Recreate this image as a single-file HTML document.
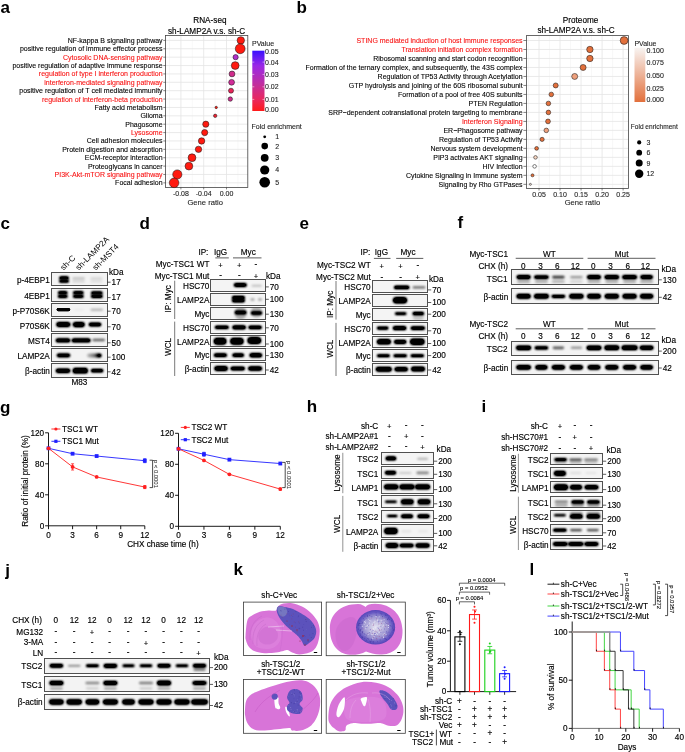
<!DOCTYPE html>
<html><head><meta charset="utf-8"><title>Figure</title>
<style>
html,body{margin:0;padding:0;background:#fff;}
svg{display:block;will-change:transform;}
text{font-family:"Liberation Sans", sans-serif;}
</style></head>
<body>
<svg width="685" height="752" viewBox="0 0 685 752" font-family="Liberation Sans, sans-serif">
<defs><filter id="f3" x="-50%" y="-100%" width="200%" height="300%"><feGaussianBlur stdDeviation="0.3"/></filter>
<filter id="g3" x="-50%" y="-100%" width="200%" height="300%"><feGaussianBlur stdDeviation="0.3"/><feComponentTransfer><feFuncA type="linear" slope="1.7"/></feComponentTransfer></filter>
<filter id="f4" x="-50%" y="-100%" width="200%" height="300%"><feGaussianBlur stdDeviation="0.4"/></filter>
<filter id="g4" x="-50%" y="-100%" width="200%" height="300%"><feGaussianBlur stdDeviation="0.4"/><feComponentTransfer><feFuncA type="linear" slope="1.7"/></feComponentTransfer></filter>
<filter id="f5" x="-50%" y="-100%" width="200%" height="300%"><feGaussianBlur stdDeviation="0.5"/></filter>
<filter id="g5" x="-50%" y="-100%" width="200%" height="300%"><feGaussianBlur stdDeviation="0.5"/><feComponentTransfer><feFuncA type="linear" slope="1.7"/></feComponentTransfer></filter>
<filter id="f6" x="-50%" y="-100%" width="200%" height="300%"><feGaussianBlur stdDeviation="0.6"/></filter>
<filter id="g6" x="-50%" y="-100%" width="200%" height="300%"><feGaussianBlur stdDeviation="0.6"/><feComponentTransfer><feFuncA type="linear" slope="1.7"/></feComponentTransfer></filter>
<filter id="f7" x="-50%" y="-100%" width="200%" height="300%"><feGaussianBlur stdDeviation="0.7"/></filter>
<filter id="g7" x="-50%" y="-100%" width="200%" height="300%"><feGaussianBlur stdDeviation="0.7"/><feComponentTransfer><feFuncA type="linear" slope="1.7"/></feComponentTransfer></filter>
<filter id="f8" x="-50%" y="-100%" width="200%" height="300%"><feGaussianBlur stdDeviation="0.8"/></filter>
<filter id="g8" x="-50%" y="-100%" width="200%" height="300%"><feGaussianBlur stdDeviation="0.8"/><feComponentTransfer><feFuncA type="linear" slope="1.7"/></feComponentTransfer></filter>
<filter id="f9" x="-50%" y="-100%" width="200%" height="300%"><feGaussianBlur stdDeviation="0.9"/></filter>
<filter id="g9" x="-50%" y="-100%" width="200%" height="300%"><feGaussianBlur stdDeviation="0.9"/><feComponentTransfer><feFuncA type="linear" slope="1.7"/></feComponentTransfer></filter>
<filter id="f10" x="-50%" y="-100%" width="200%" height="300%"><feGaussianBlur stdDeviation="1.0"/></filter>
<filter id="g10" x="-50%" y="-100%" width="200%" height="300%"><feGaussianBlur stdDeviation="1.0"/><feComponentTransfer><feFuncA type="linear" slope="1.7"/></feComponentTransfer></filter>
<filter id="f12" x="-50%" y="-100%" width="200%" height="300%"><feGaussianBlur stdDeviation="1.2"/></filter>
<filter id="g12" x="-50%" y="-100%" width="200%" height="300%"><feGaussianBlur stdDeviation="1.2"/><feComponentTransfer><feFuncA type="linear" slope="1.7"/></feComponentTransfer></filter>
<linearGradient id="lgL" x1="0" y1="0" x2="1" y2="0"><stop offset="0" stop-color="#000" stop-opacity="0.12"/><stop offset="0.55" stop-color="#000" stop-opacity="0.35"/><stop offset="0.8" stop-color="#000" stop-opacity="0.75"/><stop offset="1" stop-color="#000" stop-opacity="1"/></linearGradient></defs>
<rect x="0" y="0" width="685" height="752" fill="#fff"/>
<text x="0.4" y="12.6" font-size="17" font-weight="bold">a</text>
<text x="209.90" y="23.07" font-size="8.2" text-anchor="middle" stroke="#000" stroke-width="0.15">RNA-seq</text>
<text x="206.60" y="34.07" font-size="8.2" text-anchor="middle" stroke="#000" stroke-width="0.15">sh-LAMP2A v.s. sh-C</text>
<rect x="165.50" y="35.40" width="82.30" height="152.00" fill="#fff" stroke="none" stroke-width="0.8"/>
<line x1="169.50" y1="35.40" x2="169.50" y2="187.40" stroke="#f0f0f0" stroke-width="0.5"/>
<line x1="192.30" y1="35.40" x2="192.30" y2="187.40" stroke="#f0f0f0" stroke-width="0.5"/>
<line x1="215.10" y1="35.40" x2="215.10" y2="187.40" stroke="#f0f0f0" stroke-width="0.5"/>
<line x1="237.90" y1="35.40" x2="237.90" y2="187.40" stroke="#f0f0f0" stroke-width="0.5"/>
<line x1="180.90" y1="35.40" x2="180.90" y2="187.40" stroke="#e4e4e4" stroke-width="0.8"/>
<line x1="203.70" y1="35.40" x2="203.70" y2="187.40" stroke="#e4e4e4" stroke-width="0.8"/>
<line x1="226.50" y1="35.40" x2="226.50" y2="187.40" stroke="#e4e4e4" stroke-width="0.8"/>
<line x1="165.50" y1="40.40" x2="247.80" y2="40.40" stroke="#e4e4e4" stroke-width="0.8"/>
<line x1="165.50" y1="48.78" x2="247.80" y2="48.78" stroke="#e4e4e4" stroke-width="0.8"/>
<line x1="165.50" y1="57.16" x2="247.80" y2="57.16" stroke="#e4e4e4" stroke-width="0.8"/>
<line x1="165.50" y1="65.54" x2="247.80" y2="65.54" stroke="#e4e4e4" stroke-width="0.8"/>
<line x1="165.50" y1="73.92" x2="247.80" y2="73.92" stroke="#e4e4e4" stroke-width="0.8"/>
<line x1="165.50" y1="82.30" x2="247.80" y2="82.30" stroke="#e4e4e4" stroke-width="0.8"/>
<line x1="165.50" y1="90.68" x2="247.80" y2="90.68" stroke="#e4e4e4" stroke-width="0.8"/>
<line x1="165.50" y1="99.06" x2="247.80" y2="99.06" stroke="#e4e4e4" stroke-width="0.8"/>
<line x1="165.50" y1="107.44" x2="247.80" y2="107.44" stroke="#e4e4e4" stroke-width="0.8"/>
<line x1="165.50" y1="115.82" x2="247.80" y2="115.82" stroke="#e4e4e4" stroke-width="0.8"/>
<line x1="165.50" y1="124.20" x2="247.80" y2="124.20" stroke="#e4e4e4" stroke-width="0.8"/>
<line x1="165.50" y1="132.58" x2="247.80" y2="132.58" stroke="#e4e4e4" stroke-width="0.8"/>
<line x1="165.50" y1="140.96" x2="247.80" y2="140.96" stroke="#e4e4e4" stroke-width="0.8"/>
<line x1="165.50" y1="149.34" x2="247.80" y2="149.34" stroke="#e4e4e4" stroke-width="0.8"/>
<line x1="165.50" y1="157.72" x2="247.80" y2="157.72" stroke="#e4e4e4" stroke-width="0.8"/>
<line x1="165.50" y1="166.10" x2="247.80" y2="166.10" stroke="#e4e4e4" stroke-width="0.8"/>
<line x1="165.50" y1="174.48" x2="247.80" y2="174.48" stroke="#e4e4e4" stroke-width="0.8"/>
<line x1="165.50" y1="182.86" x2="247.80" y2="182.86" stroke="#e4e4e4" stroke-width="0.8"/>
<rect x="165.50" y="35.40" width="82.30" height="152.00" fill="none" stroke="#444" stroke-width="0.8"/>
<text x="162.60" y="42.85" font-size="7.0" text-anchor="end" stroke="#000" stroke-width="0.1">NF-kappa B signaling pathway</text>
<line x1="163.30" y1="40.40" x2="165.50" y2="40.40" stroke="#333" stroke-width="0.6"/>
<text x="162.60" y="51.23" font-size="7.0" text-anchor="end" stroke="#000" stroke-width="0.1">positive regulation of immune effector process</text>
<line x1="163.30" y1="48.78" x2="165.50" y2="48.78" stroke="#333" stroke-width="0.6"/>
<text x="162.60" y="59.61" font-size="7.0" text-anchor="end" fill="#f81414" stroke="#f81414" stroke-width="0.1">Cytosolic DNA-sensing pathway</text>
<line x1="163.30" y1="57.16" x2="165.50" y2="57.16" stroke="#333" stroke-width="0.6"/>
<text x="162.60" y="67.99" font-size="7.0" text-anchor="end" stroke="#000" stroke-width="0.1">positive regulation of adaptive immune response</text>
<line x1="163.30" y1="65.54" x2="165.50" y2="65.54" stroke="#333" stroke-width="0.6"/>
<text x="162.60" y="76.37" font-size="7.0" text-anchor="end" fill="#f81414" stroke="#f81414" stroke-width="0.1">regulation of type I interferon production</text>
<line x1="163.30" y1="73.92" x2="165.50" y2="73.92" stroke="#333" stroke-width="0.6"/>
<text x="162.60" y="84.75" font-size="7.0" text-anchor="end" fill="#f81414" stroke="#f81414" stroke-width="0.1">interferon-mediated signaling pathway</text>
<line x1="163.30" y1="82.30" x2="165.50" y2="82.30" stroke="#333" stroke-width="0.6"/>
<text x="162.60" y="93.13" font-size="7.0" text-anchor="end" stroke="#000" stroke-width="0.1">positive regulation of T cell mediated immunity</text>
<line x1="163.30" y1="90.68" x2="165.50" y2="90.68" stroke="#333" stroke-width="0.6"/>
<text x="162.60" y="101.51" font-size="7.0" text-anchor="end" fill="#f81414" stroke="#f81414" stroke-width="0.1">regulation of interferon-beta production</text>
<line x1="163.30" y1="99.06" x2="165.50" y2="99.06" stroke="#333" stroke-width="0.6"/>
<text x="162.60" y="109.89" font-size="7.0" text-anchor="end" stroke="#000" stroke-width="0.1">Fatty acid metabolism</text>
<line x1="163.30" y1="107.44" x2="165.50" y2="107.44" stroke="#333" stroke-width="0.6"/>
<text x="162.60" y="118.27" font-size="7.0" text-anchor="end" stroke="#000" stroke-width="0.1">Glioma</text>
<line x1="163.30" y1="115.82" x2="165.50" y2="115.82" stroke="#333" stroke-width="0.6"/>
<text x="162.60" y="126.65" font-size="7.0" text-anchor="end" stroke="#000" stroke-width="0.1">Phagosome</text>
<line x1="163.30" y1="124.20" x2="165.50" y2="124.20" stroke="#333" stroke-width="0.6"/>
<text x="162.60" y="135.03" font-size="7.0" text-anchor="end" fill="#f81414" stroke="#f81414" stroke-width="0.1">Lysosome</text>
<line x1="163.30" y1="132.58" x2="165.50" y2="132.58" stroke="#333" stroke-width="0.6"/>
<text x="162.60" y="143.41" font-size="7.0" text-anchor="end" stroke="#000" stroke-width="0.1">Cell adhesion molecules</text>
<line x1="163.30" y1="140.96" x2="165.50" y2="140.96" stroke="#333" stroke-width="0.6"/>
<text x="162.60" y="151.79" font-size="7.0" text-anchor="end" stroke="#000" stroke-width="0.1">Protein digestion and absorption</text>
<line x1="163.30" y1="149.34" x2="165.50" y2="149.34" stroke="#333" stroke-width="0.6"/>
<text x="162.60" y="160.17" font-size="7.0" text-anchor="end" stroke="#000" stroke-width="0.1">ECM-receptor interaction</text>
<line x1="163.30" y1="157.72" x2="165.50" y2="157.72" stroke="#333" stroke-width="0.6"/>
<text x="162.60" y="168.55" font-size="7.0" text-anchor="end" stroke="#000" stroke-width="0.1">Proteoglycans in cancer</text>
<line x1="163.30" y1="166.10" x2="165.50" y2="166.10" stroke="#333" stroke-width="0.6"/>
<text x="162.60" y="176.93" font-size="7.0" text-anchor="end" fill="#f81414" stroke="#f81414" stroke-width="0.1">PI3K-Akt-mTOR signaling pathway</text>
<line x1="163.30" y1="174.48" x2="165.50" y2="174.48" stroke="#333" stroke-width="0.6"/>
<text x="162.60" y="185.31" font-size="7.0" text-anchor="end" stroke="#000" stroke-width="0.1">Focal adhesion</text>
<line x1="163.30" y1="182.86" x2="165.50" y2="182.86" stroke="#333" stroke-width="0.6"/>
<circle cx="240.80" cy="40.40" r="3.70" fill="#ff1a10" stroke="#1a1a1a" stroke-width="0.55"/>
<circle cx="240.20" cy="48.78" r="4.90" fill="#ff1a10" stroke="#1a1a1a" stroke-width="0.55"/>
<circle cx="235.60" cy="57.16" r="2.60" fill="#b030c8" stroke="#1a1a1a" stroke-width="0.55"/>
<circle cx="235.20" cy="65.54" r="3.90" fill="#ff1a10" stroke="#1a1a1a" stroke-width="0.55"/>
<circle cx="232.00" cy="73.92" r="2.90" fill="#d02c8c" stroke="#1a1a1a" stroke-width="0.55"/>
<circle cx="231.60" cy="82.30" r="2.90" fill="#d02c98" stroke="#1a1a1a" stroke-width="0.55"/>
<circle cx="231.00" cy="90.68" r="2.50" fill="#e82458" stroke="#1a1a1a" stroke-width="0.55"/>
<circle cx="230.30" cy="99.06" r="2.20" fill="#d02c8c" stroke="#1a1a1a" stroke-width="0.55"/>
<circle cx="216.20" cy="107.44" r="1.20" fill="#ff1a10" stroke="#1a1a1a" stroke-width="0.55"/>
<circle cx="215.20" cy="115.82" r="1.70" fill="#f02030" stroke="#1a1a1a" stroke-width="0.55"/>
<circle cx="205.80" cy="124.20" r="3.10" fill="#ff1a10" stroke="#1a1a1a" stroke-width="0.55"/>
<circle cx="204.70" cy="132.58" r="3.10" fill="#ff1a10" stroke="#1a1a1a" stroke-width="0.55"/>
<circle cx="201.60" cy="140.96" r="3.20" fill="#ff1a10" stroke="#1a1a1a" stroke-width="0.55"/>
<circle cx="198.50" cy="149.34" r="3.20" fill="#ff1a10" stroke="#1a1a1a" stroke-width="0.55"/>
<circle cx="192.00" cy="157.72" r="3.90" fill="#ff1a10" stroke="#1a1a1a" stroke-width="0.55"/>
<circle cx="188.90" cy="166.10" r="3.90" fill="#ff1a10" stroke="#1a1a1a" stroke-width="0.55"/>
<circle cx="177.30" cy="174.48" r="4.60" fill="#ff1a10" stroke="#1a1a1a" stroke-width="0.55"/>
<circle cx="174.10" cy="182.86" r="4.80" fill="#ff1a10" stroke="#1a1a1a" stroke-width="0.55"/>
<line x1="180.90" y1="187.40" x2="180.90" y2="189.40" stroke="#333" stroke-width="0.6"/>
<text x="180.90" y="196.05" font-size="7.0" text-anchor="middle" fill="#222" stroke="#222" stroke-width="0.1">-0.08</text>
<line x1="203.70" y1="187.40" x2="203.70" y2="189.40" stroke="#333" stroke-width="0.6"/>
<text x="203.70" y="196.05" font-size="7.0" text-anchor="middle" fill="#222" stroke="#222" stroke-width="0.1">-0.04</text>
<line x1="226.50" y1="187.40" x2="226.50" y2="189.40" stroke="#333" stroke-width="0.6"/>
<text x="226.50" y="196.05" font-size="7.0" text-anchor="middle" fill="#222" stroke="#222" stroke-width="0.1">0.00</text>
<text x="205.20" y="204.66" font-size="7.6" text-anchor="middle" fill="#222" stroke="#222" stroke-width="0.1">Gene ratio</text>
<text x="252.00" y="46.05" font-size="7.0" fill="#222" stroke="#222" stroke-width="0.1">PValue</text>
<linearGradient id="ga" x1="0" y1="0" x2="0" y2="1"><stop offset="0" stop-color="#3a10ff"/><stop offset="0.25" stop-color="#9a28e6"/><stop offset="0.55" stop-color="#c02ea0"/><stop offset="0.8" stop-color="#e82860"/><stop offset="1" stop-color="#ff1a1a"/></linearGradient>
<rect x="252.30" y="50.70" width="12.20" height="60.30" fill="url(#ga)" stroke="none" stroke-width="0.8"/>
<text x="265.00" y="54.45" font-size="7.0" fill="#222" stroke="#222" stroke-width="0.1">0.05</text>
<text x="265.00" y="64.55" font-size="7.0" fill="#222" stroke="#222" stroke-width="0.1">0.04</text>
<text x="265.00" y="76.85" font-size="7.0" fill="#222" stroke="#222" stroke-width="0.1">0.03</text>
<text x="265.00" y="89.25" font-size="7.0" fill="#222" stroke="#222" stroke-width="0.1">0.02</text>
<text x="265.00" y="101.85" font-size="7.0" fill="#222" stroke="#222" stroke-width="0.1">0.01</text>
<text x="265.00" y="111.95" font-size="7.0" fill="#222" stroke="#222" stroke-width="0.1">0.00</text>
<line x1="252.30" y1="62.10" x2="254.30" y2="62.10" stroke="#fff" stroke-width="0.5"/>
<line x1="262.50" y1="62.10" x2="264.50" y2="62.10" stroke="#fff" stroke-width="0.5"/>
<line x1="252.30" y1="74.40" x2="254.30" y2="74.40" stroke="#fff" stroke-width="0.5"/>
<line x1="262.50" y1="74.40" x2="264.50" y2="74.40" stroke="#fff" stroke-width="0.5"/>
<line x1="252.30" y1="86.80" x2="254.30" y2="86.80" stroke="#fff" stroke-width="0.5"/>
<line x1="262.50" y1="86.80" x2="264.50" y2="86.80" stroke="#fff" stroke-width="0.5"/>
<line x1="252.30" y1="99.40" x2="254.30" y2="99.40" stroke="#fff" stroke-width="0.5"/>
<line x1="262.50" y1="99.40" x2="264.50" y2="99.40" stroke="#fff" stroke-width="0.5"/>
<text x="251.60" y="128.65" font-size="7.0" fill="#222" stroke="#222" stroke-width="0.1">Fold enrichment</text>
<circle cx="264.70" cy="136.80" r="1.40" fill="#000" stroke="none" stroke-width="0"/>
<text x="275.20" y="139.25" font-size="7.0" fill="#222" stroke="#222" stroke-width="0.1">1</text>
<circle cx="264.70" cy="146.10" r="3.30" fill="#000" stroke="none" stroke-width="0"/>
<text x="275.20" y="148.55" font-size="7.0" fill="#222" stroke="#222" stroke-width="0.1">2</text>
<circle cx="264.70" cy="157.80" r="3.90" fill="#000" stroke="none" stroke-width="0"/>
<text x="275.20" y="160.25" font-size="7.0" fill="#222" stroke="#222" stroke-width="0.1">3</text>
<circle cx="264.70" cy="170.00" r="4.60" fill="#000" stroke="none" stroke-width="0"/>
<text x="275.20" y="172.45" font-size="7.0" fill="#222" stroke="#222" stroke-width="0.1">4</text>
<circle cx="264.70" cy="182.20" r="5.30" fill="#000" stroke="none" stroke-width="0"/>
<text x="275.20" y="184.65" font-size="7.0" fill="#222" stroke="#222" stroke-width="0.1">5</text>
<text x="296.4" y="12.6" font-size="17" font-weight="bold">b</text>
<text x="580.60" y="22.77" font-size="8.2" text-anchor="middle" stroke="#000" stroke-width="0.15">Proteome</text>
<text x="576.00" y="33.27" font-size="8.2" text-anchor="middle" stroke="#000" stroke-width="0.15">sh-LAMP2A v.s. sh-C</text>
<rect x="526.40" y="35.60" width="102.00" height="152.90" fill="#fff" stroke="none" stroke-width="0.8"/>
<line x1="528.49" y1="35.60" x2="528.49" y2="188.50" stroke="#f0f0f0" stroke-width="0.5"/>
<line x1="549.51" y1="35.60" x2="549.51" y2="188.50" stroke="#f0f0f0" stroke-width="0.5"/>
<line x1="570.54" y1="35.60" x2="570.54" y2="188.50" stroke="#f0f0f0" stroke-width="0.5"/>
<line x1="591.56" y1="35.60" x2="591.56" y2="188.50" stroke="#f0f0f0" stroke-width="0.5"/>
<line x1="612.59" y1="35.60" x2="612.59" y2="188.50" stroke="#f0f0f0" stroke-width="0.5"/>
<line x1="539.00" y1="35.60" x2="539.00" y2="188.50" stroke="#e4e4e4" stroke-width="0.8"/>
<line x1="560.02" y1="35.60" x2="560.02" y2="188.50" stroke="#e4e4e4" stroke-width="0.8"/>
<line x1="581.05" y1="35.60" x2="581.05" y2="188.50" stroke="#e4e4e4" stroke-width="0.8"/>
<line x1="602.08" y1="35.60" x2="602.08" y2="188.50" stroke="#e4e4e4" stroke-width="0.8"/>
<line x1="623.10" y1="35.60" x2="623.10" y2="188.50" stroke="#e4e4e4" stroke-width="0.8"/>
<line x1="526.40" y1="40.50" x2="628.40" y2="40.50" stroke="#e4e4e4" stroke-width="0.8"/>
<line x1="526.40" y1="49.49" x2="628.40" y2="49.49" stroke="#e4e4e4" stroke-width="0.8"/>
<line x1="526.40" y1="58.48" x2="628.40" y2="58.48" stroke="#e4e4e4" stroke-width="0.8"/>
<line x1="526.40" y1="67.47" x2="628.40" y2="67.47" stroke="#e4e4e4" stroke-width="0.8"/>
<line x1="526.40" y1="76.46" x2="628.40" y2="76.46" stroke="#e4e4e4" stroke-width="0.8"/>
<line x1="526.40" y1="85.45" x2="628.40" y2="85.45" stroke="#e4e4e4" stroke-width="0.8"/>
<line x1="526.40" y1="94.44" x2="628.40" y2="94.44" stroke="#e4e4e4" stroke-width="0.8"/>
<line x1="526.40" y1="103.43" x2="628.40" y2="103.43" stroke="#e4e4e4" stroke-width="0.8"/>
<line x1="526.40" y1="112.42" x2="628.40" y2="112.42" stroke="#e4e4e4" stroke-width="0.8"/>
<line x1="526.40" y1="121.41" x2="628.40" y2="121.41" stroke="#e4e4e4" stroke-width="0.8"/>
<line x1="526.40" y1="130.40" x2="628.40" y2="130.40" stroke="#e4e4e4" stroke-width="0.8"/>
<line x1="526.40" y1="139.39" x2="628.40" y2="139.39" stroke="#e4e4e4" stroke-width="0.8"/>
<line x1="526.40" y1="148.38" x2="628.40" y2="148.38" stroke="#e4e4e4" stroke-width="0.8"/>
<line x1="526.40" y1="157.37" x2="628.40" y2="157.37" stroke="#e4e4e4" stroke-width="0.8"/>
<line x1="526.40" y1="166.36" x2="628.40" y2="166.36" stroke="#e4e4e4" stroke-width="0.8"/>
<line x1="526.40" y1="175.35" x2="628.40" y2="175.35" stroke="#e4e4e4" stroke-width="0.8"/>
<line x1="526.40" y1="184.34" x2="628.40" y2="184.34" stroke="#e4e4e4" stroke-width="0.8"/>
<rect x="526.40" y="35.60" width="102.00" height="152.90" fill="none" stroke="#444" stroke-width="0.8"/>
<text x="522.60" y="42.95" font-size="7.0" text-anchor="end" fill="#f81414" stroke="#f81414" stroke-width="0.1">STING mediated induction of host immune responses</text>
<line x1="523.40" y1="40.50" x2="526.40" y2="40.50" stroke="#333" stroke-width="0.6"/>
<text x="522.60" y="51.94" font-size="7.0" text-anchor="end" fill="#f81414" stroke="#f81414" stroke-width="0.1">Translation initiation complex formation</text>
<line x1="523.40" y1="49.49" x2="526.40" y2="49.49" stroke="#333" stroke-width="0.6"/>
<text x="522.60" y="60.93" font-size="7.0" text-anchor="end" stroke="#000" stroke-width="0.1">Ribosomal scanning and start codon recognition</text>
<line x1="523.40" y1="58.48" x2="526.40" y2="58.48" stroke="#333" stroke-width="0.6"/>
<text x="522.60" y="69.92" font-size="7.0" text-anchor="end" stroke="#000" stroke-width="0.1">Formation of the ternary complex, and subsequently, the 43S complex</text>
<line x1="523.40" y1="67.47" x2="526.40" y2="67.47" stroke="#333" stroke-width="0.6"/>
<text x="522.60" y="78.91" font-size="7.0" text-anchor="end" stroke="#000" stroke-width="0.1">Regulation of TP53 Activity through Acetylation</text>
<line x1="523.40" y1="76.46" x2="526.40" y2="76.46" stroke="#333" stroke-width="0.6"/>
<text x="522.60" y="87.90" font-size="7.0" text-anchor="end" stroke="#000" stroke-width="0.1">GTP hydrolysis and joining of the 60S ribosomal subunit</text>
<line x1="523.40" y1="85.45" x2="526.40" y2="85.45" stroke="#333" stroke-width="0.6"/>
<text x="522.60" y="96.89" font-size="7.0" text-anchor="end" stroke="#000" stroke-width="0.1">Formation of a pool of free 40S subunits</text>
<line x1="523.40" y1="94.44" x2="526.40" y2="94.44" stroke="#333" stroke-width="0.6"/>
<text x="522.60" y="105.88" font-size="7.0" text-anchor="end" stroke="#000" stroke-width="0.1">PTEN Regulation</text>
<line x1="523.40" y1="103.43" x2="526.40" y2="103.43" stroke="#333" stroke-width="0.6"/>
<text x="522.60" y="114.87" font-size="7.0" text-anchor="end" stroke="#000" stroke-width="0.1">SRP−dependent cotranslational protein targeting to membrane</text>
<line x1="523.40" y1="112.42" x2="526.40" y2="112.42" stroke="#333" stroke-width="0.6"/>
<text x="522.60" y="123.86" font-size="7.0" text-anchor="end" fill="#f81414" stroke="#f81414" stroke-width="0.1">Interferon Signaling</text>
<line x1="523.40" y1="121.41" x2="526.40" y2="121.41" stroke="#333" stroke-width="0.6"/>
<text x="522.60" y="132.85" font-size="7.0" text-anchor="end" stroke="#000" stroke-width="0.1">ER−Phagosome pathway</text>
<line x1="523.40" y1="130.40" x2="526.40" y2="130.40" stroke="#333" stroke-width="0.6"/>
<text x="522.60" y="141.84" font-size="7.0" text-anchor="end" stroke="#000" stroke-width="0.1">Regulation of TP53 Activity</text>
<line x1="523.40" y1="139.39" x2="526.40" y2="139.39" stroke="#333" stroke-width="0.6"/>
<text x="522.60" y="150.83" font-size="7.0" text-anchor="end" stroke="#000" stroke-width="0.1">Nervous system development</text>
<line x1="523.40" y1="148.38" x2="526.40" y2="148.38" stroke="#333" stroke-width="0.6"/>
<text x="522.60" y="159.82" font-size="7.0" text-anchor="end" stroke="#000" stroke-width="0.1">PIP3 activates AKT signaling</text>
<line x1="523.40" y1="157.37" x2="526.40" y2="157.37" stroke="#333" stroke-width="0.6"/>
<text x="522.60" y="168.81" font-size="7.0" text-anchor="end" stroke="#000" stroke-width="0.1">HIV Infection</text>
<line x1="523.40" y1="166.36" x2="526.40" y2="166.36" stroke="#333" stroke-width="0.6"/>
<text x="522.60" y="177.80" font-size="7.0" text-anchor="end" stroke="#000" stroke-width="0.1">Cytokine Signaling in Immune system</text>
<line x1="523.40" y1="175.35" x2="526.40" y2="175.35" stroke="#333" stroke-width="0.6"/>
<text x="522.60" y="186.79" font-size="7.0" text-anchor="end" stroke="#000" stroke-width="0.1">Signaling by Rho GTPases</text>
<line x1="523.40" y1="184.34" x2="526.40" y2="184.34" stroke="#333" stroke-width="0.6"/>
<circle cx="624.10" cy="40.50" r="3.90" fill="#e2703c" stroke="#1a1a1a" stroke-width="0.55"/>
<circle cx="589.90" cy="49.49" r="3.20" fill="#e2703c" stroke="#1a1a1a" stroke-width="0.55"/>
<circle cx="589.90" cy="58.48" r="3.20" fill="#e2703c" stroke="#1a1a1a" stroke-width="0.55"/>
<circle cx="583.10" cy="67.47" r="3.00" fill="#e2703c" stroke="#1a1a1a" stroke-width="0.55"/>
<circle cx="574.70" cy="76.46" r="3.00" fill="#eea07c" stroke="#1a1a1a" stroke-width="0.55"/>
<circle cx="555.70" cy="85.45" r="2.50" fill="#e2703c" stroke="#1a1a1a" stroke-width="0.55"/>
<circle cx="551.30" cy="94.44" r="2.30" fill="#e2703c" stroke="#1a1a1a" stroke-width="0.55"/>
<circle cx="548.40" cy="103.43" r="2.30" fill="#e2703c" stroke="#1a1a1a" stroke-width="0.55"/>
<circle cx="548.40" cy="112.42" r="2.30" fill="#e2703c" stroke="#1a1a1a" stroke-width="0.55"/>
<circle cx="548.00" cy="121.41" r="2.40" fill="#e2703c" stroke="#1a1a1a" stroke-width="0.55"/>
<circle cx="546.30" cy="130.40" r="2.30" fill="#eea07c" stroke="#1a1a1a" stroke-width="0.55"/>
<circle cx="542.10" cy="139.39" r="2.10" fill="#e2703c" stroke="#1a1a1a" stroke-width="0.55"/>
<circle cx="536.60" cy="148.38" r="1.90" fill="#e2703c" stroke="#1a1a1a" stroke-width="0.55"/>
<circle cx="535.50" cy="157.37" r="1.80" fill="#f5d4c0" stroke="#1a1a1a" stroke-width="0.55"/>
<circle cx="534.60" cy="166.36" r="1.80" fill="#ffffff" stroke="#1a1a1a" stroke-width="0.55"/>
<circle cx="532.50" cy="175.35" r="1.50" fill="#e2703c" stroke="#1a1a1a" stroke-width="0.55"/>
<circle cx="530.40" cy="184.34" r="1.00" fill="#f0e0d8" stroke="#1a1a1a" stroke-width="0.55"/>
<line x1="539.00" y1="188.50" x2="539.00" y2="190.50" stroke="#333" stroke-width="0.6"/>
<text x="539.00" y="196.85" font-size="7.0" text-anchor="middle" fill="#222" stroke="#222" stroke-width="0.1">0.05</text>
<line x1="560.02" y1="188.50" x2="560.02" y2="190.50" stroke="#333" stroke-width="0.6"/>
<text x="560.02" y="196.85" font-size="7.0" text-anchor="middle" fill="#222" stroke="#222" stroke-width="0.1">0.10</text>
<line x1="581.05" y1="188.50" x2="581.05" y2="190.50" stroke="#333" stroke-width="0.6"/>
<text x="581.05" y="196.85" font-size="7.0" text-anchor="middle" fill="#222" stroke="#222" stroke-width="0.1">0.15</text>
<line x1="602.08" y1="188.50" x2="602.08" y2="190.50" stroke="#333" stroke-width="0.6"/>
<text x="602.08" y="196.85" font-size="7.0" text-anchor="middle" fill="#222" stroke="#222" stroke-width="0.1">0.20</text>
<line x1="623.10" y1="188.50" x2="623.10" y2="190.50" stroke="#333" stroke-width="0.6"/>
<text x="623.10" y="196.85" font-size="7.0" text-anchor="middle" fill="#222" stroke="#222" stroke-width="0.1">0.25</text>
<text x="582.40" y="204.66" font-size="7.6" text-anchor="middle" fill="#222" stroke="#222" stroke-width="0.1">Gene ratio</text>
<text x="634.40" y="45.85" font-size="7.0" fill="#222" stroke="#222" stroke-width="0.1">PValue</text>
<linearGradient id="gb" x1="0" y1="0" x2="0" y2="1"><stop offset="0" stop-color="#f8f4f2"/><stop offset="1" stop-color="#e2703c"/></linearGradient>
<rect x="634.50" y="47.70" width="10.80" height="54.30" fill="url(#gb)" stroke="none" stroke-width="0.8"/>
<text x="646.40" y="52.55" font-size="7.0" fill="#222" stroke="#222" stroke-width="0.1">0.100</text>
<text x="646.40" y="64.65" font-size="7.0" fill="#222" stroke="#222" stroke-width="0.1">0.075</text>
<text x="646.40" y="77.85" font-size="7.0" fill="#222" stroke="#222" stroke-width="0.1">0.050</text>
<text x="646.40" y="91.15" font-size="7.0" fill="#222" stroke="#222" stroke-width="0.1">0.025</text>
<text x="646.40" y="101.95" font-size="7.0" fill="#222" stroke="#222" stroke-width="0.1">0.000</text>
<text x="630.80" y="129.09" font-size="6.55" fill="#222" stroke="#222" stroke-width="0.1">Fold enrichment</text>
<circle cx="639.20" cy="142.40" r="2.10" fill="#000" stroke="none" stroke-width="0"/>
<text x="646.40" y="144.85" font-size="7.0" fill="#222" stroke="#222" stroke-width="0.1">3</text>
<circle cx="639.20" cy="152.70" r="2.90" fill="#000" stroke="none" stroke-width="0"/>
<text x="646.40" y="155.15" font-size="7.0" fill="#222" stroke="#222" stroke-width="0.1">6</text>
<circle cx="639.20" cy="163.10" r="3.50" fill="#000" stroke="none" stroke-width="0"/>
<text x="646.40" y="165.55" font-size="7.0" fill="#222" stroke="#222" stroke-width="0.1">9</text>
<circle cx="639.20" cy="173.80" r="4.20" fill="#000" stroke="none" stroke-width="0"/>
<text x="646.40" y="176.25" font-size="7.0" fill="#222" stroke="#222" stroke-width="0.1">12</text>
<text x="0.6" y="228.8" font-size="17" font-weight="bold">c</text>
<text transform="translate(63.60,270.8) rotate(-45)" font-size="8.2">sh-C</text>
<text transform="translate(78.80,270.8) rotate(-45)" font-size="8.2">sh-LAMP2A</text>
<text transform="translate(95.80,270.8) rotate(-45)" font-size="8.2">sh-MST4</text>
<text x="109.00" y="274.87" font-size="8.2" stroke="#000" stroke-width="0.15">kDa</text>
<clipPath id="cl1"><rect x="51.50" y="272.50" width="56.00" height="13.00"/></clipPath>
<rect x="51.50" y="272.50" width="56.00" height="13.00" fill="#f3f3f3" stroke="none" stroke-width="0.8"/>
<g clip-path="url(#cl1)">
<rect x="59.25" y="276.50" width="9.50" height="3.00" rx="1.50" fill="#000" fill-opacity="1.0" filter="url(#g9)"/>
<rect x="59.25" y="279.80" width="9.50" height="2.80" rx="1.40" fill="#000" fill-opacity="0.95" filter="url(#g9)"/>
<rect x="72.35" y="277.30" width="12.50" height="2.20" rx="1.10" fill="#000" fill-opacity="0.22" filter="url(#f9)"/>
<rect x="72.35" y="280.40" width="12.50" height="2.00" rx="1.00" fill="#000" fill-opacity="0.14" filter="url(#f9)"/>
<rect x="90.40" y="277.40" width="12.00" height="2.00" rx="1.00" fill="#000" fill-opacity="0.15" filter="url(#f9)"/>
<rect x="90.40" y="280.40" width="12.00" height="2.00" rx="1.00" fill="#000" fill-opacity="0.1" filter="url(#f9)"/>
</g>
<rect x="51.50" y="272.50" width="56.00" height="13.00" fill="none" stroke="#505050" stroke-width="1.0"/>
<text x="49.80" y="282.97" font-size="8.2" text-anchor="end" stroke="#000" stroke-width="0.15">p-4EBP1</text>
<line x1="107.40" y1="282.20" x2="110.60" y2="282.20" stroke="#333" stroke-width="0.8"/>
<text x="111.60" y="285.07" font-size="8.2" stroke="#000" stroke-width="0.15">17</text>
<clipPath id="cl2"><rect x="51.50" y="288.50" width="56.00" height="13.00"/></clipPath>
<rect x="51.50" y="288.50" width="56.00" height="13.00" fill="#f3f3f3" stroke="none" stroke-width="0.8"/>
<g clip-path="url(#cl2)">
<rect x="57.95" y="291.30" width="9.50" height="3.00" rx="1.50" fill="#000" fill-opacity="0.95" filter="url(#g9)"/>
<rect x="57.95" y="294.70" width="9.50" height="3.00" rx="1.50" fill="#000" fill-opacity="0.95" filter="url(#g9)"/>
<rect x="73.05" y="291.30" width="10.50" height="3.00" rx="1.50" fill="#000" fill-opacity="0.95" filter="url(#g9)"/>
<rect x="73.05" y="294.70" width="10.50" height="3.00" rx="1.50" fill="#000" fill-opacity="0.95" filter="url(#g9)"/>
<rect x="91.05" y="291.50" width="11.50" height="3.00" rx="1.50" fill="#000" fill-opacity="0.97" filter="url(#g9)"/>
<rect x="91.05" y="294.80" width="11.50" height="3.00" rx="1.50" fill="#000" fill-opacity="1.0" filter="url(#g9)"/>
</g>
<rect x="51.50" y="288.50" width="56.00" height="13.00" fill="none" stroke="#505050" stroke-width="1.0"/>
<text x="49.80" y="298.77" font-size="8.2" text-anchor="end" stroke="#000" stroke-width="0.15">4EBP1</text>
<line x1="107.40" y1="297.60" x2="110.60" y2="297.60" stroke="#333" stroke-width="0.8"/>
<text x="111.60" y="300.47" font-size="8.2" stroke="#000" stroke-width="0.15">17</text>
<clipPath id="cl3"><rect x="51.50" y="303.50" width="56.00" height="13.00"/></clipPath>
<rect x="51.50" y="303.50" width="56.00" height="13.00" fill="#f3f3f3" stroke="none" stroke-width="0.8"/>
<g clip-path="url(#cl3)">
<rect x="56.65" y="307.90" width="13.50" height="3.40" rx="1.70" fill="#000" fill-opacity="1.0" filter="url(#g5)"/>
<rect x="74.00" y="309.05" width="10.00" height="1.50" rx="0.75" fill="#000" fill-opacity="0.05" filter="url(#f9)"/>
<rect x="90.55" y="308.60" width="12.50" height="2.40" rx="1.20" fill="#000" fill-opacity="0.25" filter="url(#f9)"/>
</g>
<rect x="51.50" y="303.50" width="56.00" height="13.00" fill="none" stroke="#505050" stroke-width="1.0"/>
<text x="49.80" y="313.97" font-size="8.2" text-anchor="end" stroke="#000" stroke-width="0.15">p-P70S6K</text>
<line x1="107.40" y1="311.20" x2="110.60" y2="311.20" stroke="#333" stroke-width="0.8"/>
<text x="111.60" y="314.07" font-size="8.2" stroke="#000" stroke-width="0.15">70</text>
<clipPath id="cl4"><rect x="51.50" y="318.50" width="56.00" height="13.00"/></clipPath>
<rect x="51.50" y="318.50" width="56.00" height="13.00" fill="#f3f3f3" stroke="none" stroke-width="0.8"/>
<g clip-path="url(#cl4)">
<rect x="56.40" y="322.30" width="13.80" height="4.40" rx="2.20" fill="#000" fill-opacity="1.0" filter="url(#g9)"/>
<rect x="72.95" y="322.20" width="11.70" height="4.80" rx="2.40" fill="#000" fill-opacity="1.0" filter="url(#g9)"/>
<rect x="88.85" y="322.80" width="12.30" height="3.40" rx="1.70" fill="#000" fill-opacity="1.0" filter="url(#g9)"/>
</g>
<rect x="51.50" y="318.50" width="56.00" height="13.00" fill="none" stroke="#505050" stroke-width="1.0"/>
<text x="49.80" y="328.87" font-size="8.2" text-anchor="end" stroke="#000" stroke-width="0.15">P70S6K</text>
<line x1="107.40" y1="326.80" x2="110.60" y2="326.80" stroke="#333" stroke-width="0.8"/>
<text x="111.60" y="329.67" font-size="8.2" stroke="#000" stroke-width="0.15">70</text>
<clipPath id="cl5"><rect x="51.50" y="333.50" width="56.00" height="13.00"/></clipPath>
<rect x="51.50" y="333.50" width="56.00" height="13.00" fill="#f3f3f3" stroke="none" stroke-width="0.8"/>
<g clip-path="url(#cl5)">
<rect x="55.85" y="338.50" width="14.30" height="3.80" rx="1.90" fill="#000" fill-opacity="0.95" filter="url(#g9)"/>
<rect x="71.80" y="338.50" width="18.60" height="3.80" rx="1.90" fill="#000" fill-opacity="0.95" filter="url(#g9)"/>
<rect x="92.45" y="338.80" width="12.50" height="2.40" rx="1.20" fill="#000" fill-opacity="0.62" filter="url(#f9)"/>
</g>
<rect x="51.50" y="333.50" width="56.00" height="13.00" fill="none" stroke="#505050" stroke-width="1.0"/>
<text x="49.80" y="343.82" font-size="8.2" text-anchor="end" stroke="#000" stroke-width="0.15">MST4</text>
<line x1="107.40" y1="342.80" x2="110.60" y2="342.80" stroke="#333" stroke-width="0.8"/>
<text x="111.60" y="345.67" font-size="8.2" stroke="#000" stroke-width="0.15">50</text>
<clipPath id="cl6"><rect x="51.50" y="348.50" width="56.00" height="13.00"/></clipPath>
<rect x="51.50" y="348.50" width="56.00" height="13.00" fill="#f3f3f3" stroke="none" stroke-width="0.8"/>
<g clip-path="url(#cl6)">
<rect x="56.85" y="353.40" width="13.30" height="3.80" rx="1.90" fill="#000" fill-opacity="0.85" filter="url(#g9)"/>
<rect x="86.95" y="353.40" width="14.50" height="4.00" rx="2.00" fill="url(#lgL)" fill-opacity="1.0" filter="url(#g9)"/>
</g>
<rect x="51.50" y="348.50" width="56.00" height="13.00" fill="none" stroke="#505050" stroke-width="1.0"/>
<text x="49.80" y="359.17" font-size="8.2" text-anchor="end" stroke="#000" stroke-width="0.15">LAMP2A</text>
<line x1="107.40" y1="357.20" x2="110.60" y2="357.20" stroke="#333" stroke-width="0.8"/>
<text x="111.60" y="360.07" font-size="8.2" stroke="#000" stroke-width="0.15">100</text>
<clipPath id="cl7"><rect x="51.50" y="363.50" width="56.00" height="14.00"/></clipPath>
<rect x="51.50" y="363.50" width="56.00" height="14.00" fill="#f3f3f3" stroke="none" stroke-width="0.8"/>
<g clip-path="url(#cl7)">
<rect x="55.85" y="368.70" width="14.30" height="4.00" rx="2.00" fill="#000" fill-opacity="1.0" filter="url(#g9)"/>
<rect x="72.85" y="368.10" width="14.90" height="5.20" rx="2.60" fill="#000" fill-opacity="1.0" filter="url(#g9)"/>
<rect x="91.00" y="369.10" width="12.20" height="3.20" rx="1.60" fill="#000" fill-opacity="1.0" filter="url(#g9)"/>
</g>
<rect x="51.50" y="363.50" width="56.00" height="14.00" fill="none" stroke="#505050" stroke-width="1.0"/>
<text x="49.80" y="374.47" font-size="8.2" text-anchor="end" stroke="#000" stroke-width="0.15">β-actin</text>
<line x1="107.40" y1="371.80" x2="110.60" y2="371.80" stroke="#333" stroke-width="0.8"/>
<text x="111.60" y="374.67" font-size="8.2" stroke="#000" stroke-width="0.15">42</text>
<text x="79.40" y="385.47" font-size="8.2" text-anchor="middle" stroke="#000" stroke-width="0.15">M83</text>
<text x="139.4" y="228.6" font-size="17" font-weight="bold">d</text>
<text x="208.40" y="254.97" font-size="8.2" text-anchor="end" stroke="#000" stroke-width="0.15">IP:</text>
<text x="220.60" y="254.97" font-size="8.2" text-anchor="middle" stroke="#000" stroke-width="0.15">IgG</text>
<text x="248.30" y="254.97" font-size="8.2" text-anchor="middle" stroke="#000" stroke-width="0.15">Myc</text>
<line x1="215.30" y1="257.90" x2="228.80" y2="257.90" stroke="#333" stroke-width="0.8"/>
<line x1="233.00" y1="257.90" x2="261.50" y2="257.90" stroke="#333" stroke-width="0.8"/>
<text x="209.40" y="267.47" font-size="8.2" text-anchor="end" stroke="#000" stroke-width="0.15">Myc-TSC1 WT</text>
<text x="220.60" y="267.87" font-size="7.6259999999999994" text-anchor="middle" stroke="#000" stroke-width="0.1">+</text>
<text x="239.30" y="267.87" font-size="7.6259999999999994" text-anchor="middle" stroke="#000" stroke-width="0.1">+</text>
<text x="255.90" y="267.27" font-size="8.2" text-anchor="middle" stroke="#000" stroke-width="0.15">-</text>
<text x="209.40" y="278.57" font-size="8.2" text-anchor="end" stroke="#000" stroke-width="0.15">Myc-TSC1 Mut</text>
<text x="220.60" y="278.37" font-size="8.2" text-anchor="middle" stroke="#000" stroke-width="0.15">-</text>
<text x="239.30" y="278.37" font-size="8.2" text-anchor="middle" stroke="#000" stroke-width="0.15">-</text>
<text x="255.90" y="278.97" font-size="7.6259999999999994" text-anchor="middle" stroke="#000" stroke-width="0.1">+</text>
<text x="266.00" y="278.57" font-size="8.2" stroke="#000" stroke-width="0.15">kDa</text>
<clipPath id="cl8"><rect x="210.50" y="279.50" width="55.00" height="12.00"/></clipPath>
<rect x="210.50" y="279.50" width="55.00" height="12.00" fill="#f4f4f4" stroke="none" stroke-width="0.8"/>
<g clip-path="url(#cl8)">
<rect x="233.90" y="283.30" width="12.80" height="3.40" rx="1.70" fill="#000" fill-opacity="1.0" filter="url(#g9)"/>
<rect x="251.50" y="284.70" width="10.40" height="2.00" rx="1.00" fill="#000" fill-opacity="0.22" filter="url(#f9)"/>
</g>
<rect x="210.50" y="279.50" width="55.00" height="12.00" fill="none" stroke="#505050" stroke-width="1.0"/>
<text x="209.40" y="289.17" font-size="8.2" text-anchor="end" stroke="#000" stroke-width="0.15">HSC70</text>
<line x1="265.60" y1="286.90" x2="268.80" y2="286.90" stroke="#333" stroke-width="0.8"/>
<text x="269.80" y="289.77" font-size="8.2" stroke="#000" stroke-width="0.15">70</text>
<clipPath id="cl9"><rect x="210.50" y="293.50" width="55.00" height="12.00"/></clipPath>
<rect x="210.50" y="293.50" width="55.00" height="12.00" fill="#f4f4f4" stroke="none" stroke-width="0.8"/>
<g clip-path="url(#cl9)">
<rect x="232.00" y="296.10" width="12.80" height="3.40" rx="1.70" fill="#000" fill-opacity="1.0" filter="url(#g9)"/>
<rect x="232.00" y="298.90" width="12.80" height="3.40" rx="1.70" fill="#000" fill-opacity="1.0" filter="url(#g9)"/>
<rect x="250.50" y="298.20" width="4.00" height="2.60" rx="1.30" fill="#000" fill-opacity="0.35" filter="url(#f9)"/>
<rect x="258.00" y="298.20" width="4.00" height="2.60" rx="1.30" fill="#000" fill-opacity="0.35" filter="url(#f9)"/>
</g>
<rect x="210.50" y="293.50" width="55.00" height="12.00" fill="none" stroke="#505050" stroke-width="1.0"/>
<text x="209.40" y="303.32" font-size="8.2" text-anchor="end" stroke="#000" stroke-width="0.15">LAMP2A</text>
<line x1="265.60" y1="299.30" x2="268.80" y2="299.30" stroke="#333" stroke-width="0.8"/>
<text x="269.80" y="302.17" font-size="8.2" stroke="#000" stroke-width="0.15">100</text>
<clipPath id="cl10"><rect x="210.50" y="307.50" width="55.00" height="12.00"/></clipPath>
<rect x="210.50" y="307.50" width="55.00" height="12.00" fill="#f4f4f4" stroke="none" stroke-width="0.8"/>
<g clip-path="url(#cl10)">
<rect x="234.60" y="306.50" width="12.00" height="13.00" rx="6.00" fill="#000" fill-opacity="0.3" filter="url(#f10)"/>
<rect x="250.75" y="306.50" width="11.50" height="11.00" rx="5.50" fill="#000" fill-opacity="0.28" filter="url(#f10)"/>
<rect x="234.90" y="310.80" width="11.40" height="3.40" rx="1.70" fill="#000" fill-opacity="1.0" filter="url(#g9)"/>
<rect x="251.00" y="311.60" width="11.00" height="3.00" rx="1.50" fill="#000" fill-opacity="1.0" filter="url(#g9)"/>
</g>
<rect x="210.50" y="307.50" width="55.00" height="12.00" fill="none" stroke="#505050" stroke-width="1.0"/>
<text x="209.40" y="317.07" font-size="8.2" text-anchor="end" stroke="#000" stroke-width="0.15">Myc</text>
<line x1="265.60" y1="314.20" x2="268.80" y2="314.20" stroke="#333" stroke-width="0.8"/>
<text x="269.80" y="317.07" font-size="8.2" stroke="#000" stroke-width="0.15">130</text>
<clipPath id="cl11"><rect x="210.50" y="321.50" width="55.00" height="12.00"/></clipPath>
<rect x="210.50" y="321.50" width="55.00" height="12.00" fill="#f4f4f4" stroke="none" stroke-width="0.8"/>
<g clip-path="url(#cl11)">
<rect x="214.95" y="325.80" width="13.70" height="3.00" rx="1.50" fill="#000" fill-opacity="1.0" filter="url(#g9)"/>
<rect x="232.45" y="325.45" width="13.30" height="3.70" rx="1.85" fill="#000" fill-opacity="1.0" filter="url(#g9)"/>
<rect x="248.55" y="325.65" width="13.10" height="3.30" rx="1.65" fill="#000" fill-opacity="1.0" filter="url(#g9)"/>
</g>
<rect x="210.50" y="321.50" width="55.00" height="12.00" fill="none" stroke="#505050" stroke-width="1.0"/>
<text x="209.40" y="331.02" font-size="8.2" text-anchor="end" stroke="#000" stroke-width="0.15">HSC70</text>
<line x1="265.60" y1="327.80" x2="268.80" y2="327.80" stroke="#333" stroke-width="0.8"/>
<text x="269.80" y="330.67" font-size="8.2" stroke="#000" stroke-width="0.15">70</text>
<clipPath id="cl12"><rect x="210.50" y="335.50" width="55.00" height="11.00"/></clipPath>
<rect x="210.50" y="335.50" width="55.00" height="11.00" fill="#f4f4f4" stroke="none" stroke-width="0.8"/>
<g clip-path="url(#cl12)">
<rect x="213.95" y="337.90" width="12.30" height="6.60" rx="3.30" fill="#000" fill-opacity="1.0" filter="url(#g8)"/>
<rect x="230.40" y="337.90" width="13.00" height="6.60" rx="3.30" fill="#000" fill-opacity="1.0" filter="url(#g8)"/>
<rect x="247.65" y="337.20" width="13.30" height="6.60" rx="3.30" fill="#000" fill-opacity="1.0" filter="url(#g8)"/>
</g>
<rect x="210.50" y="335.50" width="55.00" height="11.00" fill="none" stroke="#505050" stroke-width="1.0"/>
<text x="209.40" y="344.67" font-size="8.2" text-anchor="end" stroke="#000" stroke-width="0.15">LAMP2A</text>
<line x1="265.60" y1="344.00" x2="268.80" y2="344.00" stroke="#333" stroke-width="0.8"/>
<text x="269.80" y="346.87" font-size="8.2" stroke="#000" stroke-width="0.15">100</text>
<clipPath id="cl13"><rect x="210.50" y="348.50" width="55.00" height="12.00"/></clipPath>
<rect x="210.50" y="348.50" width="55.00" height="12.00" fill="#f4f4f4" stroke="none" stroke-width="0.8"/>
<g clip-path="url(#cl13)">
<rect x="214.00" y="353.60" width="12.80" height="3.20" rx="1.60" fill="#000" fill-opacity="1.0" filter="url(#g9)"/>
<rect x="232.50" y="353.60" width="11.40" height="3.20" rx="1.60" fill="#000" fill-opacity="1.0" filter="url(#g9)"/>
<rect x="249.60" y="353.20" width="12.40" height="4.00" rx="2.00" fill="#000" fill-opacity="1.0" filter="url(#g9)"/>
</g>
<rect x="210.50" y="348.50" width="55.00" height="12.00" fill="none" stroke="#505050" stroke-width="1.0"/>
<text x="209.40" y="358.37" font-size="8.2" text-anchor="end" stroke="#000" stroke-width="0.15">Myc</text>
<line x1="265.60" y1="355.60" x2="268.80" y2="355.60" stroke="#333" stroke-width="0.8"/>
<text x="269.80" y="358.47" font-size="8.2" stroke="#000" stroke-width="0.15">130</text>
<clipPath id="cl14"><rect x="210.50" y="362.50" width="55.00" height="12.00"/></clipPath>
<rect x="210.50" y="362.50" width="55.00" height="12.00" fill="#f4f4f4" stroke="none" stroke-width="0.8"/>
<g clip-path="url(#cl14)">
<rect x="214.45" y="366.20" width="13.30" height="4.60" rx="2.30" fill="#000" fill-opacity="1.0" filter="url(#g9)"/>
<rect x="230.60" y="366.70" width="14.20" height="3.60" rx="1.80" fill="#000" fill-opacity="1.0" filter="url(#g9)"/>
<rect x="248.20" y="366.40" width="13.80" height="4.20" rx="2.10" fill="#000" fill-opacity="1.0" filter="url(#g9)"/>
</g>
<rect x="210.50" y="362.50" width="55.00" height="12.00" fill="none" stroke="#505050" stroke-width="1.0"/>
<text x="209.40" y="372.17" font-size="8.2" text-anchor="end" stroke="#000" stroke-width="0.15">β-actin</text>
<line x1="265.60" y1="370.00" x2="268.80" y2="370.00" stroke="#333" stroke-width="0.8"/>
<text x="269.80" y="372.87" font-size="8.2" stroke="#000" stroke-width="0.15">42</text>
<line x1="174.70" y1="280.70" x2="174.70" y2="319.00" stroke="#555" stroke-width="0.8"/>
<text transform="translate(168.20,298.80) rotate(-90)" x="0" y="2.87" font-size="8.2" text-anchor="middle" stroke="#000" stroke-width="0.15">IP: Myc</text>
<line x1="174.70" y1="321.60" x2="174.70" y2="376.00" stroke="#555" stroke-width="0.8"/>
<text transform="translate(168.60,347.00) rotate(-90)" x="0" y="2.87" font-size="8.2" text-anchor="middle" stroke="#000" stroke-width="0.15">WCL</text>
<text x="299.5" y="228.6" font-size="17" font-weight="bold">e</text>
<text x="370.40" y="254.97" font-size="8.2" text-anchor="end" stroke="#000" stroke-width="0.15">IP:</text>
<text x="381.40" y="254.97" font-size="8.2" text-anchor="middle" stroke="#000" stroke-width="0.15">IgG</text>
<text x="408.00" y="254.97" font-size="8.2" text-anchor="middle" stroke="#000" stroke-width="0.15">Myc</text>
<line x1="373.90" y1="258.40" x2="390.50" y2="258.40" stroke="#333" stroke-width="0.8"/>
<line x1="396.20" y1="258.40" x2="423.30" y2="258.40" stroke="#333" stroke-width="0.8"/>
<text x="370.70" y="268.17" font-size="8.2" text-anchor="end" stroke="#000" stroke-width="0.15">Myc-TSC2 WT</text>
<text x="381.80" y="268.57" font-size="7.6259999999999994" text-anchor="middle" stroke="#000" stroke-width="0.1">+</text>
<text x="400.50" y="268.57" font-size="7.6259999999999994" text-anchor="middle" stroke="#000" stroke-width="0.1">+</text>
<text x="417.80" y="267.97" font-size="8.2" text-anchor="middle" stroke="#000" stroke-width="0.15">-</text>
<text x="370.70" y="279.87" font-size="8.2" text-anchor="end" stroke="#000" stroke-width="0.15">Myc-TSC2 Mut</text>
<text x="381.80" y="279.67" font-size="8.2" text-anchor="middle" stroke="#000" stroke-width="0.15">-</text>
<text x="400.50" y="279.67" font-size="8.2" text-anchor="middle" stroke="#000" stroke-width="0.15">-</text>
<text x="417.80" y="280.27" font-size="7.6259999999999994" text-anchor="middle" stroke="#000" stroke-width="0.1">+</text>
<text x="429.00" y="281.57" font-size="8.2" stroke="#000" stroke-width="0.15">kDa</text>
<clipPath id="cl15"><rect x="372.50" y="280.50" width="55.00" height="12.00"/></clipPath>
<rect x="372.50" y="280.50" width="55.00" height="12.00" fill="#f4f4f4" stroke="none" stroke-width="0.8"/>
<g clip-path="url(#cl15)">
<rect x="394.10" y="285.70" width="15.20" height="3.40" rx="1.70" fill="#000" fill-opacity="1.0" filter="url(#g9)"/>
<rect x="412.60" y="286.30" width="12.80" height="2.20" rx="1.10" fill="#000" fill-opacity="0.6" filter="url(#f9)"/>
</g>
<rect x="372.50" y="280.50" width="55.00" height="12.00" fill="none" stroke="#505050" stroke-width="1.0"/>
<text x="370.70" y="290.17" font-size="8.2" text-anchor="end" stroke="#000" stroke-width="0.15">HSC70</text>
<line x1="428.00" y1="289.90" x2="431.20" y2="289.90" stroke="#333" stroke-width="0.8"/>
<text x="432.20" y="292.77" font-size="8.2" stroke="#000" stroke-width="0.15">70</text>
<clipPath id="cl16"><rect x="372.50" y="294.50" width="55.00" height="12.00"/></clipPath>
<rect x="372.50" y="294.50" width="55.00" height="12.00" fill="#f4f4f4" stroke="none" stroke-width="0.8"/>
<g clip-path="url(#cl16)">
<rect x="393.10" y="297.30" width="13.80" height="6.00" rx="3.00" fill="#000" fill-opacity="1.0" filter="url(#g8)"/>
</g>
<rect x="372.50" y="294.50" width="55.00" height="12.00" fill="none" stroke="#505050" stroke-width="1.0"/>
<text x="370.70" y="304.22" font-size="8.2" text-anchor="end" stroke="#000" stroke-width="0.15">LAMP2A</text>
<line x1="428.00" y1="302.50" x2="431.20" y2="302.50" stroke="#333" stroke-width="0.8"/>
<text x="432.20" y="305.37" font-size="8.2" stroke="#000" stroke-width="0.15">100</text>
<clipPath id="cl17"><rect x="372.50" y="308.50" width="55.00" height="12.00"/></clipPath>
<rect x="372.50" y="308.50" width="55.00" height="12.00" fill="#f4f4f4" stroke="none" stroke-width="0.8"/>
<g clip-path="url(#cl17)">
<rect x="412.80" y="314.00" width="11.00" height="6.00" rx="3.00" fill="#000" fill-opacity="0.2" filter="url(#f12)"/>
<rect x="395.00" y="312.60" width="11.40" height="2.20" rx="1.10" fill="#000" fill-opacity="1.0" filter="url(#g9)"/>
<rect x="412.60" y="312.00" width="11.40" height="3.00" rx="1.50" fill="#000" fill-opacity="1.0" filter="url(#g9)"/>
</g>
<rect x="372.50" y="308.50" width="55.00" height="12.00" fill="none" stroke="#505050" stroke-width="1.0"/>
<text x="370.70" y="318.07" font-size="8.2" text-anchor="end" stroke="#000" stroke-width="0.15">Myc</text>
<line x1="428.00" y1="314.20" x2="431.20" y2="314.20" stroke="#333" stroke-width="0.8"/>
<text x="432.20" y="317.07" font-size="8.2" stroke="#000" stroke-width="0.15">200</text>
<clipPath id="cl18"><rect x="372.50" y="322.50" width="55.00" height="12.00"/></clipPath>
<rect x="372.50" y="322.50" width="55.00" height="12.00" fill="#f4f4f4" stroke="none" stroke-width="0.8"/>
<g clip-path="url(#cl18)">
<rect x="377.00" y="326.80" width="11.40" height="2.60" rx="1.30" fill="#000" fill-opacity="1.0" filter="url(#g9)"/>
<rect x="392.85" y="326.20" width="13.50" height="3.80" rx="1.90" fill="#000" fill-opacity="1.0" filter="url(#g9)"/>
<rect x="410.70" y="326.50" width="14.20" height="3.20" rx="1.60" fill="#000" fill-opacity="1.0" filter="url(#g9)"/>
</g>
<rect x="372.50" y="322.50" width="55.00" height="12.00" fill="none" stroke="#505050" stroke-width="1.0"/>
<text x="370.70" y="332.07" font-size="8.2" text-anchor="end" stroke="#000" stroke-width="0.15">HSC70</text>
<line x1="428.00" y1="330.80" x2="431.20" y2="330.80" stroke="#333" stroke-width="0.8"/>
<text x="432.20" y="333.67" font-size="8.2" stroke="#000" stroke-width="0.15">70</text>
<clipPath id="cl19"><rect x="372.50" y="336.50" width="55.00" height="11.00"/></clipPath>
<rect x="372.50" y="336.50" width="55.00" height="11.00" fill="#f4f4f4" stroke="none" stroke-width="0.8"/>
<g clip-path="url(#cl19)">
<rect x="377.00" y="339.30" width="13.80" height="5.00" rx="2.50" fill="#000" fill-opacity="1.0" filter="url(#g9)"/>
<rect x="394.05" y="339.90" width="12.30" height="3.80" rx="1.90" fill="#000" fill-opacity="1.0" filter="url(#g9)"/>
<rect x="410.15" y="338.80" width="14.30" height="6.00" rx="3.00" fill="#000" fill-opacity="1.0" filter="url(#g9)"/>
</g>
<rect x="372.50" y="336.50" width="55.00" height="11.00" fill="none" stroke="#505050" stroke-width="1.0"/>
<text x="370.70" y="345.57" font-size="8.2" text-anchor="end" stroke="#000" stroke-width="0.15">LAMP2A</text>
<line x1="428.00" y1="343.50" x2="431.20" y2="343.50" stroke="#333" stroke-width="0.8"/>
<text x="432.20" y="346.37" font-size="8.2" stroke="#000" stroke-width="0.15">100</text>
<clipPath id="cl20"><rect x="372.50" y="349.50" width="55.00" height="12.00"/></clipPath>
<rect x="372.50" y="349.50" width="55.00" height="12.00" fill="#f4f4f4" stroke="none" stroke-width="0.8"/>
<g clip-path="url(#cl20)">
<rect x="377.00" y="354.60" width="12.80" height="2.40" rx="1.20" fill="#000" fill-opacity="1.0" filter="url(#g9)"/>
<rect x="393.55" y="354.60" width="13.30" height="2.40" rx="1.20" fill="#000" fill-opacity="1.0" filter="url(#g9)"/>
<rect x="410.65" y="354.50" width="13.30" height="2.60" rx="1.30" fill="#000" fill-opacity="1.0" filter="url(#g9)"/>
</g>
<rect x="372.50" y="349.50" width="55.00" height="12.00" fill="none" stroke="#505050" stroke-width="1.0"/>
<text x="370.70" y="359.37" font-size="8.2" text-anchor="end" stroke="#000" stroke-width="0.15">Myc</text>
<line x1="428.00" y1="355.60" x2="431.20" y2="355.60" stroke="#333" stroke-width="0.8"/>
<text x="432.20" y="358.47" font-size="8.2" stroke="#000" stroke-width="0.15">200</text>
<clipPath id="cl21"><rect x="372.50" y="363.50" width="55.00" height="12.00"/></clipPath>
<rect x="372.50" y="363.50" width="55.00" height="12.00" fill="#f4f4f4" stroke="none" stroke-width="0.8"/>
<g clip-path="url(#cl21)">
<rect x="375.95" y="367.00" width="15.70" height="4.40" rx="2.20" fill="#000" fill-opacity="1.0" filter="url(#g9)"/>
<rect x="394.60" y="367.20" width="13.20" height="4.00" rx="2.00" fill="#000" fill-opacity="1.0" filter="url(#g9)"/>
<rect x="411.15" y="366.80" width="13.70" height="4.40" rx="2.20" fill="#000" fill-opacity="1.0" filter="url(#g9)"/>
</g>
<rect x="372.50" y="363.50" width="55.00" height="12.00" fill="none" stroke="#505050" stroke-width="1.0"/>
<text x="370.70" y="373.32" font-size="8.2" text-anchor="end" stroke="#000" stroke-width="0.15">β-actin</text>
<line x1="428.00" y1="370.00" x2="431.20" y2="370.00" stroke="#333" stroke-width="0.8"/>
<text x="432.20" y="372.87" font-size="8.2" stroke="#000" stroke-width="0.15">42</text>
<line x1="336.00" y1="281.00" x2="336.00" y2="319.60" stroke="#555" stroke-width="0.8"/>
<text transform="translate(330.60,304.40) rotate(-90)" x="0" y="2.87" font-size="8.2" text-anchor="middle" stroke="#000" stroke-width="0.15">IP: Myc</text>
<line x1="336.00" y1="322.90" x2="336.00" y2="376.00" stroke="#555" stroke-width="0.8"/>
<text transform="translate(330.60,348.70) rotate(-90)" x="0" y="2.87" font-size="8.2" text-anchor="middle" stroke="#000" stroke-width="0.15">WCL</text>
<text x="457.6" y="227.8" font-size="17" font-weight="bold">f</text>
<text x="469.40" y="256.67" font-size="8.2" stroke="#000" stroke-width="0.15">Myc-TSC1</text>
<text x="549.40" y="256.67" font-size="8.2" text-anchor="middle" stroke="#000" stroke-width="0.15">WT</text>
<text x="621.60" y="256.67" font-size="8.2" text-anchor="middle" stroke="#000" stroke-width="0.15">Mut</text>
<line x1="515.70" y1="258.30" x2="583.30" y2="258.30" stroke="#333" stroke-width="0.8"/>
<line x1="587.60" y1="258.30" x2="655.50" y2="258.30" stroke="#333" stroke-width="0.8"/>
<text x="478.40" y="268.57" font-size="8.2" stroke="#000" stroke-width="0.15">CHX (h)</text>
<text x="523.40" y="268.57" font-size="8.2" text-anchor="middle" stroke="#000" stroke-width="0.15">0</text>
<text x="540.60" y="268.57" font-size="8.2" text-anchor="middle" stroke="#000" stroke-width="0.15">3</text>
<text x="557.40" y="268.57" font-size="8.2" text-anchor="middle" stroke="#000" stroke-width="0.15">6</text>
<text x="575.20" y="268.57" font-size="8.2" text-anchor="middle" stroke="#000" stroke-width="0.15">12</text>
<text x="593.30" y="268.57" font-size="8.2" text-anchor="middle" stroke="#000" stroke-width="0.15">0</text>
<text x="610.50" y="268.57" font-size="8.2" text-anchor="middle" stroke="#000" stroke-width="0.15">3</text>
<text x="627.90" y="268.57" font-size="8.2" text-anchor="middle" stroke="#000" stroke-width="0.15">6</text>
<text x="645.40" y="268.57" font-size="8.2" text-anchor="middle" stroke="#000" stroke-width="0.15">12</text>
<text x="469.40" y="327.17" font-size="8.2" stroke="#000" stroke-width="0.15">Myc-TSC2</text>
<text x="549.40" y="327.17" font-size="8.2" text-anchor="middle" stroke="#000" stroke-width="0.15">WT</text>
<text x="621.60" y="327.17" font-size="8.2" text-anchor="middle" stroke="#000" stroke-width="0.15">Mut</text>
<line x1="515.70" y1="328.80" x2="583.30" y2="328.80" stroke="#333" stroke-width="0.8"/>
<line x1="587.60" y1="328.80" x2="655.50" y2="328.80" stroke="#333" stroke-width="0.8"/>
<text x="478.40" y="339.07" font-size="8.2" stroke="#000" stroke-width="0.15">CHX (h)</text>
<text x="523.40" y="339.07" font-size="8.2" text-anchor="middle" stroke="#000" stroke-width="0.15">0</text>
<text x="540.60" y="339.07" font-size="8.2" text-anchor="middle" stroke="#000" stroke-width="0.15">3</text>
<text x="557.40" y="339.07" font-size="8.2" text-anchor="middle" stroke="#000" stroke-width="0.15">6</text>
<text x="575.20" y="339.07" font-size="8.2" text-anchor="middle" stroke="#000" stroke-width="0.15">12</text>
<text x="593.30" y="339.07" font-size="8.2" text-anchor="middle" stroke="#000" stroke-width="0.15">0</text>
<text x="610.50" y="339.07" font-size="8.2" text-anchor="middle" stroke="#000" stroke-width="0.15">3</text>
<text x="627.90" y="339.07" font-size="8.2" text-anchor="middle" stroke="#000" stroke-width="0.15">6</text>
<text x="645.40" y="339.07" font-size="8.2" text-anchor="middle" stroke="#000" stroke-width="0.15">12</text>
<text x="661.50" y="271.67" font-size="8.2" stroke="#000" stroke-width="0.15">kDa</text>
<text x="661.50" y="343.47" font-size="8.2" stroke="#000" stroke-width="0.15">kDa</text>
<clipPath id="cl22"><rect x="511.50" y="269.50" width="147.00" height="15.00"/></clipPath>
<rect x="511.50" y="269.50" width="147.00" height="15.00" fill="#f3f3f3" stroke="none" stroke-width="0.8"/>
<g clip-path="url(#cl22)">
<rect x="517.10" y="280.10" width="13.00" height="3.00" rx="1.50" fill="#000" fill-opacity="0.3" filter="url(#f9)"/>
<rect x="534.90" y="280.10" width="13.00" height="3.00" rx="1.50" fill="#000" fill-opacity="0.285" filter="url(#f9)"/>
<rect x="551.90" y="280.10" width="13.00" height="3.00" rx="1.50" fill="#000" fill-opacity="0.24" filter="url(#f9)"/>
<rect x="569.90" y="280.10" width="13.00" height="3.00" rx="1.50" fill="#000" fill-opacity="0.12" filter="url(#f9)"/>
<rect x="587.50" y="280.10" width="13.00" height="3.00" rx="1.50" fill="#000" fill-opacity="0.3" filter="url(#f9)"/>
<rect x="605.30" y="280.10" width="13.00" height="3.00" rx="1.50" fill="#000" fill-opacity="0.3" filter="url(#f9)"/>
<rect x="623.10" y="280.10" width="13.00" height="3.00" rx="1.50" fill="#000" fill-opacity="0.3" filter="url(#f9)"/>
<rect x="640.10" y="280.10" width="13.00" height="3.00" rx="1.50" fill="#000" fill-opacity="0.3" filter="url(#f9)"/>
<rect x="516.60" y="275.30" width="14.00" height="3.60" rx="1.80" fill="#000" fill-opacity="1" filter="url(#g9)"/>
<rect x="534.15" y="275.40" width="14.50" height="3.40" rx="1.70" fill="#000" fill-opacity="0.95" filter="url(#g9)"/>
<rect x="552.15" y="275.70" width="12.50" height="2.80" rx="1.40" fill="#000" fill-opacity="0.8" filter="url(#f9)"/>
<rect x="570.15" y="275.90" width="12.50" height="2.40" rx="1.20" fill="#000" fill-opacity="0.4" filter="url(#f9)"/>
<rect x="587.10" y="275.20" width="13.80" height="3.80" rx="1.90" fill="#000" fill-opacity="1" filter="url(#g9)"/>
<rect x="604.55" y="275.20" width="14.50" height="3.80" rx="1.90" fill="#000" fill-opacity="1" filter="url(#g9)"/>
<rect x="622.25" y="275.20" width="14.70" height="3.80" rx="1.90" fill="#000" fill-opacity="1" filter="url(#g9)"/>
<rect x="640.40" y="275.30" width="12.40" height="3.60" rx="1.80" fill="#000" fill-opacity="1" filter="url(#g9)"/>
</g>
<rect x="511.50" y="269.50" width="147.00" height="15.00" fill="none" stroke="#505050" stroke-width="1.0"/>
<text x="507.60" y="281.87" font-size="8.2" text-anchor="end" stroke="#000" stroke-width="0.15">TSC1</text>
<line x1="658.60" y1="279.80" x2="661.80" y2="279.80" stroke="#333" stroke-width="0.8"/>
<text x="662.80" y="282.67" font-size="8.2" stroke="#000" stroke-width="0.15">130</text>
<clipPath id="cl23"><rect x="511.50" y="288.50" width="147.00" height="15.00"/></clipPath>
<rect x="511.50" y="288.50" width="147.00" height="15.00" fill="#f3f3f3" stroke="none" stroke-width="0.8"/>
<g clip-path="url(#cl23)">
<rect x="516.60" y="294.00" width="14.00" height="4.60" rx="2.30" fill="#000" fill-opacity="1.0" filter="url(#g9)"/>
<rect x="534.10" y="294.00" width="14.60" height="4.60" rx="2.30" fill="#000" fill-opacity="1.0" filter="url(#g9)"/>
<rect x="551.70" y="294.90" width="13.40" height="2.80" rx="1.40" fill="#000" fill-opacity="1.0" filter="url(#g9)"/>
<rect x="569.35" y="294.00" width="14.10" height="4.60" rx="2.30" fill="#000" fill-opacity="1.0" filter="url(#g9)"/>
<rect x="587.25" y="294.00" width="13.50" height="4.60" rx="2.30" fill="#000" fill-opacity="1.0" filter="url(#g9)"/>
<rect x="604.80" y="294.00" width="14.00" height="4.60" rx="2.30" fill="#000" fill-opacity="1.0" filter="url(#g9)"/>
<rect x="622.60" y="294.00" width="14.00" height="4.60" rx="2.30" fill="#000" fill-opacity="1.0" filter="url(#g9)"/>
<rect x="640.10" y="294.00" width="13.00" height="4.60" rx="2.30" fill="#000" fill-opacity="1.0" filter="url(#g9)"/>
</g>
<rect x="511.50" y="288.50" width="147.00" height="15.00" fill="none" stroke="#505050" stroke-width="1.0"/>
<text x="508.20" y="299.57" font-size="8.2" text-anchor="end" stroke="#000" stroke-width="0.15">β-actin</text>
<line x1="658.60" y1="297.30" x2="661.80" y2="297.30" stroke="#333" stroke-width="0.8"/>
<text x="662.80" y="300.17" font-size="8.2" stroke="#000" stroke-width="0.15">42</text>
<clipPath id="cl24"><rect x="511.50" y="341.50" width="147.00" height="14.00"/></clipPath>
<rect x="511.50" y="341.50" width="147.00" height="14.00" fill="#f3f3f3" stroke="none" stroke-width="0.8"/>
<g clip-path="url(#cl24)">
<rect x="516.10" y="345.70" width="15.00" height="4.20" rx="2.10" fill="#000" fill-opacity="1" filter="url(#g9)"/>
<rect x="534.60" y="346.20" width="13.60" height="3.20" rx="1.60" fill="#000" fill-opacity="0.86" filter="url(#g9)"/>
<rect x="552.70" y="346.40" width="11.40" height="2.80" rx="1.40" fill="#000" fill-opacity="0.65" filter="url(#f9)"/>
<rect x="570.75" y="346.60" width="11.30" height="2.40" rx="1.20" fill="#000" fill-opacity="0.38" filter="url(#f9)"/>
<rect x="586.60" y="345.70" width="14.80" height="4.20" rx="2.10" fill="#000" fill-opacity="1" filter="url(#g9)"/>
<rect x="604.45" y="345.60" width="14.70" height="4.40" rx="2.20" fill="#000" fill-opacity="1" filter="url(#g9)"/>
<rect x="621.65" y="345.50" width="15.90" height="4.60" rx="2.30" fill="#000" fill-opacity="1" filter="url(#g9)"/>
<rect x="639.80" y="345.80" width="13.60" height="4.00" rx="2.00" fill="#000" fill-opacity="1" filter="url(#g9)"/>
</g>
<rect x="511.50" y="341.50" width="147.00" height="14.00" fill="none" stroke="#505050" stroke-width="1.0"/>
<text x="507.60" y="352.47" font-size="8.2" text-anchor="end" stroke="#000" stroke-width="0.15">TSC2</text>
<line x1="658.60" y1="351.10" x2="661.80" y2="351.10" stroke="#333" stroke-width="0.8"/>
<text x="662.80" y="353.97" font-size="8.2" stroke="#000" stroke-width="0.15">200</text>
<clipPath id="cl25"><rect x="511.50" y="360.50" width="147.00" height="14.00"/></clipPath>
<rect x="511.50" y="360.50" width="147.00" height="14.00" fill="#f3f3f3" stroke="none" stroke-width="0.8"/>
<g clip-path="url(#cl25)">
<rect x="516.35" y="365.20" width="14.50" height="4.20" rx="2.10" fill="#000" fill-opacity="1.0" filter="url(#g9)"/>
<rect x="535.40" y="365.20" width="12.00" height="4.20" rx="2.10" fill="#000" fill-opacity="1.0" filter="url(#g9)"/>
<rect x="551.90" y="365.20" width="13.00" height="4.20" rx="2.10" fill="#000" fill-opacity="1.0" filter="url(#g9)"/>
<rect x="569.90" y="365.20" width="13.00" height="4.20" rx="2.10" fill="#000" fill-opacity="1.0" filter="url(#g9)"/>
<rect x="587.75" y="365.20" width="12.50" height="4.20" rx="2.10" fill="#000" fill-opacity="1.0" filter="url(#g9)"/>
<rect x="605.30" y="365.20" width="13.00" height="4.20" rx="2.10" fill="#000" fill-opacity="1.0" filter="url(#g9)"/>
<rect x="623.10" y="365.20" width="13.00" height="4.20" rx="2.10" fill="#000" fill-opacity="1.0" filter="url(#g9)"/>
<rect x="640.35" y="365.20" width="12.50" height="4.20" rx="2.10" fill="#000" fill-opacity="1.0" filter="url(#g9)"/>
</g>
<rect x="511.50" y="360.50" width="147.00" height="14.00" fill="none" stroke="#505050" stroke-width="1.0"/>
<text x="508.20" y="371.27" font-size="8.2" text-anchor="end" stroke="#000" stroke-width="0.15">β-actin</text>
<line x1="658.60" y1="368.00" x2="661.80" y2="368.00" stroke="#333" stroke-width="0.8"/>
<text x="662.80" y="370.87" font-size="8.2" stroke="#000" stroke-width="0.15">42</text>
<text x="0.0" y="413.0" font-size="17" font-weight="bold">g</text>
<line x1="48.50" y1="432.80" x2="48.50" y2="525.80" stroke="#000" stroke-width="0.9"/>
<line x1="48.50" y1="525.80" x2="144.80" y2="525.80" stroke="#000" stroke-width="0.9"/>
<line x1="45.10" y1="525.80" x2="48.50" y2="525.80" stroke="#000" stroke-width="0.9"/>
<text x="44.20" y="528.67" font-size="8.2" text-anchor="end" stroke="#000" stroke-width="0.15">0</text>
<line x1="45.10" y1="494.80" x2="48.50" y2="494.80" stroke="#000" stroke-width="0.9"/>
<text x="44.20" y="497.67" font-size="8.2" text-anchor="end" stroke="#000" stroke-width="0.15">40</text>
<line x1="45.10" y1="463.80" x2="48.50" y2="463.80" stroke="#000" stroke-width="0.9"/>
<text x="44.20" y="466.67" font-size="8.2" text-anchor="end" stroke="#000" stroke-width="0.15">80</text>
<line x1="45.10" y1="432.80" x2="48.50" y2="432.80" stroke="#000" stroke-width="0.9"/>
<text x="44.20" y="435.67" font-size="8.2" text-anchor="end" stroke="#000" stroke-width="0.15">120</text>
<line x1="48.50" y1="525.80" x2="48.50" y2="529.20" stroke="#000" stroke-width="0.9"/>
<text x="48.50" y="537.67" font-size="8.2" text-anchor="middle" stroke="#000" stroke-width="0.15">0</text>
<line x1="72.58" y1="525.80" x2="72.58" y2="529.20" stroke="#000" stroke-width="0.9"/>
<text x="72.58" y="537.67" font-size="8.2" text-anchor="middle" stroke="#000" stroke-width="0.15">3</text>
<line x1="96.65" y1="525.80" x2="96.65" y2="529.20" stroke="#000" stroke-width="0.9"/>
<text x="96.65" y="537.67" font-size="8.2" text-anchor="middle" stroke="#000" stroke-width="0.15">6</text>
<line x1="120.73" y1="525.80" x2="120.73" y2="529.20" stroke="#000" stroke-width="0.9"/>
<text x="120.73" y="537.67" font-size="8.2" text-anchor="middle" stroke="#000" stroke-width="0.15">9</text>
<line x1="144.80" y1="525.80" x2="144.80" y2="529.20" stroke="#000" stroke-width="0.9"/>
<text x="144.80" y="537.67" font-size="8.2" text-anchor="middle" stroke="#000" stroke-width="0.15">12</text>
<polyline points="48.50,448.30 72.58,453.72 96.65,456.05 144.80,460.70" fill="none" stroke="#2020ff" stroke-width="0.9"/>
<polyline points="48.50,448.30 72.58,466.90 96.65,476.97 144.80,487.05" fill="none" stroke="#ff2020" stroke-width="0.9"/>
<rect x="46.60" y="446.40" width="3.80" height="3.80" fill="#2020ff" stroke="none" stroke-width="0.8"/>
<rect x="70.67" y="451.82" width="3.80" height="3.80" fill="#2020ff" stroke="none" stroke-width="0.8"/>
<rect x="94.75" y="454.15" width="3.80" height="3.80" fill="#2020ff" stroke="none" stroke-width="0.8"/>
<line x1="144.80" y1="458.76" x2="144.80" y2="462.64" stroke="#2020ff" stroke-width="0.8"/>
<line x1="143.30" y1="458.76" x2="146.30" y2="458.76" stroke="#2020ff" stroke-width="0.8"/>
<line x1="143.30" y1="462.64" x2="146.30" y2="462.64" stroke="#2020ff" stroke-width="0.8"/>
<rect x="142.90" y="458.80" width="3.80" height="3.80" fill="#2020ff" stroke="none" stroke-width="0.8"/>
<circle cx="48.50" cy="448.30" r="1.9" fill="#ff2020"/>
<line x1="72.58" y1="463.80" x2="72.58" y2="470.00" stroke="#ff2020" stroke-width="0.8"/>
<line x1="71.08" y1="463.80" x2="74.08" y2="463.80" stroke="#ff2020" stroke-width="0.8"/>
<line x1="71.08" y1="470.00" x2="74.08" y2="470.00" stroke="#ff2020" stroke-width="0.8"/>
<circle cx="72.58" cy="466.90" r="1.9" fill="#ff2020"/>
<circle cx="96.65" cy="476.97" r="1.9" fill="#ff2020"/>
<line x1="144.80" y1="485.50" x2="144.80" y2="488.60" stroke="#ff2020" stroke-width="0.8"/>
<line x1="143.30" y1="485.50" x2="146.30" y2="485.50" stroke="#ff2020" stroke-width="0.8"/>
<line x1="143.30" y1="488.60" x2="146.30" y2="488.60" stroke="#ff2020" stroke-width="0.8"/>
<circle cx="144.80" cy="487.05" r="1.9" fill="#ff2020"/>
<line x1="51.40" y1="429.00" x2="60.40" y2="429.00" stroke="#ff2020" stroke-width="0.9"/>
<circle cx="55.90" cy="429.00" r="1.6" fill="#ff2020"/>
<text x="62.00" y="431.87" font-size="8.2" stroke="#000" stroke-width="0.15">TSC1 WT</text>
<line x1="51.40" y1="441.30" x2="60.40" y2="441.30" stroke="#2020ff" stroke-width="0.9"/>
<rect x="54.30" y="439.70" width="3.20" height="3.20" fill="#2020ff" stroke="none" stroke-width="0.8"/>
<text x="62.00" y="444.17" font-size="8.2" stroke="#000" stroke-width="0.15">TSC1 Mut</text>
<polyline points="149.60,460.20 152.60,460.20 152.60,487.60 149.60,487.60" fill="none" stroke="#000" stroke-width="0.7"/>
<text transform="translate(156.50,473.90) rotate(90)" x="0" y="2.06" font-size="5.9" text-anchor="middle" fill="#333" stroke="#333" stroke-width="0.1">p &lt; 0.0001</text>
<text transform="translate(25.20,481.00) rotate(-90)" x="0" y="2.87" font-size="8.2" text-anchor="middle" stroke="#000" stroke-width="0.15">Ratio of initial protein (%)</text>
<text x="127.20" y="547.47" font-size="8.2" stroke="#000" stroke-width="0.15">CHX chase time (h)</text>
<line x1="178.50" y1="433.30" x2="178.50" y2="526.30" stroke="#000" stroke-width="0.9"/>
<line x1="178.50" y1="526.30" x2="280.30" y2="526.30" stroke="#000" stroke-width="0.9"/>
<line x1="175.10" y1="526.30" x2="178.50" y2="526.30" stroke="#000" stroke-width="0.9"/>
<text x="174.00" y="529.17" font-size="8.2" text-anchor="end" stroke="#000" stroke-width="0.15">0</text>
<line x1="175.10" y1="495.30" x2="178.50" y2="495.30" stroke="#000" stroke-width="0.9"/>
<text x="174.00" y="498.17" font-size="8.2" text-anchor="end" stroke="#000" stroke-width="0.15">40</text>
<line x1="175.10" y1="464.30" x2="178.50" y2="464.30" stroke="#000" stroke-width="0.9"/>
<text x="174.00" y="467.17" font-size="8.2" text-anchor="end" stroke="#000" stroke-width="0.15">80</text>
<line x1="175.10" y1="433.30" x2="178.50" y2="433.30" stroke="#000" stroke-width="0.9"/>
<text x="174.00" y="436.17" font-size="8.2" text-anchor="end" stroke="#000" stroke-width="0.15">120</text>
<line x1="178.50" y1="526.30" x2="178.50" y2="529.70" stroke="#000" stroke-width="0.9"/>
<text x="178.50" y="538.17" font-size="8.2" text-anchor="middle" stroke="#000" stroke-width="0.15">0</text>
<line x1="203.95" y1="526.30" x2="203.95" y2="529.70" stroke="#000" stroke-width="0.9"/>
<text x="203.95" y="538.17" font-size="8.2" text-anchor="middle" stroke="#000" stroke-width="0.15">3</text>
<line x1="229.40" y1="526.30" x2="229.40" y2="529.70" stroke="#000" stroke-width="0.9"/>
<text x="229.40" y="538.17" font-size="8.2" text-anchor="middle" stroke="#000" stroke-width="0.15">6</text>
<line x1="254.85" y1="526.30" x2="254.85" y2="529.70" stroke="#000" stroke-width="0.9"/>
<text x="254.85" y="538.17" font-size="8.2" text-anchor="middle" stroke="#000" stroke-width="0.15">9</text>
<line x1="280.30" y1="526.30" x2="280.30" y2="529.70" stroke="#000" stroke-width="0.9"/>
<text x="280.30" y="538.17" font-size="8.2" text-anchor="middle" stroke="#000" stroke-width="0.15">12</text>
<polyline points="178.50,448.80 203.95,454.22 229.40,459.65 280.30,463.52" fill="none" stroke="#2020ff" stroke-width="0.9"/>
<polyline points="178.50,448.80 203.95,460.42 229.40,474.37 280.30,489.10" fill="none" stroke="#ff2020" stroke-width="0.9"/>
<rect x="176.60" y="446.90" width="3.80" height="3.80" fill="#2020ff" stroke="none" stroke-width="0.8"/>
<line x1="203.95" y1="452.29" x2="203.95" y2="456.16" stroke="#2020ff" stroke-width="0.8"/>
<line x1="202.45" y1="452.29" x2="205.45" y2="452.29" stroke="#2020ff" stroke-width="0.8"/>
<line x1="202.45" y1="456.16" x2="205.45" y2="456.16" stroke="#2020ff" stroke-width="0.8"/>
<rect x="202.05" y="452.32" width="3.80" height="3.80" fill="#2020ff" stroke="none" stroke-width="0.8"/>
<rect x="227.50" y="457.75" width="3.80" height="3.80" fill="#2020ff" stroke="none" stroke-width="0.8"/>
<rect x="278.40" y="461.62" width="3.80" height="3.80" fill="#2020ff" stroke="none" stroke-width="0.8"/>
<circle cx="178.50" cy="448.80" r="1.9" fill="#ff2020"/>
<circle cx="203.95" cy="460.42" r="1.9" fill="#ff2020"/>
<circle cx="229.40" cy="474.37" r="1.9" fill="#ff2020"/>
<line x1="280.30" y1="487.94" x2="280.30" y2="490.26" stroke="#ff2020" stroke-width="0.8"/>
<line x1="278.80" y1="487.94" x2="281.80" y2="487.94" stroke="#ff2020" stroke-width="0.8"/>
<line x1="278.80" y1="490.26" x2="281.80" y2="490.26" stroke="#ff2020" stroke-width="0.8"/>
<circle cx="280.30" cy="489.10" r="1.9" fill="#ff2020"/>
<line x1="180.80" y1="427.40" x2="189.80" y2="427.40" stroke="#ff2020" stroke-width="0.9"/>
<circle cx="185.30" cy="427.40" r="1.6" fill="#ff2020"/>
<text x="191.40" y="430.27" font-size="8.2" stroke="#000" stroke-width="0.15">TSC2 WT</text>
<line x1="180.80" y1="439.70" x2="189.80" y2="439.70" stroke="#2020ff" stroke-width="0.9"/>
<rect x="183.70" y="438.10" width="3.20" height="3.20" fill="#2020ff" stroke="none" stroke-width="0.8"/>
<text x="191.40" y="442.57" font-size="8.2" stroke="#000" stroke-width="0.15">TSC2 Mut</text>
<polyline points="282.20,462.40 285.20,462.40 285.20,487.60 282.20,487.60" fill="none" stroke="#000" stroke-width="0.7"/>
<text transform="translate(289.10,475.00) rotate(90)" x="0" y="2.06" font-size="5.9" text-anchor="middle" fill="#333" stroke="#333" stroke-width="0.1">p &lt; 0.0001</text>
<text x="306.8" y="411.8" font-size="17" font-weight="bold">h</text>
<text x="378.30" y="428.57" font-size="8.2" text-anchor="end" stroke="#000" stroke-width="0.15">sh-C</text>
<text x="389.30" y="428.97" font-size="7.6259999999999994" text-anchor="middle" stroke="#000" stroke-width="0.1">+</text>
<text x="406.20" y="428.37" font-size="8.2" text-anchor="middle" stroke="#000" stroke-width="0.15">-</text>
<text x="422.40" y="428.37" font-size="8.2" text-anchor="middle" stroke="#000" stroke-width="0.15">-</text>
<text x="378.30" y="439.07" font-size="8.2" text-anchor="end" stroke="#000" stroke-width="0.15">sh-LAMP2A#1</text>
<text x="389.30" y="438.87" font-size="8.2" text-anchor="middle" stroke="#000" stroke-width="0.15">-</text>
<text x="406.20" y="439.47" font-size="7.6259999999999994" text-anchor="middle" stroke="#000" stroke-width="0.1">+</text>
<text x="422.40" y="438.87" font-size="8.2" text-anchor="middle" stroke="#000" stroke-width="0.15">-</text>
<text x="378.30" y="449.57" font-size="8.2" text-anchor="end" stroke="#000" stroke-width="0.15">sh-LAMP2A#2</text>
<text x="389.30" y="449.37" font-size="8.2" text-anchor="middle" stroke="#000" stroke-width="0.15">-</text>
<text x="406.20" y="449.37" font-size="8.2" text-anchor="middle" stroke="#000" stroke-width="0.15">-</text>
<text x="422.40" y="449.97" font-size="7.6259999999999994" text-anchor="middle" stroke="#000" stroke-width="0.1">+</text>
<text x="436.60" y="452.27" font-size="8.2" stroke="#000" stroke-width="0.15">kDa</text>
<clipPath id="cl26"><rect x="381.50" y="452.50" width="52.00" height="12.00"/></clipPath>
<rect x="381.50" y="452.50" width="52.00" height="12.00" fill="#f4f4f4" stroke="none" stroke-width="0.8"/>
<g clip-path="url(#cl26)">
<rect x="385.70" y="456.50" width="10.40" height="3.80" rx="1.90" fill="#000" fill-opacity="1.0" filter="url(#g9)"/>
<rect x="417.10" y="457.70" width="11.00" height="2.20" rx="1.10" fill="#000" fill-opacity="0.25" filter="url(#f9)"/>
</g>
<rect x="381.50" y="452.50" width="52.00" height="12.00" fill="none" stroke="#505050" stroke-width="1.0"/>
<text x="378.30" y="462.37" font-size="8.2" text-anchor="end" stroke="#000" stroke-width="0.15">TSC2</text>
<line x1="434.00" y1="461.20" x2="437.20" y2="461.20" stroke="#333" stroke-width="0.8"/>
<text x="438.20" y="464.07" font-size="8.2" stroke="#000" stroke-width="0.15">200</text>
<clipPath id="cl27"><rect x="381.50" y="466.50" width="52.00" height="12.00"/></clipPath>
<rect x="381.50" y="466.50" width="52.00" height="12.00" fill="#f4f4f4" stroke="none" stroke-width="0.8"/>
<g clip-path="url(#cl27)">
<rect x="384.95" y="471.10" width="11.10" height="3.40" rx="1.70" fill="#000" fill-opacity="1.0" filter="url(#g9)"/>
<rect x="398.90" y="471.90" width="12.60" height="2.20" rx="1.10" fill="#000" fill-opacity="0.18" filter="url(#f9)"/>
<rect x="416.35" y="471.60" width="12.50" height="2.60" rx="1.30" fill="#000" fill-opacity="0.45" filter="url(#f9)"/>
</g>
<rect x="381.50" y="466.50" width="52.00" height="12.00" fill="none" stroke="#505050" stroke-width="1.0"/>
<text x="378.30" y="476.67" font-size="8.2" text-anchor="end" stroke="#000" stroke-width="0.15">TSC1</text>
<line x1="434.00" y1="474.30" x2="437.20" y2="474.30" stroke="#333" stroke-width="0.8"/>
<text x="438.20" y="477.17" font-size="8.2" stroke="#000" stroke-width="0.15">130</text>
<clipPath id="cl28"><rect x="381.50" y="480.50" width="52.00" height="13.00"/></clipPath>
<rect x="381.50" y="480.50" width="52.00" height="13.00" fill="#f4f4f4" stroke="none" stroke-width="0.8"/>
<g clip-path="url(#cl28)">
<rect x="384.10" y="484.60" width="14.20" height="4.60" rx="2.30" fill="#000" fill-opacity="1.0" filter="url(#g9)"/>
<rect x="399.50" y="484.60" width="15.00" height="4.60" rx="2.30" fill="#000" fill-opacity="0.98" filter="url(#g9)"/>
<rect x="415.10" y="484.60" width="15.00" height="4.60" rx="2.30" fill="#000" fill-opacity="0.98" filter="url(#g9)"/>
</g>
<rect x="381.50" y="480.50" width="52.00" height="13.00" fill="none" stroke="#505050" stroke-width="1.0"/>
<text x="378.30" y="490.77" font-size="8.2" text-anchor="end" stroke="#000" stroke-width="0.15">LAMP1</text>
<line x1="434.00" y1="489.60" x2="437.20" y2="489.60" stroke="#333" stroke-width="0.8"/>
<text x="438.20" y="492.47" font-size="8.2" stroke="#000" stroke-width="0.15">100</text>
<clipPath id="cl29"><rect x="381.50" y="495.50" width="52.00" height="12.00"/></clipPath>
<rect x="381.50" y="495.50" width="52.00" height="12.00" fill="#f4f4f4" stroke="none" stroke-width="0.8"/>
<g clip-path="url(#cl29)">
<rect x="401.00" y="502.50" width="12.60" height="4.00" rx="2.00" fill="#000" fill-opacity="0.3" filter="url(#f10)"/>
<rect x="417.70" y="502.50" width="12.60" height="4.00" rx="2.00" fill="#000" fill-opacity="0.3" filter="url(#f10)"/>
<rect x="385.00" y="500.80" width="11.80" height="2.00" rx="1.00" fill="#000" fill-opacity="0.9" filter="url(#g9)"/>
<rect x="401.00" y="499.60" width="12.60" height="4.40" rx="2.20" fill="#000" fill-opacity="1.0" filter="url(#g8)"/>
<rect x="417.70" y="499.60" width="12.60" height="4.40" rx="2.20" fill="#000" fill-opacity="1.0" filter="url(#g8)"/>
</g>
<rect x="381.50" y="495.50" width="52.00" height="12.00" fill="none" stroke="#505050" stroke-width="1.0"/>
<text x="378.30" y="505.52" font-size="8.2" text-anchor="end" stroke="#000" stroke-width="0.15">TSC1</text>
<line x1="434.00" y1="503.80" x2="437.20" y2="503.80" stroke="#333" stroke-width="0.8"/>
<text x="438.20" y="506.67" font-size="8.2" stroke="#000" stroke-width="0.15">130</text>
<clipPath id="cl30"><rect x="381.50" y="510.50" width="52.00" height="12.00"/></clipPath>
<rect x="381.50" y="510.50" width="52.00" height="12.00" fill="#f4f4f4" stroke="none" stroke-width="0.8"/>
<g clip-path="url(#cl30)">
<rect x="386.95" y="515.10" width="10.50" height="1.80" rx="0.90" fill="#000" fill-opacity="0.95" filter="url(#g9)"/>
<rect x="401.05" y="514.50" width="11.90" height="3.40" rx="1.70" fill="#000" fill-opacity="1.0" filter="url(#g9)"/>
<rect x="417.50" y="514.50" width="12.00" height="3.40" rx="1.70" fill="#000" fill-opacity="1.0" filter="url(#g9)"/>
</g>
<rect x="381.50" y="510.50" width="52.00" height="12.00" fill="none" stroke="#505050" stroke-width="1.0"/>
<text x="378.30" y="520.17" font-size="8.2" text-anchor="end" stroke="#000" stroke-width="0.15">TSC2</text>
<line x1="434.00" y1="518.50" x2="437.20" y2="518.50" stroke="#333" stroke-width="0.8"/>
<text x="438.20" y="521.37" font-size="8.2" stroke="#000" stroke-width="0.15">200</text>
<clipPath id="cl31"><rect x="381.50" y="524.50" width="52.00" height="13.00"/></clipPath>
<rect x="381.50" y="524.50" width="52.00" height="13.00" fill="#f4f4f4" stroke="none" stroke-width="0.8"/>
<g clip-path="url(#cl31)">
<rect x="384.30" y="527.90" width="13.20" height="6.00" rx="3.00" fill="#000" fill-opacity="1.0" filter="url(#g8)"/>
<rect x="401.40" y="530.00" width="10.00" height="2.40" rx="1.20" fill="#000" fill-opacity="0.07" filter="url(#f8)"/>
<rect x="418.00" y="530.00" width="10.00" height="2.40" rx="1.20" fill="#000" fill-opacity="0.05" filter="url(#f8)"/>
</g>
<rect x="381.50" y="524.50" width="52.00" height="13.00" fill="none" stroke="#505050" stroke-width="1.0"/>
<text x="378.30" y="534.97" font-size="8.2" text-anchor="end" stroke="#000" stroke-width="0.15">LAMP2A</text>
<line x1="434.00" y1="533.40" x2="437.20" y2="533.40" stroke="#333" stroke-width="0.8"/>
<text x="438.20" y="536.27" font-size="8.2" stroke="#000" stroke-width="0.15">100</text>
<clipPath id="cl32"><rect x="381.50" y="539.50" width="52.00" height="12.00"/></clipPath>
<rect x="381.50" y="539.50" width="52.00" height="12.00" fill="#f4f4f4" stroke="none" stroke-width="0.8"/>
<g clip-path="url(#cl32)">
<rect x="385.75" y="543.30" width="12.50" height="4.40" rx="2.20" fill="#000" fill-opacity="1.0" filter="url(#g9)"/>
<rect x="399.60" y="543.70" width="14.00" height="3.60" rx="1.80" fill="#000" fill-opacity="1.0" filter="url(#g9)"/>
<rect x="415.65" y="543.60" width="13.90" height="3.80" rx="1.90" fill="#000" fill-opacity="1.0" filter="url(#g9)"/>
</g>
<rect x="381.50" y="539.50" width="52.00" height="12.00" fill="none" stroke="#505050" stroke-width="1.0"/>
<text x="378.30" y="549.27" font-size="8.2" text-anchor="end" stroke="#000" stroke-width="0.15">β-actin</text>
<line x1="434.00" y1="545.80" x2="437.20" y2="545.80" stroke="#333" stroke-width="0.8"/>
<text x="438.20" y="548.67" font-size="8.2" stroke="#000" stroke-width="0.15">42</text>
<line x1="342.80" y1="452.80" x2="342.80" y2="493.20" stroke="#777" stroke-width="0.8"/>
<text transform="translate(337.60,473.00) rotate(-90)" x="0" y="2.87" font-size="8.2" text-anchor="middle" stroke="#000" stroke-width="0.15">Lysosome</text>
<line x1="342.80" y1="495.90" x2="342.80" y2="551.80" stroke="#777" stroke-width="0.8"/>
<text transform="translate(337.60,523.80) rotate(-90)" x="0" y="2.87" font-size="8.2" text-anchor="middle" stroke="#000" stroke-width="0.15">WCL</text>
<text x="481.6" y="411.8" font-size="17" font-weight="bold">i</text>
<text x="548.00" y="428.57" font-size="8.2" text-anchor="end" stroke="#000" stroke-width="0.15">sh-C</text>
<text x="559.90" y="428.97" font-size="7.6259999999999994" text-anchor="middle" stroke="#000" stroke-width="0.1">+</text>
<text x="574.80" y="428.37" font-size="8.2" text-anchor="middle" stroke="#000" stroke-width="0.15">-</text>
<text x="591.10" y="428.37" font-size="8.2" text-anchor="middle" stroke="#000" stroke-width="0.15">-</text>
<text x="548.00" y="439.87" font-size="8.2" text-anchor="end" stroke="#000" stroke-width="0.15">sh-HSC70#1</text>
<text x="559.90" y="439.67" font-size="8.2" text-anchor="middle" stroke="#000" stroke-width="0.15">-</text>
<text x="574.80" y="440.27" font-size="7.6259999999999994" text-anchor="middle" stroke="#000" stroke-width="0.1">+</text>
<text x="591.10" y="439.67" font-size="8.2" text-anchor="middle" stroke="#000" stroke-width="0.15">-</text>
<text x="548.00" y="450.87" font-size="8.2" text-anchor="end" stroke="#000" stroke-width="0.15">sh-HSC70#2</text>
<text x="559.90" y="450.67" font-size="8.2" text-anchor="middle" stroke="#000" stroke-width="0.15">-</text>
<text x="574.80" y="450.67" font-size="8.2" text-anchor="middle" stroke="#000" stroke-width="0.15">-</text>
<text x="591.10" y="451.27" font-size="7.6259999999999994" text-anchor="middle" stroke="#000" stroke-width="0.1">+</text>
<text x="606.40" y="453.07" font-size="8.2" stroke="#000" stroke-width="0.15">kDa</text>
<clipPath id="cl33"><rect x="550.50" y="453.50" width="52.00" height="11.00"/></clipPath>
<rect x="550.50" y="453.50" width="52.00" height="11.00" fill="#f4f4f4" stroke="none" stroke-width="0.8"/>
<g clip-path="url(#cl33)">
<rect x="554.60" y="461.10" width="12.00" height="3.00" rx="1.50" fill="#000" fill-opacity="0.25" filter="url(#f9)"/>
<rect x="569.60" y="461.10" width="12.00" height="3.00" rx="1.50" fill="#000" fill-opacity="0.22" filter="url(#f9)"/>
<rect x="584.50" y="461.10" width="13.00" height="3.00" rx="1.50" fill="#000" fill-opacity="0.18" filter="url(#f9)"/>
<rect x="554.40" y="458.20" width="12.40" height="2.80" rx="1.40" fill="#000" fill-opacity="0.95" filter="url(#g9)"/>
<rect x="569.30" y="458.40" width="12.60" height="2.60" rx="1.30" fill="#000" fill-opacity="0.72" filter="url(#f9)"/>
<rect x="584.05" y="458.60" width="13.90" height="2.40" rx="1.20" fill="#000" fill-opacity="0.5" filter="url(#f9)"/>
</g>
<rect x="550.50" y="453.50" width="52.00" height="11.00" fill="none" stroke="#505050" stroke-width="1.0"/>
<text x="548.60" y="462.82" font-size="8.2" text-anchor="end" stroke="#000" stroke-width="0.15">TSC2</text>
<line x1="603.00" y1="461.20" x2="606.20" y2="461.20" stroke="#333" stroke-width="0.8"/>
<text x="607.20" y="464.07" font-size="8.2" stroke="#000" stroke-width="0.15">200</text>
<clipPath id="cl34"><rect x="550.50" y="467.50" width="52.00" height="11.00"/></clipPath>
<rect x="550.50" y="467.50" width="52.00" height="11.00" fill="#f4f4f4" stroke="none" stroke-width="0.8"/>
<g clip-path="url(#cl34)">
<rect x="554.00" y="471.10" width="11.80" height="4.60" rx="2.30" fill="#000" fill-opacity="1.0" filter="url(#g8)"/>
<rect x="570.10" y="472.10" width="11.00" height="1.80" rx="0.90" fill="#000" fill-opacity="0.1" filter="url(#f8)"/>
<rect x="585.50" y="472.10" width="11.00" height="1.80" rx="0.90" fill="#000" fill-opacity="0.07" filter="url(#f8)"/>
</g>
<rect x="550.50" y="467.50" width="52.00" height="11.00" fill="none" stroke="#505050" stroke-width="1.0"/>
<text x="548.60" y="477.07" font-size="8.2" text-anchor="end" stroke="#000" stroke-width="0.15">TSC1</text>
<line x1="603.00" y1="474.30" x2="606.20" y2="474.30" stroke="#333" stroke-width="0.8"/>
<text x="607.20" y="477.17" font-size="8.2" stroke="#000" stroke-width="0.15">130</text>
<clipPath id="cl35"><rect x="550.50" y="481.50" width="52.00" height="11.00"/></clipPath>
<rect x="550.50" y="481.50" width="52.00" height="11.00" fill="#f4f4f4" stroke="none" stroke-width="0.8"/>
<g clip-path="url(#cl35)">
<rect x="554.05" y="484.60" width="13.90" height="5.40" rx="2.70" fill="#000" fill-opacity="1.0" filter="url(#g8)"/>
<rect x="570.05" y="485.10" width="11.90" height="4.40" rx="2.20" fill="#000" fill-opacity="1.0" filter="url(#g9)"/>
<rect x="584.70" y="485.30" width="13.60" height="4.00" rx="2.00" fill="#000" fill-opacity="1.0" filter="url(#g9)"/>
</g>
<rect x="550.50" y="481.50" width="52.00" height="11.00" fill="none" stroke="#505050" stroke-width="1.0"/>
<text x="548.60" y="490.82" font-size="8.2" text-anchor="end" stroke="#000" stroke-width="0.15">LAMP1</text>
<line x1="603.00" y1="489.60" x2="606.20" y2="489.60" stroke="#333" stroke-width="0.8"/>
<text x="607.20" y="492.47" font-size="8.2" stroke="#000" stroke-width="0.15">100</text>
<clipPath id="cl36"><rect x="550.50" y="496.50" width="52.00" height="11.00"/></clipPath>
<rect x="550.50" y="496.50" width="52.00" height="11.00" fill="#f4f4f4" stroke="none" stroke-width="0.8"/>
<g clip-path="url(#cl36)">
<rect x="554.80" y="503.30" width="13.00" height="3.40" rx="1.70" fill="#000" fill-opacity="0.3" filter="url(#f9)"/>
<rect x="571.40" y="503.40" width="12.60" height="3.60" rx="1.80" fill="#000" fill-opacity="0.38" filter="url(#f9)"/>
<rect x="587.10" y="503.40" width="12.60" height="3.60" rx="1.80" fill="#000" fill-opacity="0.38" filter="url(#f9)"/>
<rect x="554.70" y="500.80" width="13.20" height="1.80" rx="0.90" fill="#000" fill-opacity="0.65" filter="url(#f9)"/>
<rect x="571.40" y="500.40" width="12.60" height="3.00" rx="1.50" fill="#000" fill-opacity="1.0" filter="url(#g9)"/>
<rect x="587.10" y="500.40" width="12.60" height="3.00" rx="1.50" fill="#000" fill-opacity="1.0" filter="url(#g9)"/>
</g>
<rect x="550.50" y="496.50" width="52.00" height="11.00" fill="none" stroke="#505050" stroke-width="1.0"/>
<text x="548.60" y="506.02" font-size="8.2" text-anchor="end" stroke="#000" stroke-width="0.15">TSC1</text>
<line x1="603.00" y1="505.20" x2="606.20" y2="505.20" stroke="#333" stroke-width="0.8"/>
<text x="607.20" y="508.07" font-size="8.2" stroke="#000" stroke-width="0.15">130</text>
<clipPath id="cl37"><rect x="550.50" y="510.50" width="52.00" height="11.00"/></clipPath>
<rect x="550.50" y="510.50" width="52.00" height="11.00" fill="#f4f4f4" stroke="none" stroke-width="0.8"/>
<g clip-path="url(#cl37)">
<rect x="570.00" y="511.70" width="12.60" height="3.00" rx="1.50" fill="#000" fill-opacity="0.35" filter="url(#f9)"/>
<rect x="586.65" y="511.70" width="13.30" height="3.00" rx="1.50" fill="#000" fill-opacity="0.35" filter="url(#f9)"/>
<rect x="554.00" y="514.35" width="11.80" height="1.90" rx="0.95" fill="#000" fill-opacity="0.85" filter="url(#g9)"/>
<rect x="570.00" y="514.20" width="12.60" height="4.40" rx="2.20" fill="#000" fill-opacity="1.0" filter="url(#g8)"/>
<rect x="586.65" y="514.20" width="13.30" height="4.40" rx="2.20" fill="#000" fill-opacity="1.0" filter="url(#g8)"/>
</g>
<rect x="550.50" y="510.50" width="52.00" height="11.00" fill="none" stroke="#505050" stroke-width="1.0"/>
<text x="548.60" y="519.92" font-size="8.2" text-anchor="end" stroke="#000" stroke-width="0.15">TSC2</text>
<line x1="603.00" y1="518.70" x2="606.20" y2="518.70" stroke="#333" stroke-width="0.8"/>
<text x="607.20" y="521.57" font-size="8.2" stroke="#000" stroke-width="0.15">200</text>
<clipPath id="cl38"><rect x="550.50" y="524.50" width="52.00" height="11.00"/></clipPath>
<rect x="550.50" y="524.50" width="52.00" height="11.00" fill="#f4f4f4" stroke="none" stroke-width="0.8"/>
<g clip-path="url(#cl38)">
<rect x="553.30" y="528.80" width="13.20" height="2.80" rx="1.40" fill="#000" fill-opacity="1.0" filter="url(#g9)"/>
<rect x="570.05" y="529.00" width="11.90" height="2.20" rx="1.10" fill="#000" fill-opacity="0.78" filter="url(#f9)"/>
<rect x="586.85" y="529.00" width="11.90" height="2.20" rx="1.10" fill="#000" fill-opacity="0.75" filter="url(#f9)"/>
</g>
<rect x="550.50" y="524.50" width="52.00" height="11.00" fill="none" stroke="#505050" stroke-width="1.0"/>
<text x="548.60" y="533.92" font-size="8.2" text-anchor="end" stroke="#000" stroke-width="0.15">HSC70</text>
<line x1="603.00" y1="532.80" x2="606.20" y2="532.80" stroke="#333" stroke-width="0.8"/>
<text x="607.20" y="535.67" font-size="8.2" stroke="#000" stroke-width="0.15">70</text>
<clipPath id="cl39"><rect x="550.50" y="538.50" width="52.00" height="11.00"/></clipPath>
<rect x="550.50" y="538.50" width="52.00" height="11.00" fill="#f4f4f4" stroke="none" stroke-width="0.8"/>
<g clip-path="url(#cl39)">
<rect x="553.00" y="542.30" width="14.60" height="3.40" rx="1.70" fill="#000" fill-opacity="1.0" filter="url(#g9)"/>
<rect x="568.15" y="542.30" width="15.30" height="3.40" rx="1.70" fill="#000" fill-opacity="1.0" filter="url(#g9)"/>
<rect x="584.40" y="542.30" width="14.00" height="3.40" rx="1.70" fill="#000" fill-opacity="1.0" filter="url(#g9)"/>
</g>
<rect x="550.50" y="538.50" width="52.00" height="11.00" fill="none" stroke="#505050" stroke-width="1.0"/>
<text x="548.60" y="547.97" font-size="8.2" text-anchor="end" stroke="#000" stroke-width="0.15">β-actin</text>
<line x1="603.00" y1="546.00" x2="606.20" y2="546.00" stroke="#333" stroke-width="0.8"/>
<text x="607.20" y="548.87" font-size="8.2" stroke="#000" stroke-width="0.15">42</text>
<line x1="518.40" y1="453.80" x2="518.40" y2="492.70" stroke="#777" stroke-width="0.8"/>
<text transform="translate(513.00,473.20) rotate(-90)" x="0" y="2.87" font-size="8.2" text-anchor="middle" stroke="#000" stroke-width="0.15">Lysosome</text>
<line x1="518.40" y1="496.70" x2="518.40" y2="550.00" stroke="#777" stroke-width="0.8"/>
<text transform="translate(513.00,524.80) rotate(-90)" x="0" y="2.87" font-size="8.2" text-anchor="middle" stroke="#000" stroke-width="0.15">WCL</text>
<text x="5.2" y="575.6" font-size="17" font-weight="bold">j</text>
<text x="12.30" y="623.17" font-size="8.2" stroke="#000" stroke-width="0.15">CHX (h)</text>
<text x="55.80" y="623.17" font-size="8.2" text-anchor="middle" stroke="#000" stroke-width="0.15">0</text>
<text x="74.20" y="623.17" font-size="8.2" text-anchor="middle" stroke="#000" stroke-width="0.15">12</text>
<text x="92.00" y="623.17" font-size="8.2" text-anchor="middle" stroke="#000" stroke-width="0.15">12</text>
<text x="109.60" y="623.17" font-size="8.2" text-anchor="middle" stroke="#000" stroke-width="0.15">0</text>
<text x="128.00" y="623.17" font-size="8.2" text-anchor="middle" stroke="#000" stroke-width="0.15">12</text>
<text x="145.90" y="623.17" font-size="8.2" text-anchor="middle" stroke="#000" stroke-width="0.15">12</text>
<text x="163.50" y="623.17" font-size="8.2" text-anchor="middle" stroke="#000" stroke-width="0.15">0</text>
<text x="181.40" y="623.17" font-size="8.2" text-anchor="middle" stroke="#000" stroke-width="0.15">12</text>
<text x="198.60" y="623.17" font-size="8.2" text-anchor="middle" stroke="#000" stroke-width="0.15">12</text>
<text x="43.20" y="634.67" font-size="8.2" text-anchor="end" stroke="#000" stroke-width="0.15">MG132</text>
<text x="55.80" y="634.47" font-size="8.2" text-anchor="middle" stroke="#000" stroke-width="0.15">-</text>
<text x="74.20" y="634.47" font-size="8.2" text-anchor="middle" stroke="#000" stroke-width="0.15">-</text>
<text x="92.00" y="635.07" font-size="7.6259999999999994" text-anchor="middle" stroke="#000" stroke-width="0.1">+</text>
<text x="109.60" y="634.47" font-size="8.2" text-anchor="middle" stroke="#000" stroke-width="0.15">-</text>
<text x="128.00" y="634.47" font-size="8.2" text-anchor="middle" stroke="#000" stroke-width="0.15">-</text>
<text x="145.90" y="634.47" font-size="8.2" text-anchor="middle" stroke="#000" stroke-width="0.15">-</text>
<text x="163.50" y="634.47" font-size="8.2" text-anchor="middle" stroke="#000" stroke-width="0.15">-</text>
<text x="181.40" y="634.47" font-size="8.2" text-anchor="middle" stroke="#000" stroke-width="0.15">-</text>
<text x="198.60" y="634.47" font-size="8.2" text-anchor="middle" stroke="#000" stroke-width="0.15">-</text>
<text x="43.20" y="645.47" font-size="8.2" text-anchor="end" stroke="#000" stroke-width="0.15">3-MA</text>
<text x="55.80" y="645.27" font-size="8.2" text-anchor="middle" stroke="#000" stroke-width="0.15">-</text>
<text x="74.20" y="645.27" font-size="8.2" text-anchor="middle" stroke="#000" stroke-width="0.15">-</text>
<text x="92.00" y="645.27" font-size="8.2" text-anchor="middle" stroke="#000" stroke-width="0.15">-</text>
<text x="109.60" y="645.27" font-size="8.2" text-anchor="middle" stroke="#000" stroke-width="0.15">-</text>
<text x="128.00" y="645.27" font-size="8.2" text-anchor="middle" stroke="#000" stroke-width="0.15">-</text>
<text x="145.90" y="645.87" font-size="7.6259999999999994" text-anchor="middle" stroke="#000" stroke-width="0.1">+</text>
<text x="163.50" y="645.27" font-size="8.2" text-anchor="middle" stroke="#000" stroke-width="0.15">-</text>
<text x="181.40" y="645.27" font-size="8.2" text-anchor="middle" stroke="#000" stroke-width="0.15">-</text>
<text x="198.60" y="645.27" font-size="8.2" text-anchor="middle" stroke="#000" stroke-width="0.15">-</text>
<text x="43.20" y="655.67" font-size="8.2" text-anchor="end" stroke="#000" stroke-width="0.15">LN</text>
<text x="55.80" y="655.47" font-size="8.2" text-anchor="middle" stroke="#000" stroke-width="0.15">-</text>
<text x="74.20" y="655.47" font-size="8.2" text-anchor="middle" stroke="#000" stroke-width="0.15">-</text>
<text x="92.00" y="655.47" font-size="8.2" text-anchor="middle" stroke="#000" stroke-width="0.15">-</text>
<text x="109.60" y="655.47" font-size="8.2" text-anchor="middle" stroke="#000" stroke-width="0.15">-</text>
<text x="128.00" y="655.47" font-size="8.2" text-anchor="middle" stroke="#000" stroke-width="0.15">-</text>
<text x="145.90" y="655.47" font-size="8.2" text-anchor="middle" stroke="#000" stroke-width="0.15">-</text>
<text x="163.50" y="655.47" font-size="8.2" text-anchor="middle" stroke="#000" stroke-width="0.15">-</text>
<text x="181.40" y="655.47" font-size="8.2" text-anchor="middle" stroke="#000" stroke-width="0.15">-</text>
<text x="198.60" y="656.07" font-size="7.6259999999999994" text-anchor="middle" stroke="#000" stroke-width="0.1">+</text>
<text x="214.00" y="660.07" font-size="8.2" stroke="#000" stroke-width="0.15">kDa</text>
<clipPath id="cl40"><rect x="44.50" y="658.50" width="165.00" height="15.00"/></clipPath>
<rect x="44.50" y="658.50" width="165.00" height="15.00" fill="#f3f3f3" stroke="none" stroke-width="0.8"/>
<g clip-path="url(#cl40)">
<rect x="193.50" y="668.40" width="12.00" height="2.40" rx="1.20" fill="#000" fill-opacity="0.6" filter="url(#f8)"/>
<rect x="49.70" y="664.00" width="13.40" height="3.60" rx="1.80" fill="#000" fill-opacity="1.0" filter="url(#g9)"/>
<rect x="67.95" y="665.05" width="12.50" height="1.50" rx="0.75" fill="#000" fill-opacity="0.55" filter="url(#f9)"/>
<rect x="86.00" y="664.50" width="12.80" height="2.60" rx="1.30" fill="#000" fill-opacity="0.95" filter="url(#g9)"/>
<rect x="103.70" y="663.90" width="13.40" height="3.80" rx="1.90" fill="#000" fill-opacity="1.0" filter="url(#g9)"/>
<rect x="122.50" y="664.60" width="12.00" height="2.40" rx="1.20" fill="#000" fill-opacity="0.85" filter="url(#g9)"/>
<rect x="139.75" y="664.60" width="12.50" height="2.40" rx="1.20" fill="#000" fill-opacity="0.88" filter="url(#g9)"/>
<rect x="157.45" y="664.10" width="13.10" height="3.40" rx="1.70" fill="#000" fill-opacity="1.0" filter="url(#g9)"/>
<rect x="175.75" y="664.60" width="12.50" height="2.40" rx="1.20" fill="#000" fill-opacity="0.85" filter="url(#g9)"/>
<rect x="192.90" y="664.00" width="13.20" height="3.60" rx="1.80" fill="#000" fill-opacity="1.0" filter="url(#g9)"/>
</g>
<rect x="44.50" y="658.50" width="165.00" height="15.00" fill="none" stroke="#505050" stroke-width="1.0"/>
<text x="42.30" y="669.07" font-size="8.2" text-anchor="end" stroke="#000" stroke-width="0.15">TSC2</text>
<line x1="209.80" y1="667.60" x2="213.00" y2="667.60" stroke="#333" stroke-width="0.8"/>
<text x="214.00" y="670.47" font-size="8.2" stroke="#000" stroke-width="0.15">200</text>
<clipPath id="cl41"><rect x="44.50" y="676.50" width="165.00" height="15.00"/></clipPath>
<rect x="44.50" y="676.50" width="165.00" height="15.00" fill="#f3f3f3" stroke="none" stroke-width="0.8"/>
<g clip-path="url(#cl41)">
<rect x="49.90" y="687.20" width="13.00" height="2.20" rx="1.10" fill="#000" fill-opacity="0.35" filter="url(#f9)"/>
<rect x="85.90" y="687.20" width="13.00" height="2.20" rx="1.10" fill="#000" fill-opacity="0.1575" filter="url(#f9)"/>
<rect x="103.90" y="687.20" width="13.00" height="2.20" rx="1.10" fill="#000" fill-opacity="0.35" filter="url(#f9)"/>
<rect x="139.50" y="687.20" width="13.00" height="2.20" rx="1.10" fill="#000" fill-opacity="0.175" filter="url(#f9)"/>
<rect x="157.50" y="687.20" width="13.00" height="2.20" rx="1.10" fill="#000" fill-opacity="0.35" filter="url(#f9)"/>
<rect x="193.00" y="687.20" width="13.00" height="2.20" rx="1.10" fill="#000" fill-opacity="0.35" filter="url(#f9)"/>
<rect x="49.40" y="681.00" width="14.00" height="4.00" rx="2.00" fill="#000" fill-opacity="1.0" filter="url(#g9)"/>
<rect x="85.40" y="681.80" width="14.00" height="2.40" rx="1.20" fill="#000" fill-opacity="0.45" filter="url(#f9)"/>
<rect x="103.40" y="681.00" width="14.00" height="4.00" rx="2.00" fill="#000" fill-opacity="1.0" filter="url(#g9)"/>
<rect x="139.00" y="681.70" width="14.00" height="2.60" rx="1.30" fill="#000" fill-opacity="0.5" filter="url(#f9)"/>
<rect x="157.00" y="680.80" width="14.00" height="4.40" rx="2.20" fill="#000" fill-opacity="1.0" filter="url(#g9)"/>
<rect x="192.50" y="681.20" width="14.00" height="3.60" rx="1.80" fill="#000" fill-opacity="1.0" filter="url(#g9)"/>
</g>
<rect x="44.50" y="676.50" width="165.00" height="15.00" fill="none" stroke="#505050" stroke-width="1.0"/>
<text x="42.30" y="688.27" font-size="8.2" text-anchor="end" stroke="#000" stroke-width="0.15">TSC1</text>
<line x1="209.80" y1="684.40" x2="213.00" y2="684.40" stroke="#333" stroke-width="0.8"/>
<text x="214.00" y="687.27" font-size="8.2" stroke="#000" stroke-width="0.15">130</text>
<clipPath id="cl42"><rect x="44.50" y="694.50" width="165.00" height="15.00"/></clipPath>
<rect x="44.50" y="694.50" width="165.00" height="15.00" fill="#f3f3f3" stroke="none" stroke-width="0.8"/>
<g clip-path="url(#cl42)">
<rect x="49.20" y="699.60" width="14.40" height="4.80" rx="2.40" fill="#000" fill-opacity="1.0" filter="url(#g9)"/>
<rect x="66.55" y="699.60" width="15.30" height="4.80" rx="2.40" fill="#000" fill-opacity="1.0" filter="url(#g9)"/>
<rect x="85.60" y="699.60" width="13.60" height="4.80" rx="2.40" fill="#000" fill-opacity="1.0" filter="url(#g9)"/>
<rect x="102.95" y="699.60" width="14.90" height="4.80" rx="2.40" fill="#000" fill-opacity="1.0" filter="url(#g9)"/>
<rect x="122.25" y="699.60" width="12.50" height="4.80" rx="2.40" fill="#000" fill-opacity="1.0" filter="url(#g9)"/>
<rect x="138.45" y="699.60" width="15.10" height="4.80" rx="2.40" fill="#000" fill-opacity="1.0" filter="url(#g9)"/>
<rect x="156.45" y="699.60" width="15.10" height="4.80" rx="2.40" fill="#000" fill-opacity="1.0" filter="url(#g9)"/>
<rect x="174.40" y="699.60" width="15.20" height="4.80" rx="2.40" fill="#000" fill-opacity="1.0" filter="url(#g9)"/>
<rect x="191.25" y="699.60" width="16.50" height="4.80" rx="2.40" fill="#000" fill-opacity="1.0" filter="url(#g9)"/>
</g>
<rect x="44.50" y="694.50" width="165.00" height="15.00" fill="none" stroke="#505050" stroke-width="1.0"/>
<text x="42.60" y="705.27" font-size="8.2" text-anchor="end" stroke="#000" stroke-width="0.15">β-actin</text>
<line x1="209.80" y1="705.50" x2="213.00" y2="705.50" stroke="#333" stroke-width="0.8"/>
<text x="214.00" y="708.37" font-size="8.2" stroke="#000" stroke-width="0.15">42</text>
<text x="233.6" y="575.2" font-size="17" font-weight="bold">k</text>
<text x="279.20" y="598.17" font-size="8.2" text-anchor="middle" stroke="#000" stroke-width="0.15">sh-C+Vec</text>
<text x="365.60" y="598.17" font-size="8.2" text-anchor="middle" stroke="#000" stroke-width="0.15">sh-TSC1/2+Vec</text>
<text x="280.80" y="667.27" font-size="8.2" text-anchor="middle" stroke="#000" stroke-width="0.15">sh-TSC1/2</text>
<text x="280.80" y="675.47" font-size="8.2" text-anchor="middle" stroke="#000" stroke-width="0.15">+TSC1/2-WT</text>
<text x="366.00" y="667.27" font-size="8.2" text-anchor="middle" stroke="#000" stroke-width="0.15">sh-TSC1/2</text>
<text x="366.00" y="675.47" font-size="8.2" text-anchor="middle" stroke="#000" stroke-width="0.15">+TSC1/2-Mut</text>
<rect x="243.50" y="602.10" width="78.10" height="53.30" fill="#fff" stroke="none" stroke-width="0.8"/>
<path d="M245.58,635.22 C245.83,631.91 246.31,623.64 247.44,620.33 C248.58,617.02 250.34,616.82 252.41,615.37 C254.47,613.92 257.16,612.47 259.85,611.65 C262.54,610.82 265.85,610.61 268.54,610.41 C271.22,610.20 274.33,611.13 275.98,610.41 C277.63,609.68 277.22,607.20 278.46,606.06 C279.70,604.93 281.15,604.06 283.42,603.58 C285.70,603.11 289.01,602.74 292.11,603.21 C295.21,603.69 298.93,604.87 302.03,606.44 C305.14,608.01 308.24,610.32 310.72,612.64 C313.20,614.96 315.43,617.60 316.92,620.33 C318.41,623.06 319.32,625.92 319.65,629.02 C319.98,632.12 319.57,635.84 318.91,638.94 C318.25,642.04 317.25,645.35 315.68,647.63 C314.11,649.90 312.17,651.45 309.48,652.59 C306.79,653.73 302.45,654.45 299.55,654.45 C296.66,654.45 294.18,653.31 292.11,652.59 C290.04,651.87 288.80,650.32 287.15,650.11 C285.49,649.90 284.04,650.94 282.18,651.35 C280.32,651.76 278.88,652.28 275.98,652.59 C273.09,652.90 268.33,653.42 264.81,653.21 C261.30,653.00 257.58,652.49 254.89,651.35 C252.20,650.21 250.17,648.25 248.68,646.39 C247.20,644.53 246.47,642.04 245.96,640.18 C245.44,638.32 245.33,638.53 245.58,635.22 Z" fill="#d874d8"/>
<path d="M251.17,635.22 C250.96,631.91 251.99,627.98 253.65,625.30 C255.30,622.61 258.40,620.33 261.09,619.09 C263.78,617.85 267.09,617.23 269.78,617.85 C272.46,618.47 275.36,620.33 277.22,622.81 C279.08,625.30 280.53,629.64 280.94,632.74 C281.36,635.84 280.94,638.94 279.70,641.42 C278.46,643.91 276.19,646.39 273.50,647.63 C270.81,648.87 266.67,649.28 263.57,648.87 C260.47,648.45 256.96,647.42 254.89,645.15 C252.82,642.87 251.37,638.53 251.17,635.22 Z" fill="#e496e4" opacity="0.35"/>
<path d="M258.61,633.98 C259.33,631.91 261.51,628.91 263.57,627.78 C265.64,626.64 268.74,626.54 271.02,627.16 C273.29,627.78 276.19,629.53 277.22,631.50 C278.25,633.46 278.25,636.88 277.22,638.94 C276.19,641.01 273.29,643.08 271.02,643.91 C268.74,644.73 265.54,644.53 263.57,643.91 C261.61,643.29 260.06,641.84 259.23,640.18 C258.40,638.53 257.89,636.05 258.61,633.98 Z" fill="#c462c8" opacity="0.35"/>
<clipPath id="t1c"><path d="M277.84,606.68 C279.29,605.75 282.91,606.68 285.91,607.31 C288.90,607.93 291.90,608.44 295.83,610.41 C299.76,612.37 306.13,615.99 309.48,619.09 C312.83,622.19 315.06,625.92 315.93,629.02 C316.80,632.12 315.77,635.43 314.69,637.70 C313.61,639.98 311.17,641.32 309.48,642.67 C307.78,644.01 305.76,645.97 304.52,645.77 C303.28,645.56 303.28,643.18 302.03,641.42 C300.79,639.67 299.14,637.29 297.07,635.22 C295.00,633.15 292.11,631.29 289.63,629.02 C287.15,626.74 284.25,624.26 282.18,621.57 C280.12,618.89 277.94,615.37 277.22,612.89 C276.50,610.41 276.39,607.62 277.84,606.68 Z"/></clipPath>
<path d="M277.84,606.68 C279.29,605.75 282.91,606.68 285.91,607.31 C288.90,607.93 291.90,608.44 295.83,610.41 C299.76,612.37 306.13,615.99 309.48,619.09 C312.83,622.19 315.06,625.92 315.93,629.02 C316.80,632.12 315.77,635.43 314.69,637.70 C313.61,639.98 311.17,641.32 309.48,642.67 C307.78,644.01 305.76,645.97 304.52,645.77 C303.28,645.56 303.28,643.18 302.03,641.42 C300.79,639.67 299.14,637.29 297.07,635.22 C295.00,633.15 292.11,631.29 289.63,629.02 C287.15,626.74 284.25,624.26 282.18,621.57 C280.12,618.89 277.94,615.37 277.22,612.89 C276.50,610.41 276.39,607.62 277.84,606.68 Z" fill="#5c52bc"/>
<path d="M277.84,607.31 C278.88,606.23 283.73,606.75 285.29,607.68 C286.84,608.61 287.46,611.40 287.15,612.89 C286.84,614.38 284.77,616.40 283.42,616.61 C282.08,616.82 280.01,615.68 279.08,614.13 C278.15,612.58 276.81,608.38 277.84,607.31 Z" fill="#7c80c0" opacity="0.8"/>
<circle cx="292" cy="626" r="0.8" fill="#9a2c4c"/>
<circle cx="297" cy="630" r="0.7" fill="#9a2c4c"/>
<circle cx="303" cy="636" r="0.9" fill="#9a2c4c"/>
<circle cx="308" cy="640" r="0.7" fill="#9a2c4c"/>
<circle cx="300" cy="641" r="0.6" fill="#9a2c4c"/>
<circle cx="287" cy="621" r="0.6" fill="#9a2c4c"/>
<circle cx="305" cy="645" r="0.8" fill="#9a2c4c"/>
<path d="M268,627 L284,626 M276,630 L292,631" stroke="#f4e4f4" stroke-width="0.5" fill="none"/>
<path d="M250,640 C249,628 254,620 262,616 M253,644 C252,632 256,624 264,620 M257,646 C256,636 259,628 266,624" stroke="#b860c0" stroke-width="0.45" fill="none" opacity="0.7"/>
<path d="M282,622 C283,632 282,642 280,651" stroke="#c060c8" stroke-width="0.4" fill="none" opacity="0.6"/>
<rect x="288.57" y="627.77" width="0.8" height="0.8" fill="#8a3a6a" opacity="0.55" clip-path="url(#t1c)"/>
<rect x="312.97" y="624.96" width="0.8" height="0.8" fill="#3a3090" opacity="0.55" clip-path="url(#t1c)"/>
<rect x="301.80" y="642.35" width="0.8" height="0.8" fill="#4a44b0" opacity="0.55" clip-path="url(#t1c)"/>
<rect x="289.34" y="615.37" width="0.8" height="0.8" fill="#4a44b0" opacity="0.55" clip-path="url(#t1c)"/>
<rect x="299.48" y="627.99" width="0.8" height="0.8" fill="#4a44b0" opacity="0.55" clip-path="url(#t1c)"/>
<rect x="303.01" y="612.02" width="0.8" height="0.8" fill="#6a70c0" opacity="0.55" clip-path="url(#t1c)"/>
<rect x="311.25" y="626.93" width="0.8" height="0.8" fill="#3a3090" opacity="0.55" clip-path="url(#t1c)"/>
<rect x="304.17" y="608.56" width="0.8" height="0.8" fill="#3a3090" opacity="0.55" clip-path="url(#t1c)"/>
<rect x="290.85" y="607.24" width="0.8" height="0.8" fill="#8a3a6a" opacity="0.55" clip-path="url(#t1c)"/>
<rect x="297.02" y="634.75" width="0.8" height="0.8" fill="#4a44b0" opacity="0.55" clip-path="url(#t1c)"/>
<rect x="305.71" y="642.84" width="0.8" height="0.8" fill="#4a44b0" opacity="0.55" clip-path="url(#t1c)"/>
<rect x="306.21" y="629.08" width="0.8" height="0.8" fill="#6a70c0" opacity="0.55" clip-path="url(#t1c)"/>
<rect x="311.64" y="609.90" width="0.8" height="0.8" fill="#6a70c0" opacity="0.55" clip-path="url(#t1c)"/>
<rect x="297.82" y="616.32" width="0.8" height="0.8" fill="#4a44b0" opacity="0.55" clip-path="url(#t1c)"/>
<rect x="308.04" y="640.21" width="0.8" height="0.8" fill="#4a44b0" opacity="0.55" clip-path="url(#t1c)"/>
<rect x="298.26" y="621.43" width="0.8" height="0.8" fill="#8a3a6a" opacity="0.55" clip-path="url(#t1c)"/>
<rect x="299.23" y="622.30" width="0.8" height="0.8" fill="#6a70c0" opacity="0.55" clip-path="url(#t1c)"/>
<rect x="312.55" y="633.28" width="0.8" height="0.8" fill="#3a3090" opacity="0.55" clip-path="url(#t1c)"/>
<rect x="310.83" y="645.64" width="0.8" height="0.8" fill="#6a70c0" opacity="0.55" clip-path="url(#t1c)"/>
<rect x="305.15" y="619.06" width="0.8" height="0.8" fill="#3a3090" opacity="0.55" clip-path="url(#t1c)"/>
<rect x="305.70" y="614.44" width="0.8" height="0.8" fill="#8a3a6a" opacity="0.55" clip-path="url(#t1c)"/>
<rect x="290.26" y="608.54" width="0.8" height="0.8" fill="#4a44b0" opacity="0.55" clip-path="url(#t1c)"/>
<rect x="283.19" y="638.02" width="0.8" height="0.8" fill="#4a44b0" opacity="0.55" clip-path="url(#t1c)"/>
<rect x="312.30" y="606.81" width="0.8" height="0.8" fill="#4a44b0" opacity="0.55" clip-path="url(#t1c)"/>
<rect x="307.68" y="640.91" width="0.8" height="0.8" fill="#3a3090" opacity="0.55" clip-path="url(#t1c)"/>
<rect x="301.78" y="636.47" width="0.8" height="0.8" fill="#4a44b0" opacity="0.55" clip-path="url(#t1c)"/>
<rect x="305.86" y="619.24" width="0.8" height="0.8" fill="#8a3a6a" opacity="0.55" clip-path="url(#t1c)"/>
<rect x="298.20" y="645.94" width="0.8" height="0.8" fill="#8a3a6a" opacity="0.55" clip-path="url(#t1c)"/>
<rect x="280.26" y="610.32" width="0.8" height="0.8" fill="#3a3090" opacity="0.55" clip-path="url(#t1c)"/>
<rect x="314.16" y="644.86" width="0.8" height="0.8" fill="#8a3a6a" opacity="0.55" clip-path="url(#t1c)"/>
<rect x="301.98" y="612.25" width="0.8" height="0.8" fill="#3a3090" opacity="0.55" clip-path="url(#t1c)"/>
<rect x="315.28" y="619.59" width="0.8" height="0.8" fill="#8a3a6a" opacity="0.55" clip-path="url(#t1c)"/>
<rect x="314.51" y="641.87" width="0.8" height="0.8" fill="#4a44b0" opacity="0.55" clip-path="url(#t1c)"/>
<rect x="293.56" y="640.80" width="0.8" height="0.8" fill="#4a44b0" opacity="0.55" clip-path="url(#t1c)"/>
<rect x="303.18" y="629.83" width="0.8" height="0.8" fill="#3a3090" opacity="0.55" clip-path="url(#t1c)"/>
<rect x="302.32" y="643.62" width="0.8" height="0.8" fill="#8a3a6a" opacity="0.55" clip-path="url(#t1c)"/>
<rect x="295.52" y="634.81" width="0.8" height="0.8" fill="#6a70c0" opacity="0.55" clip-path="url(#t1c)"/>
<rect x="313.71" y="623.50" width="0.8" height="0.8" fill="#8a3a6a" opacity="0.55" clip-path="url(#t1c)"/>
<rect x="298.76" y="627.94" width="0.8" height="0.8" fill="#3a3090" opacity="0.55" clip-path="url(#t1c)"/>
<rect x="308.38" y="645.50" width="0.8" height="0.8" fill="#8a3a6a" opacity="0.55" clip-path="url(#t1c)"/>
<rect x="280.72" y="630.63" width="0.8" height="0.8" fill="#6a70c0" opacity="0.55" clip-path="url(#t1c)"/>
<rect x="282.16" y="631.09" width="0.8" height="0.8" fill="#4a44b0" opacity="0.55" clip-path="url(#t1c)"/>
<rect x="292.70" y="642.69" width="0.8" height="0.8" fill="#8a3a6a" opacity="0.55" clip-path="url(#t1c)"/>
<rect x="306.57" y="606.89" width="0.8" height="0.8" fill="#3a3090" opacity="0.55" clip-path="url(#t1c)"/>
<rect x="314.37" y="606.85" width="0.8" height="0.8" fill="#8a3a6a" opacity="0.55" clip-path="url(#t1c)"/>
<rect x="289.04" y="624.25" width="0.8" height="0.8" fill="#8a3a6a" opacity="0.55" clip-path="url(#t1c)"/>
<rect x="286.39" y="613.41" width="0.8" height="0.8" fill="#8a3a6a" opacity="0.55" clip-path="url(#t1c)"/>
<rect x="310.38" y="616.57" width="0.8" height="0.8" fill="#4a44b0" opacity="0.55" clip-path="url(#t1c)"/>
<rect x="283.78" y="638.52" width="0.8" height="0.8" fill="#6a70c0" opacity="0.55" clip-path="url(#t1c)"/>
<rect x="291.16" y="614.90" width="0.8" height="0.8" fill="#8a3a6a" opacity="0.55" clip-path="url(#t1c)"/>
<rect x="288.59" y="613.50" width="0.8" height="0.8" fill="#4a44b0" opacity="0.55" clip-path="url(#t1c)"/>
<rect x="303.38" y="609.88" width="0.8" height="0.8" fill="#8a3a6a" opacity="0.55" clip-path="url(#t1c)"/>
<rect x="314.17" y="633.00" width="0.8" height="0.8" fill="#6a70c0" opacity="0.55" clip-path="url(#t1c)"/>
<rect x="295.78" y="640.22" width="0.8" height="0.8" fill="#6a70c0" opacity="0.55" clip-path="url(#t1c)"/>
<rect x="282.88" y="635.68" width="0.8" height="0.8" fill="#6a70c0" opacity="0.55" clip-path="url(#t1c)"/>
<rect x="311.86" y="624.04" width="0.8" height="0.8" fill="#6a70c0" opacity="0.55" clip-path="url(#t1c)"/>
<rect x="308.33" y="607.36" width="0.8" height="0.8" fill="#6a70c0" opacity="0.55" clip-path="url(#t1c)"/>
<rect x="291.35" y="639.45" width="0.8" height="0.8" fill="#6a70c0" opacity="0.55" clip-path="url(#t1c)"/>
<rect x="311.09" y="619.60" width="0.8" height="0.8" fill="#3a3090" opacity="0.55" clip-path="url(#t1c)"/>
<rect x="309.03" y="619.81" width="0.8" height="0.8" fill="#6a70c0" opacity="0.55" clip-path="url(#t1c)"/>
<rect x="295.17" y="626.74" width="0.8" height="0.8" fill="#8a3a6a" opacity="0.55" clip-path="url(#t1c)"/>
<rect x="296.73" y="631.37" width="0.8" height="0.8" fill="#8a3a6a" opacity="0.55" clip-path="url(#t1c)"/>
<rect x="295.11" y="622.38" width="0.8" height="0.8" fill="#4a44b0" opacity="0.55" clip-path="url(#t1c)"/>
<rect x="285.62" y="606.19" width="0.8" height="0.8" fill="#4a44b0" opacity="0.55" clip-path="url(#t1c)"/>
<rect x="300.12" y="645.43" width="0.8" height="0.8" fill="#6a70c0" opacity="0.55" clip-path="url(#t1c)"/>
<rect x="281.16" y="624.27" width="0.8" height="0.8" fill="#8a3a6a" opacity="0.55" clip-path="url(#t1c)"/>
<rect x="299.58" y="641.59" width="0.8" height="0.8" fill="#3a3090" opacity="0.55" clip-path="url(#t1c)"/>
<rect x="310.89" y="644.84" width="0.8" height="0.8" fill="#3a3090" opacity="0.55" clip-path="url(#t1c)"/>
<rect x="309.17" y="607.80" width="0.8" height="0.8" fill="#6a70c0" opacity="0.55" clip-path="url(#t1c)"/>
<rect x="312.28" y="641.99" width="0.8" height="0.8" fill="#3a3090" opacity="0.55" clip-path="url(#t1c)"/>
<rect x="280.47" y="635.81" width="0.8" height="0.8" fill="#6a70c0" opacity="0.55" clip-path="url(#t1c)"/>
<rect x="298.11" y="615.56" width="0.8" height="0.8" fill="#3a3090" opacity="0.55" clip-path="url(#t1c)"/>
<rect x="298.90" y="622.55" width="0.8" height="0.8" fill="#3a3090" opacity="0.55" clip-path="url(#t1c)"/>
<rect x="292.29" y="616.10" width="0.8" height="0.8" fill="#4a44b0" opacity="0.55" clip-path="url(#t1c)"/>
<rect x="309.22" y="608.45" width="0.8" height="0.8" fill="#6a70c0" opacity="0.55" clip-path="url(#t1c)"/>
<rect x="287.10" y="627.39" width="0.8" height="0.8" fill="#3a3090" opacity="0.55" clip-path="url(#t1c)"/>
<rect x="286.17" y="637.67" width="0.8" height="0.8" fill="#6a70c0" opacity="0.55" clip-path="url(#t1c)"/>
<rect x="309.65" y="606.30" width="0.8" height="0.8" fill="#4a44b0" opacity="0.55" clip-path="url(#t1c)"/>
<rect x="281.80" y="616.86" width="0.8" height="0.8" fill="#8a3a6a" opacity="0.55" clip-path="url(#t1c)"/>
<rect x="302.25" y="626.79" width="0.8" height="0.8" fill="#3a3090" opacity="0.55" clip-path="url(#t1c)"/>
<rect x="297.02" y="637.06" width="0.8" height="0.8" fill="#3a3090" opacity="0.55" clip-path="url(#t1c)"/>
<rect x="310.85" y="637.01" width="0.8" height="0.8" fill="#3a3090" opacity="0.55" clip-path="url(#t1c)"/>
<rect x="284.49" y="608.74" width="0.8" height="0.8" fill="#3a3090" opacity="0.55" clip-path="url(#t1c)"/>
<rect x="310.76" y="609.45" width="0.8" height="0.8" fill="#4a44b0" opacity="0.55" clip-path="url(#t1c)"/>
<rect x="291.37" y="618.58" width="0.8" height="0.8" fill="#8a3a6a" opacity="0.55" clip-path="url(#t1c)"/>
<rect x="293.89" y="621.59" width="0.8" height="0.8" fill="#8a3a6a" opacity="0.55" clip-path="url(#t1c)"/>
<rect x="292.99" y="613.64" width="0.8" height="0.8" fill="#8a3a6a" opacity="0.55" clip-path="url(#t1c)"/>
<rect x="295.43" y="611.10" width="0.8" height="0.8" fill="#3a3090" opacity="0.55" clip-path="url(#t1c)"/>
<rect x="305.78" y="621.21" width="0.8" height="0.8" fill="#3a3090" opacity="0.55" clip-path="url(#t1c)"/>
<rect x="300.40" y="607.72" width="0.8" height="0.8" fill="#4a44b0" opacity="0.55" clip-path="url(#t1c)"/>
<rect x="301.76" y="637.30" width="0.8" height="0.8" fill="#4a44b0" opacity="0.55" clip-path="url(#t1c)"/>
<rect x="302.92" y="607.74" width="0.8" height="0.8" fill="#4a44b0" opacity="0.55" clip-path="url(#t1c)"/>
<rect x="281.91" y="631.10" width="0.8" height="0.8" fill="#8a3a6a" opacity="0.55" clip-path="url(#t1c)"/>
<rect x="295.14" y="633.76" width="0.8" height="0.8" fill="#4a44b0" opacity="0.55" clip-path="url(#t1c)"/>
<rect x="280.65" y="614.75" width="0.8" height="0.8" fill="#8a3a6a" opacity="0.55" clip-path="url(#t1c)"/>
<rect x="305.03" y="608.86" width="0.8" height="0.8" fill="#4a44b0" opacity="0.55" clip-path="url(#t1c)"/>
<rect x="288.08" y="611.21" width="0.8" height="0.8" fill="#3a3090" opacity="0.55" clip-path="url(#t1c)"/>
<rect x="313.71" y="620.97" width="0.8" height="0.8" fill="#8a3a6a" opacity="0.55" clip-path="url(#t1c)"/>
<rect x="284.37" y="633.62" width="0.8" height="0.8" fill="#4a44b0" opacity="0.55" clip-path="url(#t1c)"/>
<rect x="304.03" y="635.35" width="0.8" height="0.8" fill="#3a3090" opacity="0.55" clip-path="url(#t1c)"/>
<rect x="309.22" y="634.66" width="0.8" height="0.8" fill="#4a44b0" opacity="0.55" clip-path="url(#t1c)"/>
<rect x="285.17" y="636.97" width="0.8" height="0.8" fill="#3a3090" opacity="0.55" clip-path="url(#t1c)"/>
<rect x="298.98" y="628.57" width="0.8" height="0.8" fill="#4a44b0" opacity="0.55" clip-path="url(#t1c)"/>
<rect x="286.45" y="606.94" width="0.8" height="0.8" fill="#3a3090" opacity="0.55" clip-path="url(#t1c)"/>
<rect x="280.92" y="610.60" width="0.8" height="0.8" fill="#4a44b0" opacity="0.55" clip-path="url(#t1c)"/>
<rect x="310.10" y="644.10" width="0.8" height="0.8" fill="#8a3a6a" opacity="0.55" clip-path="url(#t1c)"/>
<rect x="308.75" y="607.45" width="0.8" height="0.8" fill="#6a70c0" opacity="0.55" clip-path="url(#t1c)"/>
<rect x="283.84" y="635.96" width="0.8" height="0.8" fill="#3a3090" opacity="0.55" clip-path="url(#t1c)"/>
<rect x="299.80" y="640.78" width="0.8" height="0.8" fill="#6a70c0" opacity="0.55" clip-path="url(#t1c)"/>
<rect x="309.81" y="615.69" width="0.8" height="0.8" fill="#6a70c0" opacity="0.55" clip-path="url(#t1c)"/>
<rect x="303.26" y="624.17" width="0.8" height="0.8" fill="#4a44b0" opacity="0.55" clip-path="url(#t1c)"/>
<rect x="289.10" y="629.98" width="0.8" height="0.8" fill="#8a3a6a" opacity="0.55" clip-path="url(#t1c)"/>
<rect x="300.04" y="644.65" width="0.8" height="0.8" fill="#4a44b0" opacity="0.55" clip-path="url(#t1c)"/>
<rect x="298.01" y="644.92" width="0.8" height="0.8" fill="#4a44b0" opacity="0.55" clip-path="url(#t1c)"/>
<rect x="310.37" y="644.68" width="0.8" height="0.8" fill="#4a44b0" opacity="0.55" clip-path="url(#t1c)"/>
<rect x="304.87" y="636.24" width="0.8" height="0.8" fill="#4a44b0" opacity="0.55" clip-path="url(#t1c)"/>
<rect x="285.62" y="622.04" width="0.8" height="0.8" fill="#6a70c0" opacity="0.55" clip-path="url(#t1c)"/>
<rect x="285.85" y="625.92" width="0.8" height="0.8" fill="#4a44b0" opacity="0.55" clip-path="url(#t1c)"/>
<rect x="313.00" y="626.69" width="0.8" height="0.8" fill="#4a44b0" opacity="0.55" clip-path="url(#t1c)"/>
<rect x="301.11" y="640.32" width="0.8" height="0.8" fill="#6a70c0" opacity="0.55" clip-path="url(#t1c)"/>
<rect x="243.50" y="602.10" width="78.10" height="53.30" fill="none" stroke="#3a3a3a" stroke-width="0.8"/>
<rect x="313.80" y="652.00" width="3.40" height="1.00" fill="#000" stroke="none" stroke-width="0.8"/>
<rect x="326.20" y="602.10" width="79.10" height="53.60" fill="#fff" stroke="none" stroke-width="0.8"/>
<path d="M330,630 C329,615 340,604 358,604 C362,604 364,606 365.5,607 C367,605 370,603.8 375,603.8 C392,604 402,615 402.5,630 C403,645 395,654 382,654.5 C375,654.8 370,653 366,651.5 C362,654 356,655 350,654.8 C337,654 330,643 330,630 Z" fill="#d874d8"/>
<path d="M336,640 C334,630 338,620 350,617 C356,616 358,622 357,630 C356,640 352,650 345,651 C340,651 337,646 336,640 Z" fill="#c462c8" opacity="0.35"/>
<radialGradient id="tg2" cx="0.5" cy="0.5" r="0.5"><stop offset="0" stop-color="#e6e4f2"/><stop offset="0.3" stop-color="#c4c0e2"/><stop offset="0.65" stop-color="#9890d0"/><stop offset="0.85" stop-color="#6a5cc4"/><stop offset="1" stop-color="#5444b8"/></radialGradient>
<ellipse cx="375.6" cy="627.3" rx="19.5" ry="17.2" fill="url(#tg2)"/>
<rect x="372.38" y="632.93" width="0.8" height="0.8" fill="#9a5a9a" opacity="0.8"/>
<rect x="391.60" y="631.69" width="0.8" height="0.8" fill="#4a3aa8" opacity="0.8"/>
<rect x="372.64" y="630.22" width="0.8" height="0.8" fill="#5a4cb8" opacity="0.8"/>
<rect x="376.79" y="631.93" width="0.8" height="0.8" fill="#7a6cc8" opacity="0.8"/>
<rect x="380.64" y="629.37" width="0.8" height="0.8" fill="#7a6cc8" opacity="0.8"/>
<rect x="388.56" y="631.72" width="0.8" height="0.8" fill="#4a3aa8" opacity="0.8"/>
<rect x="365.97" y="618.25" width="0.8" height="0.8" fill="#4a3aa8" opacity="0.8"/>
<rect x="365.29" y="622.55" width="0.8" height="0.8" fill="#ffffff" opacity="0.8"/>
<rect x="392.01" y="631.63" width="0.8" height="0.8" fill="#6050c0" opacity="0.8"/>
<rect x="363.71" y="633.10" width="0.8" height="0.8" fill="#5a4cb8" opacity="0.8"/>
<rect x="369.60" y="640.96" width="0.8" height="0.8" fill="#4a3aa8" opacity="0.8"/>
<rect x="386.75" y="634.69" width="0.8" height="0.8" fill="#4a3aa8" opacity="0.8"/>
<rect x="366.08" y="635.92" width="0.8" height="0.8" fill="#ffffff" opacity="0.8"/>
<rect x="362.22" y="622.28" width="0.8" height="0.8" fill="#6050c0" opacity="0.8"/>
<rect x="370.48" y="617.70" width="0.8" height="0.8" fill="#e8e6f4" opacity="0.8"/>
<rect x="358.24" y="630.64" width="0.8" height="0.8" fill="#6050c0" opacity="0.8"/>
<rect x="370.53" y="641.04" width="0.8" height="0.8" fill="#3c2e98" opacity="0.8"/>
<rect x="376.59" y="622.75" width="0.8" height="0.8" fill="#e8e6f4" opacity="0.8"/>
<rect x="358.51" y="624.91" width="0.8" height="0.8" fill="#3c2e98" opacity="0.8"/>
<rect x="361.90" y="631.29" width="0.8" height="0.8" fill="#4a3aa8" opacity="0.8"/>
<rect x="384.42" y="634.38" width="0.8" height="0.8" fill="#e8e6f4" opacity="0.8"/>
<rect x="383.07" y="636.55" width="0.8" height="0.8" fill="#ffffff" opacity="0.8"/>
<rect x="380.61" y="626.23" width="0.8" height="0.8" fill="#5a4cb8" opacity="0.8"/>
<rect x="360.08" y="620.59" width="0.8" height="0.8" fill="#6050c0" opacity="0.8"/>
<rect x="369.73" y="635.39" width="0.8" height="0.8" fill="#7a6cc8" opacity="0.8"/>
<rect x="364.65" y="622.03" width="0.8" height="0.8" fill="#ffffff" opacity="0.8"/>
<rect x="387.58" y="623.50" width="0.8" height="0.8" fill="#9a5a9a" opacity="0.8"/>
<rect x="390.12" y="632.80" width="0.8" height="0.8" fill="#6050c0" opacity="0.8"/>
<rect x="364.50" y="614.41" width="0.8" height="0.8" fill="#6050c0" opacity="0.8"/>
<rect x="373.12" y="637.13" width="0.8" height="0.8" fill="#9a5a9a" opacity="0.8"/>
<rect x="365.33" y="640.18" width="0.8" height="0.8" fill="#6050c0" opacity="0.8"/>
<rect x="378.72" y="632.12" width="0.8" height="0.8" fill="#ffffff" opacity="0.8"/>
<rect x="377.57" y="635.81" width="0.8" height="0.8" fill="#9a5a9a" opacity="0.8"/>
<rect x="375.77" y="637.43" width="0.8" height="0.8" fill="#7a6cc8" opacity="0.8"/>
<rect x="386.44" y="632.57" width="0.8" height="0.8" fill="#5a4cb8" opacity="0.8"/>
<rect x="374.41" y="633.20" width="0.8" height="0.8" fill="#7a6cc8" opacity="0.8"/>
<rect x="382.01" y="620.85" width="0.8" height="0.8" fill="#7a6cc8" opacity="0.8"/>
<rect x="390.83" y="626.16" width="0.8" height="0.8" fill="#6050c0" opacity="0.8"/>
<rect x="382.54" y="625.65" width="0.8" height="0.8" fill="#ffffff" opacity="0.8"/>
<rect x="384.32" y="638.00" width="0.8" height="0.8" fill="#4a3aa8" opacity="0.8"/>
<rect x="361.46" y="628.47" width="0.8" height="0.8" fill="#6050c0" opacity="0.8"/>
<rect x="374.19" y="633.36" width="0.8" height="0.8" fill="#5a4cb8" opacity="0.8"/>
<rect x="366.12" y="636.23" width="0.8" height="0.8" fill="#4a3aa8" opacity="0.8"/>
<rect x="370.75" y="616.47" width="0.8" height="0.8" fill="#5a4cb8" opacity="0.8"/>
<rect x="366.65" y="615.78" width="0.8" height="0.8" fill="#6050c0" opacity="0.8"/>
<rect x="388.79" y="618.86" width="0.8" height="0.8" fill="#3c2e98" opacity="0.8"/>
<rect x="379.03" y="617.61" width="0.8" height="0.8" fill="#7a6cc8" opacity="0.8"/>
<rect x="365.50" y="634.24" width="0.8" height="0.8" fill="#7a6cc8" opacity="0.8"/>
<rect x="380.04" y="628.90" width="0.8" height="0.8" fill="#ffffff" opacity="0.8"/>
<rect x="369.89" y="629.26" width="0.8" height="0.8" fill="#5a4cb8" opacity="0.8"/>
<rect x="375.87" y="627.38" width="0.8" height="0.8" fill="#ffffff" opacity="0.8"/>
<rect x="358.05" y="623.70" width="0.8" height="0.8" fill="#3c2e98" opacity="0.8"/>
<rect x="392.68" y="629.72" width="0.8" height="0.8" fill="#3c2e98" opacity="0.8"/>
<rect x="365.10" y="636.35" width="0.8" height="0.8" fill="#6050c0" opacity="0.8"/>
<rect x="365.40" y="620.61" width="0.8" height="0.8" fill="#ffffff" opacity="0.8"/>
<rect x="386.34" y="614.18" width="0.8" height="0.8" fill="#6050c0" opacity="0.8"/>
<rect x="365.35" y="628.41" width="0.8" height="0.8" fill="#ffffff" opacity="0.8"/>
<rect x="384.27" y="632.98" width="0.8" height="0.8" fill="#e8e6f4" opacity="0.8"/>
<rect x="360.35" y="629.10" width="0.8" height="0.8" fill="#3c2e98" opacity="0.8"/>
<rect x="393.45" y="629.58" width="0.8" height="0.8" fill="#3c2e98" opacity="0.8"/>
<rect x="365.67" y="637.57" width="0.8" height="0.8" fill="#4a3aa8" opacity="0.8"/>
<rect x="376.12" y="618.47" width="0.8" height="0.8" fill="#9a5a9a" opacity="0.8"/>
<rect x="385.69" y="617.07" width="0.8" height="0.8" fill="#6050c0" opacity="0.8"/>
<rect x="358.09" y="625.52" width="0.8" height="0.8" fill="#6050c0" opacity="0.8"/>
<rect x="377.46" y="615.59" width="0.8" height="0.8" fill="#5a4cb8" opacity="0.8"/>
<rect x="371.41" y="634.01" width="0.8" height="0.8" fill="#ffffff" opacity="0.8"/>
<rect x="381.38" y="613.55" width="0.8" height="0.8" fill="#3c2e98" opacity="0.8"/>
<rect x="378.32" y="620.46" width="0.8" height="0.8" fill="#7a6cc8" opacity="0.8"/>
<rect x="373.66" y="629.47" width="0.8" height="0.8" fill="#ffffff" opacity="0.8"/>
<rect x="378.77" y="616.52" width="0.8" height="0.8" fill="#ffffff" opacity="0.8"/>
<rect x="369.21" y="612.48" width="0.8" height="0.8" fill="#6050c0" opacity="0.8"/>
<rect x="381.26" y="614.45" width="0.8" height="0.8" fill="#6050c0" opacity="0.8"/>
<rect x="386.33" y="624.57" width="0.8" height="0.8" fill="#ffffff" opacity="0.8"/>
<rect x="385.76" y="633.95" width="0.8" height="0.8" fill="#e8e6f4" opacity="0.8"/>
<rect x="379.73" y="639.58" width="0.8" height="0.8" fill="#3c2e98" opacity="0.8"/>
<rect x="382.49" y="617.85" width="0.8" height="0.8" fill="#9a5a9a" opacity="0.8"/>
<rect x="367.34" y="638.09" width="0.8" height="0.8" fill="#3c2e98" opacity="0.8"/>
<rect x="384.01" y="634.21" width="0.8" height="0.8" fill="#9a5a9a" opacity="0.8"/>
<rect x="375.61" y="616.10" width="0.8" height="0.8" fill="#ffffff" opacity="0.8"/>
<rect x="362.10" y="632.51" width="0.8" height="0.8" fill="#4a3aa8" opacity="0.8"/>
<rect x="381.33" y="612.14" width="0.8" height="0.8" fill="#6050c0" opacity="0.8"/>
<rect x="360.08" y="630.50" width="0.8" height="0.8" fill="#4a3aa8" opacity="0.8"/>
<rect x="374.40" y="620.70" width="0.8" height="0.8" fill="#ffffff" opacity="0.8"/>
<rect x="389.61" y="629.44" width="0.8" height="0.8" fill="#6050c0" opacity="0.8"/>
<rect x="378.06" y="621.49" width="0.8" height="0.8" fill="#5a4cb8" opacity="0.8"/>
<rect x="390.48" y="625.68" width="0.8" height="0.8" fill="#6050c0" opacity="0.8"/>
<rect x="383.23" y="637.26" width="0.8" height="0.8" fill="#ffffff" opacity="0.8"/>
<rect x="393.76" y="628.73" width="0.8" height="0.8" fill="#3c2e98" opacity="0.8"/>
<rect x="388.39" y="635.74" width="0.8" height="0.8" fill="#4a3aa8" opacity="0.8"/>
<rect x="359.80" y="633.41" width="0.8" height="0.8" fill="#4a3aa8" opacity="0.8"/>
<rect x="384.00" y="628.61" width="0.8" height="0.8" fill="#5a4cb8" opacity="0.8"/>
<rect x="376.44" y="639.68" width="0.8" height="0.8" fill="#6050c0" opacity="0.8"/>
<rect x="359.36" y="623.23" width="0.8" height="0.8" fill="#4a3aa8" opacity="0.8"/>
<rect x="384.89" y="622.14" width="0.8" height="0.8" fill="#7a6cc8" opacity="0.8"/>
<rect x="366.87" y="614.83" width="0.8" height="0.8" fill="#3c2e98" opacity="0.8"/>
<rect x="360.04" y="634.72" width="0.8" height="0.8" fill="#3c2e98" opacity="0.8"/>
<rect x="380.51" y="631.92" width="0.8" height="0.8" fill="#5a4cb8" opacity="0.8"/>
<rect x="387.79" y="628.56" width="0.8" height="0.8" fill="#ffffff" opacity="0.8"/>
<rect x="362.95" y="618.30" width="0.8" height="0.8" fill="#4a3aa8" opacity="0.8"/>
<rect x="381.57" y="637.15" width="0.8" height="0.8" fill="#9a5a9a" opacity="0.8"/>
<rect x="378.94" y="630.06" width="0.8" height="0.8" fill="#9a5a9a" opacity="0.8"/>
<rect x="361.90" y="625.91" width="0.8" height="0.8" fill="#ffffff" opacity="0.8"/>
<rect x="378.88" y="624.71" width="0.8" height="0.8" fill="#ffffff" opacity="0.8"/>
<rect x="372.86" y="641.33" width="0.8" height="0.8" fill="#3c2e98" opacity="0.8"/>
<rect x="372.65" y="628.10" width="0.8" height="0.8" fill="#ffffff" opacity="0.8"/>
<rect x="362.03" y="631.73" width="0.8" height="0.8" fill="#3c2e98" opacity="0.8"/>
<rect x="369.11" y="622.83" width="0.8" height="0.8" fill="#e8e6f4" opacity="0.8"/>
<rect x="362.69" y="630.79" width="0.8" height="0.8" fill="#7a6cc8" opacity="0.8"/>
<rect x="366.40" y="626.91" width="0.8" height="0.8" fill="#5a4cb8" opacity="0.8"/>
<rect x="388.42" y="616.29" width="0.8" height="0.8" fill="#6050c0" opacity="0.8"/>
<rect x="391.06" y="620.16" width="0.8" height="0.8" fill="#4a3aa8" opacity="0.8"/>
<rect x="379.27" y="622.23" width="0.8" height="0.8" fill="#ffffff" opacity="0.8"/>
<rect x="367.49" y="633.00" width="0.8" height="0.8" fill="#9a5a9a" opacity="0.8"/>
<rect x="375.89" y="631.67" width="0.8" height="0.8" fill="#9a5a9a" opacity="0.8"/>
<rect x="373.49" y="632.66" width="0.8" height="0.8" fill="#ffffff" opacity="0.8"/>
<rect x="389.38" y="622.48" width="0.8" height="0.8" fill="#6050c0" opacity="0.8"/>
<rect x="386.43" y="639.21" width="0.8" height="0.8" fill="#6050c0" opacity="0.8"/>
<rect x="379.03" y="642.82" width="0.8" height="0.8" fill="#6050c0" opacity="0.8"/>
<rect x="381.20" y="622.98" width="0.8" height="0.8" fill="#9a5a9a" opacity="0.8"/>
<rect x="379.28" y="621.64" width="0.8" height="0.8" fill="#7a6cc8" opacity="0.8"/>
<rect x="387.35" y="626.92" width="0.8" height="0.8" fill="#7a6cc8" opacity="0.8"/>
<rect x="379.09" y="635.92" width="0.8" height="0.8" fill="#9a5a9a" opacity="0.8"/>
<rect x="368.44" y="634.33" width="0.8" height="0.8" fill="#7a6cc8" opacity="0.8"/>
<rect x="373.28" y="628.10" width="0.8" height="0.8" fill="#e8e6f4" opacity="0.8"/>
<rect x="365.60" y="626.34" width="0.8" height="0.8" fill="#ffffff" opacity="0.8"/>
<rect x="389.06" y="637.41" width="0.8" height="0.8" fill="#4a3aa8" opacity="0.8"/>
<rect x="381.49" y="626.37" width="0.8" height="0.8" fill="#e8e6f4" opacity="0.8"/>
<rect x="373.18" y="642.57" width="0.8" height="0.8" fill="#4a3aa8" opacity="0.8"/>
<rect x="374.75" y="633.08" width="0.8" height="0.8" fill="#7a6cc8" opacity="0.8"/>
<rect x="384.51" y="616.50" width="0.8" height="0.8" fill="#6050c0" opacity="0.8"/>
<rect x="364.35" y="633.91" width="0.8" height="0.8" fill="#5a4cb8" opacity="0.8"/>
<rect x="361.62" y="621.48" width="0.8" height="0.8" fill="#4a3aa8" opacity="0.8"/>
<rect x="372.60" y="641.55" width="0.8" height="0.8" fill="#4a3aa8" opacity="0.8"/>
<rect x="371.16" y="629.27" width="0.8" height="0.8" fill="#ffffff" opacity="0.8"/>
<rect x="364.60" y="616.45" width="0.8" height="0.8" fill="#4a3aa8" opacity="0.8"/>
<rect x="368.81" y="622.50" width="0.8" height="0.8" fill="#e8e6f4" opacity="0.8"/>
<rect x="383.71" y="619.01" width="0.8" height="0.8" fill="#e8e6f4" opacity="0.8"/>
<rect x="387.55" y="626.93" width="0.8" height="0.8" fill="#e8e6f4" opacity="0.8"/>
<rect x="372.83" y="624.97" width="0.8" height="0.8" fill="#9a5a9a" opacity="0.8"/>
<rect x="376.04" y="632.65" width="0.8" height="0.8" fill="#ffffff" opacity="0.8"/>
<rect x="375.01" y="634.18" width="0.8" height="0.8" fill="#e8e6f4" opacity="0.8"/>
<rect x="366.29" y="618.76" width="0.8" height="0.8" fill="#ffffff" opacity="0.8"/>
<rect x="372.35" y="638.40" width="0.8" height="0.8" fill="#ffffff" opacity="0.8"/>
<rect x="373.47" y="641.70" width="0.8" height="0.8" fill="#6050c0" opacity="0.8"/>
<rect x="378.04" y="627.81" width="0.8" height="0.8" fill="#5a4cb8" opacity="0.8"/>
<rect x="367.96" y="625.08" width="0.8" height="0.8" fill="#7a6cc8" opacity="0.8"/>
<rect x="375.94" y="638.13" width="0.8" height="0.8" fill="#9a5a9a" opacity="0.8"/>
<rect x="380.70" y="617.63" width="0.8" height="0.8" fill="#7a6cc8" opacity="0.8"/>
<rect x="358.88" y="622.96" width="0.8" height="0.8" fill="#3c2e98" opacity="0.8"/>
<rect x="372.55" y="634.32" width="0.8" height="0.8" fill="#ffffff" opacity="0.8"/>
<rect x="366.32" y="639.64" width="0.8" height="0.8" fill="#3c2e98" opacity="0.8"/>
<rect x="374.68" y="621.30" width="0.8" height="0.8" fill="#e8e6f4" opacity="0.8"/>
<rect x="392.42" y="625.62" width="0.8" height="0.8" fill="#4a3aa8" opacity="0.8"/>
<rect x="389.98" y="633.29" width="0.8" height="0.8" fill="#6050c0" opacity="0.8"/>
<rect x="371.65" y="628.91" width="0.8" height="0.8" fill="#9a5a9a" opacity="0.8"/>
<rect x="384.96" y="614.60" width="0.8" height="0.8" fill="#3c2e98" opacity="0.8"/>
<rect x="389.68" y="625.02" width="0.8" height="0.8" fill="#3c2e98" opacity="0.8"/>
<rect x="372.25" y="637.88" width="0.8" height="0.8" fill="#ffffff" opacity="0.8"/>
<rect x="375.47" y="628.27" width="0.8" height="0.8" fill="#e8e6f4" opacity="0.8"/>
<rect x="393.32" y="623.50" width="0.8" height="0.8" fill="#3c2e98" opacity="0.8"/>
<rect x="374.07" y="629.99" width="0.8" height="0.8" fill="#e8e6f4" opacity="0.8"/>
<rect x="377.19" y="634.09" width="0.8" height="0.8" fill="#e8e6f4" opacity="0.8"/>
<rect x="366.22" y="634.86" width="0.8" height="0.8" fill="#5a4cb8" opacity="0.8"/>
<rect x="370.47" y="620.60" width="0.8" height="0.8" fill="#ffffff" opacity="0.8"/>
<rect x="389.67" y="635.21" width="0.8" height="0.8" fill="#4a3aa8" opacity="0.8"/>
<rect x="372.55" y="629.25" width="0.8" height="0.8" fill="#ffffff" opacity="0.8"/>
<rect x="371.09" y="639.53" width="0.8" height="0.8" fill="#4a3aa8" opacity="0.8"/>
<rect x="364.04" y="621.26" width="0.8" height="0.8" fill="#ffffff" opacity="0.8"/>
<rect x="367.01" y="615.84" width="0.8" height="0.8" fill="#3c2e98" opacity="0.8"/>
<rect x="367.48" y="633.22" width="0.8" height="0.8" fill="#7a6cc8" opacity="0.8"/>
<rect x="384.90" y="638.43" width="0.8" height="0.8" fill="#3c2e98" opacity="0.8"/>
<rect x="385.92" y="638.91" width="0.8" height="0.8" fill="#3c2e98" opacity="0.8"/>
<rect x="387.00" y="619.24" width="0.8" height="0.8" fill="#3c2e98" opacity="0.8"/>
<rect x="371.62" y="616.32" width="0.8" height="0.8" fill="#5a4cb8" opacity="0.8"/>
<rect x="375.85" y="615.09" width="0.8" height="0.8" fill="#4a3aa8" opacity="0.8"/>
<rect x="382.13" y="616.32" width="0.8" height="0.8" fill="#3c2e98" opacity="0.8"/>
<rect x="369.30" y="614.99" width="0.8" height="0.8" fill="#4a3aa8" opacity="0.8"/>
<rect x="378.86" y="628.99" width="0.8" height="0.8" fill="#9a5a9a" opacity="0.8"/>
<rect x="371.76" y="631.33" width="0.8" height="0.8" fill="#7a6cc8" opacity="0.8"/>
<rect x="361.92" y="622.69" width="0.8" height="0.8" fill="#3c2e98" opacity="0.8"/>
<rect x="366.63" y="625.73" width="0.8" height="0.8" fill="#e8e6f4" opacity="0.8"/>
<rect x="392.12" y="627.60" width="0.8" height="0.8" fill="#3c2e98" opacity="0.8"/>
<rect x="391.58" y="620.98" width="0.8" height="0.8" fill="#4a3aa8" opacity="0.8"/>
<rect x="373.03" y="623.79" width="0.8" height="0.8" fill="#9a5a9a" opacity="0.8"/>
<rect x="359.18" y="629.68" width="0.8" height="0.8" fill="#6050c0" opacity="0.8"/>
<rect x="377.14" y="641.33" width="0.8" height="0.8" fill="#4a3aa8" opacity="0.8"/>
<rect x="374.43" y="611.33" width="0.8" height="0.8" fill="#6050c0" opacity="0.8"/>
<rect x="378.49" y="623.60" width="0.8" height="0.8" fill="#9a5a9a" opacity="0.8"/>
<rect x="374.67" y="630.71" width="0.8" height="0.8" fill="#9a5a9a" opacity="0.8"/>
<rect x="372.39" y="623.78" width="0.8" height="0.8" fill="#ffffff" opacity="0.8"/>
<rect x="368.26" y="638.69" width="0.8" height="0.8" fill="#3c2e98" opacity="0.8"/>
<rect x="370.93" y="638.80" width="0.8" height="0.8" fill="#4a3aa8" opacity="0.8"/>
<rect x="362.78" y="628.54" width="0.8" height="0.8" fill="#9a5a9a" opacity="0.8"/>
<rect x="382.60" y="631.72" width="0.8" height="0.8" fill="#7a6cc8" opacity="0.8"/>
<rect x="372.22" y="638.56" width="0.8" height="0.8" fill="#7a6cc8" opacity="0.8"/>
<rect x="359.77" y="630.32" width="0.8" height="0.8" fill="#3c2e98" opacity="0.8"/>
<rect x="381.34" y="642.51" width="0.8" height="0.8" fill="#6050c0" opacity="0.8"/>
<rect x="388.06" y="628.50" width="0.8" height="0.8" fill="#5a4cb8" opacity="0.8"/>
<rect x="387.75" y="625.14" width="0.8" height="0.8" fill="#e8e6f4" opacity="0.8"/>
<rect x="362.18" y="637.42" width="0.8" height="0.8" fill="#4a3aa8" opacity="0.8"/>
<rect x="380.56" y="629.50" width="0.8" height="0.8" fill="#9a5a9a" opacity="0.8"/>
<rect x="357.75" y="624.92" width="0.8" height="0.8" fill="#4a3aa8" opacity="0.8"/>
<rect x="363.89" y="619.51" width="0.8" height="0.8" fill="#6050c0" opacity="0.8"/>
<rect x="387.36" y="618.44" width="0.8" height="0.8" fill="#4a3aa8" opacity="0.8"/>
<rect x="358.29" y="627.50" width="0.8" height="0.8" fill="#6050c0" opacity="0.8"/>
<rect x="376.70" y="627.45" width="0.8" height="0.8" fill="#7a6cc8" opacity="0.8"/>
<rect x="370.69" y="617.92" width="0.8" height="0.8" fill="#9a5a9a" opacity="0.8"/>
<rect x="382.48" y="634.65" width="0.8" height="0.8" fill="#e8e6f4" opacity="0.8"/>
<rect x="383.32" y="633.72" width="0.8" height="0.8" fill="#e8e6f4" opacity="0.8"/>
<rect x="375.68" y="612.46" width="0.8" height="0.8" fill="#4a3aa8" opacity="0.8"/>
<rect x="383.21" y="624.66" width="0.8" height="0.8" fill="#ffffff" opacity="0.8"/>
<rect x="383.71" y="622.24" width="0.8" height="0.8" fill="#e8e6f4" opacity="0.8"/>
<rect x="386.21" y="631.32" width="0.8" height="0.8" fill="#5a4cb8" opacity="0.8"/>
<rect x="391.39" y="634.50" width="0.8" height="0.8" fill="#6050c0" opacity="0.8"/>
<rect x="381.57" y="620.49" width="0.8" height="0.8" fill="#ffffff" opacity="0.8"/>
<rect x="380.62" y="619.84" width="0.8" height="0.8" fill="#ffffff" opacity="0.8"/>
<rect x="375.64" y="635.65" width="0.8" height="0.8" fill="#5a4cb8" opacity="0.8"/>
<rect x="369.08" y="640.35" width="0.8" height="0.8" fill="#6050c0" opacity="0.8"/>
<rect x="388.05" y="617.60" width="0.8" height="0.8" fill="#3c2e98" opacity="0.8"/>
<rect x="361.59" y="636.21" width="0.8" height="0.8" fill="#3c2e98" opacity="0.8"/>
<rect x="360.65" y="623.12" width="0.8" height="0.8" fill="#4a3aa8" opacity="0.8"/>
<rect x="386.44" y="623.08" width="0.8" height="0.8" fill="#5a4cb8" opacity="0.8"/>
<rect x="375.85" y="614.30" width="0.8" height="0.8" fill="#6050c0" opacity="0.8"/>
<rect x="358.01" y="628.70" width="0.8" height="0.8" fill="#3c2e98" opacity="0.8"/>
<rect x="384.46" y="635.28" width="0.8" height="0.8" fill="#e8e6f4" opacity="0.8"/>
<rect x="373.75" y="635.33" width="0.8" height="0.8" fill="#9a5a9a" opacity="0.8"/>
<rect x="384.93" y="626.07" width="0.8" height="0.8" fill="#9a5a9a" opacity="0.8"/>
<rect x="376.52" y="638.53" width="0.8" height="0.8" fill="#9a5a9a" opacity="0.8"/>
<rect x="369.64" y="631.38" width="0.8" height="0.8" fill="#ffffff" opacity="0.8"/>
<rect x="387.26" y="632.51" width="0.8" height="0.8" fill="#7a6cc8" opacity="0.8"/>
<rect x="363.77" y="623.91" width="0.8" height="0.8" fill="#e8e6f4" opacity="0.8"/>
<rect x="388.01" y="627.06" width="0.8" height="0.8" fill="#ffffff" opacity="0.8"/>
<rect x="366.87" y="624.93" width="0.8" height="0.8" fill="#ffffff" opacity="0.8"/>
<rect x="372.55" y="631.40" width="0.8" height="0.8" fill="#ffffff" opacity="0.8"/>
<rect x="364.34" y="638.03" width="0.8" height="0.8" fill="#4a3aa8" opacity="0.8"/>
<rect x="387.76" y="618.17" width="0.8" height="0.8" fill="#6050c0" opacity="0.8"/>
<rect x="363.76" y="636.69" width="0.8" height="0.8" fill="#4a3aa8" opacity="0.8"/>
<rect x="367.90" y="633.88" width="0.8" height="0.8" fill="#ffffff" opacity="0.8"/>
<rect x="361.58" y="627.44" width="0.8" height="0.8" fill="#6050c0" opacity="0.8"/>
<rect x="384.83" y="635.47" width="0.8" height="0.8" fill="#9a5a9a" opacity="0.8"/>
<rect x="379.87" y="612.85" width="0.8" height="0.8" fill="#4a3aa8" opacity="0.8"/>
<rect x="374.39" y="635.30" width="0.8" height="0.8" fill="#7a6cc8" opacity="0.8"/>
<rect x="368.20" y="618.86" width="0.8" height="0.8" fill="#e8e6f4" opacity="0.8"/>
<rect x="385.64" y="614.98" width="0.8" height="0.8" fill="#4a3aa8" opacity="0.8"/>
<rect x="384.01" y="634.87" width="0.8" height="0.8" fill="#7a6cc8" opacity="0.8"/>
<rect x="388.29" y="625.06" width="0.8" height="0.8" fill="#ffffff" opacity="0.8"/>
<rect x="361.77" y="637.13" width="0.8" height="0.8" fill="#3c2e98" opacity="0.8"/>
<rect x="386.82" y="614.71" width="0.8" height="0.8" fill="#4a3aa8" opacity="0.8"/>
<rect x="377.41" y="619.80" width="0.8" height="0.8" fill="#ffffff" opacity="0.8"/>
<rect x="360.47" y="625.43" width="0.8" height="0.8" fill="#3c2e98" opacity="0.8"/>
<rect x="370.44" y="613.10" width="0.8" height="0.8" fill="#6050c0" opacity="0.8"/>
<rect x="389.63" y="634.57" width="0.8" height="0.8" fill="#4a3aa8" opacity="0.8"/>
<rect x="377.40" y="619.65" width="0.8" height="0.8" fill="#ffffff" opacity="0.8"/>
<rect x="369.38" y="620.23" width="0.8" height="0.8" fill="#ffffff" opacity="0.8"/>
<rect x="366.18" y="618.90" width="0.8" height="0.8" fill="#7a6cc8" opacity="0.8"/>
<rect x="373.63" y="622.16" width="0.8" height="0.8" fill="#ffffff" opacity="0.8"/>
<rect x="370.01" y="642.26" width="0.8" height="0.8" fill="#4a3aa8" opacity="0.8"/>
<rect x="368.93" y="632.25" width="0.8" height="0.8" fill="#5a4cb8" opacity="0.8"/>
<rect x="389.16" y="627.39" width="0.8" height="0.8" fill="#7a6cc8" opacity="0.8"/>
<rect x="373.74" y="636.27" width="0.8" height="0.8" fill="#ffffff" opacity="0.8"/>
<rect x="326.20" y="602.10" width="79.10" height="53.60" fill="none" stroke="#3a3a3a" stroke-width="0.8"/>
<rect x="397.20" y="652.00" width="3.40" height="1.00" fill="#000" stroke="none" stroke-width="0.8"/>
<rect x="243.50" y="679.50" width="78.10" height="53.80" fill="#fff" stroke="none" stroke-width="0.8"/>
<path d="M244.96,710.74 C245.13,708.26 245.17,703.50 246.20,700.81 C247.24,698.13 249.10,696.26 251.17,694.61 C253.23,692.96 255.30,692.23 258.61,690.89 C261.92,689.54 267.30,687.79 271.02,686.55 C274.74,685.31 277.43,684.37 280.94,683.44 C284.46,682.51 288.59,681.48 292.11,680.96 C295.62,680.45 298.93,679.93 302.03,680.34 C305.14,680.76 308.24,681.89 310.72,683.44 C313.20,685.00 315.37,687.17 316.92,689.65 C318.47,692.13 319.61,695.02 320.02,698.33 C320.44,701.64 320.13,705.98 319.40,709.50 C318.68,713.01 317.34,716.53 315.68,719.42 C314.03,722.32 311.96,725.01 309.48,726.87 C307.00,728.73 303.69,729.97 300.79,730.59 C297.90,731.21 293.97,731.00 292.11,730.59 C290.25,730.18 292.11,728.32 289.63,728.11 C287.15,727.90 281.36,728.94 277.22,729.35 C273.09,729.76 268.74,730.59 264.81,730.59 C260.89,730.59 256.54,730.59 253.65,729.35 C250.75,728.11 248.85,725.42 247.44,723.15 C246.04,720.87 245.62,717.77 245.21,715.70 C244.80,713.63 244.80,713.22 244.96,710.74 Z" fill="#d874d8"/>
<path d="M274.3,697.2 C276,696.8 278,697 278.6,698 C278.4,700.5 278.2,703 279.2,705 C280.4,706.5 280.6,708.2 279.6,709 C278,709.4 276.2,709.2 275.4,708 C274.6,705 274.2,701 274.3,697.2 Z" fill="#fff"/>
<path d="M285.29,707.02 C285.55,706.44 287.00,707.10 287.77,708.51 C288.53,709.91 289.73,714.21 289.88,715.45 C290.02,716.69 289.26,716.53 288.64,715.95 C288.01,715.37 286.71,713.47 286.15,711.98 C285.60,710.49 285.02,707.60 285.29,707.02 Z" fill="#fff"/>
<circle cx="274.7" cy="696.6" r="3.1" fill="#5c52bc"/>
<path d="M289.63,690.89 C291.08,689.44 293.87,688.82 295.83,689.03 C297.80,689.23 300.28,690.37 301.41,692.13 C302.55,693.89 302.97,697.61 302.66,699.57 C302.34,701.54 299.55,702.47 299.55,703.92 C299.55,705.36 302.45,706.71 302.66,708.26 C302.86,709.81 302.14,712.29 300.79,713.22 C299.45,714.15 296.76,714.25 294.59,713.84 C292.42,713.43 289.01,712.08 287.77,710.74 C286.53,709.40 286.84,707.12 287.15,705.78 C287.46,704.43 289.63,704.02 289.63,702.67 C289.63,701.33 287.15,699.68 287.15,697.71 C287.15,695.75 288.18,692.34 289.63,690.89 Z" fill="#5c52bc"/>
<clipPath id="t3c"><path d="M289.63,690.89 C291.08,689.44 293.87,688.82 295.83,689.03 C297.80,689.23 300.28,690.37 301.41,692.13 C302.55,693.89 302.97,697.61 302.66,699.57 C302.34,701.54 299.55,702.47 299.55,703.92 C299.55,705.36 302.45,706.71 302.66,708.26 C302.86,709.81 302.14,712.29 300.79,713.22 C299.45,714.15 296.76,714.25 294.59,713.84 C292.42,713.43 289.01,712.08 287.77,710.74 C286.53,709.40 286.84,707.12 287.15,705.78 C287.46,704.43 289.63,704.02 289.63,702.67 C289.63,701.33 287.15,699.68 287.15,697.71 C287.15,695.75 288.18,692.34 289.63,690.89 Z"/></clipPath>
<rect x="294.14" y="703.11" width="0.8" height="0.8" fill="#4a44b0" opacity="0.6" clip-path="url(#t3c)"/>
<rect x="294.13" y="711.09" width="0.8" height="0.8" fill="#3a3090" opacity="0.6" clip-path="url(#t3c)"/>
<rect x="289.32" y="701.82" width="0.8" height="0.8" fill="#3a3090" opacity="0.6" clip-path="url(#t3c)"/>
<rect x="287.69" y="696.19" width="0.8" height="0.8" fill="#8a86d0" opacity="0.6" clip-path="url(#t3c)"/>
<rect x="295.70" y="712.04" width="0.8" height="0.8" fill="#8a86d0" opacity="0.6" clip-path="url(#t3c)"/>
<rect x="296.72" y="698.70" width="0.8" height="0.8" fill="#4a44b0" opacity="0.6" clip-path="url(#t3c)"/>
<rect x="297.77" y="704.62" width="0.8" height="0.8" fill="#3a3090" opacity="0.6" clip-path="url(#t3c)"/>
<rect x="297.22" y="710.46" width="0.8" height="0.8" fill="#8a86d0" opacity="0.6" clip-path="url(#t3c)"/>
<rect x="287.07" y="693.14" width="0.8" height="0.8" fill="#3a3090" opacity="0.6" clip-path="url(#t3c)"/>
<rect x="296.79" y="709.01" width="0.8" height="0.8" fill="#b0a8e0" opacity="0.6" clip-path="url(#t3c)"/>
<rect x="293.93" y="710.75" width="0.8" height="0.8" fill="#3a3090" opacity="0.6" clip-path="url(#t3c)"/>
<rect x="297.53" y="701.49" width="0.8" height="0.8" fill="#8a86d0" opacity="0.6" clip-path="url(#t3c)"/>
<rect x="294.23" y="695.51" width="0.8" height="0.8" fill="#8a86d0" opacity="0.6" clip-path="url(#t3c)"/>
<rect x="298.74" y="696.51" width="0.8" height="0.8" fill="#3a3090" opacity="0.6" clip-path="url(#t3c)"/>
<rect x="295.23" y="688.80" width="0.8" height="0.8" fill="#8a86d0" opacity="0.6" clip-path="url(#t3c)"/>
<rect x="293.21" y="710.86" width="0.8" height="0.8" fill="#4a44b0" opacity="0.6" clip-path="url(#t3c)"/>
<rect x="287.20" y="688.46" width="0.8" height="0.8" fill="#8a86d0" opacity="0.6" clip-path="url(#t3c)"/>
<rect x="289.84" y="713.03" width="0.8" height="0.8" fill="#8a86d0" opacity="0.6" clip-path="url(#t3c)"/>
<rect x="294.46" y="714.47" width="0.8" height="0.8" fill="#4a44b0" opacity="0.6" clip-path="url(#t3c)"/>
<rect x="293.56" y="703.29" width="0.8" height="0.8" fill="#3a3090" opacity="0.6" clip-path="url(#t3c)"/>
<rect x="300.01" y="695.28" width="0.8" height="0.8" fill="#8a86d0" opacity="0.6" clip-path="url(#t3c)"/>
<rect x="291.60" y="688.41" width="0.8" height="0.8" fill="#4a44b0" opacity="0.6" clip-path="url(#t3c)"/>
<rect x="299.64" y="691.19" width="0.8" height="0.8" fill="#3a3090" opacity="0.6" clip-path="url(#t3c)"/>
<rect x="298.73" y="688.30" width="0.8" height="0.8" fill="#4a44b0" opacity="0.6" clip-path="url(#t3c)"/>
<rect x="300.35" y="692.80" width="0.8" height="0.8" fill="#3a3090" opacity="0.6" clip-path="url(#t3c)"/>
<rect x="294.05" y="693.15" width="0.8" height="0.8" fill="#3a3090" opacity="0.6" clip-path="url(#t3c)"/>
<rect x="293.55" y="698.36" width="0.8" height="0.8" fill="#4a44b0" opacity="0.6" clip-path="url(#t3c)"/>
<rect x="293.57" y="693.75" width="0.8" height="0.8" fill="#b0a8e0" opacity="0.6" clip-path="url(#t3c)"/>
<rect x="301.56" y="714.32" width="0.8" height="0.8" fill="#b0a8e0" opacity="0.6" clip-path="url(#t3c)"/>
<rect x="303.96" y="688.53" width="0.8" height="0.8" fill="#3a3090" opacity="0.6" clip-path="url(#t3c)"/>
<rect x="293.10" y="711.07" width="0.8" height="0.8" fill="#8a86d0" opacity="0.6" clip-path="url(#t3c)"/>
<rect x="286.76" y="691.95" width="0.8" height="0.8" fill="#4a44b0" opacity="0.6" clip-path="url(#t3c)"/>
<rect x="290.65" y="708.86" width="0.8" height="0.8" fill="#b0a8e0" opacity="0.6" clip-path="url(#t3c)"/>
<rect x="300.95" y="698.43" width="0.8" height="0.8" fill="#8a86d0" opacity="0.6" clip-path="url(#t3c)"/>
<rect x="287.62" y="703.73" width="0.8" height="0.8" fill="#3a3090" opacity="0.6" clip-path="url(#t3c)"/>
<rect x="286.28" y="697.95" width="0.8" height="0.8" fill="#4a44b0" opacity="0.6" clip-path="url(#t3c)"/>
<rect x="288.29" y="703.86" width="0.8" height="0.8" fill="#3a3090" opacity="0.6" clip-path="url(#t3c)"/>
<rect x="301.60" y="692.94" width="0.8" height="0.8" fill="#3a3090" opacity="0.6" clip-path="url(#t3c)"/>
<rect x="291.59" y="694.17" width="0.8" height="0.8" fill="#3a3090" opacity="0.6" clip-path="url(#t3c)"/>
<rect x="299.06" y="692.28" width="0.8" height="0.8" fill="#3a3090" opacity="0.6" clip-path="url(#t3c)"/>
<rect x="298.37" y="698.48" width="0.8" height="0.8" fill="#4a44b0" opacity="0.6" clip-path="url(#t3c)"/>
<rect x="296.86" y="699.38" width="0.8" height="0.8" fill="#8a86d0" opacity="0.6" clip-path="url(#t3c)"/>
<rect x="287.96" y="701.83" width="0.8" height="0.8" fill="#b0a8e0" opacity="0.6" clip-path="url(#t3c)"/>
<rect x="290.29" y="707.02" width="0.8" height="0.8" fill="#b0a8e0" opacity="0.6" clip-path="url(#t3c)"/>
<rect x="293.57" y="712.43" width="0.8" height="0.8" fill="#4a44b0" opacity="0.6" clip-path="url(#t3c)"/>
<rect x="291.28" y="692.74" width="0.8" height="0.8" fill="#8a86d0" opacity="0.6" clip-path="url(#t3c)"/>
<rect x="288.28" y="700.94" width="0.8" height="0.8" fill="#8a86d0" opacity="0.6" clip-path="url(#t3c)"/>
<rect x="291.04" y="712.77" width="0.8" height="0.8" fill="#3a3090" opacity="0.6" clip-path="url(#t3c)"/>
<rect x="299.48" y="689.87" width="0.8" height="0.8" fill="#4a44b0" opacity="0.6" clip-path="url(#t3c)"/>
<rect x="294.02" y="689.63" width="0.8" height="0.8" fill="#3a3090" opacity="0.6" clip-path="url(#t3c)"/>
<rect x="291.08" y="702.34" width="0.8" height="0.8" fill="#3a3090" opacity="0.6" clip-path="url(#t3c)"/>
<rect x="287.66" y="691.74" width="0.8" height="0.8" fill="#4a44b0" opacity="0.6" clip-path="url(#t3c)"/>
<rect x="303.65" y="705.74" width="0.8" height="0.8" fill="#3a3090" opacity="0.6" clip-path="url(#t3c)"/>
<rect x="296.62" y="712.94" width="0.8" height="0.8" fill="#4a44b0" opacity="0.6" clip-path="url(#t3c)"/>
<rect x="302.38" y="706.93" width="0.8" height="0.8" fill="#8a86d0" opacity="0.6" clip-path="url(#t3c)"/>
<rect x="286.38" y="705.18" width="0.8" height="0.8" fill="#4a44b0" opacity="0.6" clip-path="url(#t3c)"/>
<rect x="287.21" y="696.40" width="0.8" height="0.8" fill="#3a3090" opacity="0.6" clip-path="url(#t3c)"/>
<rect x="303.99" y="690.03" width="0.8" height="0.8" fill="#b0a8e0" opacity="0.6" clip-path="url(#t3c)"/>
<rect x="299.27" y="712.31" width="0.8" height="0.8" fill="#3a3090" opacity="0.6" clip-path="url(#t3c)"/>
<rect x="300.28" y="712.71" width="0.8" height="0.8" fill="#b0a8e0" opacity="0.6" clip-path="url(#t3c)"/>
<rect x="287.53" y="700.78" width="0.8" height="0.8" fill="#8a86d0" opacity="0.6" clip-path="url(#t3c)"/>
<rect x="301.68" y="699.26" width="0.8" height="0.8" fill="#8a86d0" opacity="0.6" clip-path="url(#t3c)"/>
<rect x="301.54" y="703.47" width="0.8" height="0.8" fill="#4a44b0" opacity="0.6" clip-path="url(#t3c)"/>
<rect x="292.83" y="688.34" width="0.8" height="0.8" fill="#8a86d0" opacity="0.6" clip-path="url(#t3c)"/>
<rect x="287.44" y="705.26" width="0.8" height="0.8" fill="#b0a8e0" opacity="0.6" clip-path="url(#t3c)"/>
<rect x="301.84" y="707.66" width="0.8" height="0.8" fill="#4a44b0" opacity="0.6" clip-path="url(#t3c)"/>
<rect x="302.82" y="706.74" width="0.8" height="0.8" fill="#4a44b0" opacity="0.6" clip-path="url(#t3c)"/>
<rect x="293.93" y="710.64" width="0.8" height="0.8" fill="#8a86d0" opacity="0.6" clip-path="url(#t3c)"/>
<rect x="295.34" y="701.89" width="0.8" height="0.8" fill="#b0a8e0" opacity="0.6" clip-path="url(#t3c)"/>
<rect x="296.82" y="700.99" width="0.8" height="0.8" fill="#3a3090" opacity="0.6" clip-path="url(#t3c)"/>
<path d="M255,712 C262,700 272,695 280,690 M300,712 C308,705 314,700 318,693" stroke="#c050c0" stroke-width="0.4" fill="none"/>
<rect x="243.50" y="679.50" width="78.10" height="53.80" fill="none" stroke="#3a3a3a" stroke-width="0.8"/>
<rect x="313.80" y="730.00" width="3.40" height="1.00" fill="#000" stroke="none" stroke-width="0.8"/>
<rect x="326.20" y="679.50" width="79.10" height="53.80" fill="#fff" stroke="none" stroke-width="0.8"/>
<path d="M328.34,716.94 C328.45,713.84 328.86,708.26 330.20,704.54 C331.55,700.81 333.72,697.51 336.41,694.61 C339.10,691.72 342.20,689.23 346.33,687.17 C350.47,685.10 356.26,682.93 361.22,682.20 C366.18,681.48 371.56,682.00 376.11,682.82 C380.66,683.65 385.00,685.20 388.52,687.17 C392.03,689.13 394.93,691.92 397.20,694.61 C399.48,697.30 401.13,700.40 402.16,703.30 C403.20,706.19 403.61,709.09 403.40,711.98 C403.20,714.88 402.16,718.39 400.92,720.67 C399.68,722.94 398.03,724.80 395.96,725.63 C393.89,726.45 391.00,726.04 388.52,725.63 C386.03,725.21 383.97,723.46 381.07,723.15 C378.18,722.84 374.45,723.66 371.15,723.77 C367.84,723.87 364.32,723.87 361.22,723.77 C358.12,723.66 355.02,722.84 352.54,723.15 C350.05,723.46 347.57,724.39 346.33,725.63 C345.09,726.87 346.33,729.66 345.09,730.59 C343.85,731.52 340.75,731.62 338.89,731.21 C337.03,730.80 335.48,729.45 333.93,728.11 C332.37,726.77 330.51,725.01 329.58,723.15 C328.65,721.29 328.24,720.04 328.34,716.94 Z" fill="#d874d8"/>
<path d="M346.33,700.81 C349.23,698.54 355.64,697.51 361.22,697.09 C366.80,696.68 375.70,696.68 379.83,698.33 C383.97,699.99 385.41,703.50 386.03,707.02 C386.66,710.53 387.69,716.94 383.55,719.42 C379.42,721.91 367.22,721.91 361.22,721.91 C355.22,721.91 350.47,721.29 347.57,719.42 C344.68,717.56 344.06,713.84 343.85,710.74 C343.64,707.64 343.44,703.09 346.33,700.81 Z" fill="#e496e4" opacity="0.3"/>
<path d="M336.41,714.46 C336.32,712.44 337.30,707.64 338.64,704.78 C339.98,701.93 343.56,696.72 344.47,697.34 C345.38,697.96 344.99,705.24 344.10,708.51 C343.21,711.77 340.42,715.95 339.14,716.94 C337.85,717.94 336.49,716.49 336.41,714.46 Z" fill="#fff"/>
<path d="M360.97,698.58 C361.86,697.90 366.02,696.31 366.80,697.34 C367.59,698.37 366.20,703.34 365.69,704.78 C365.17,706.23 364.41,706.58 363.70,706.02 C363.00,705.47 361.92,702.67 361.47,701.43 C361.01,700.19 360.08,699.26 360.97,698.58 Z" fill="#fff"/>
<path d="M379.58,690.64 C380.41,689.81 384.34,690.64 386.66,691.88 C388.97,693.12 391.68,695.77 393.48,698.08 C395.28,700.40 397.08,703.83 397.45,705.78 C397.82,707.72 396.79,709.17 395.71,709.75 C394.64,710.33 392.44,710.28 391.00,709.25 C389.55,708.22 388.58,705.61 387.03,703.54 C385.48,701.48 382.93,698.99 381.69,696.84 C380.45,694.69 378.76,691.47 379.58,690.64 Z" fill="#5c52bc"/>
<clipPath id="t4c"><path d="M379.58,690.64 C380.41,689.81 384.34,690.64 386.66,691.88 C388.97,693.12 391.68,695.77 393.48,698.08 C395.28,700.40 397.08,703.83 397.45,705.78 C397.82,707.72 396.79,709.17 395.71,709.75 C394.64,710.33 392.44,710.28 391.00,709.25 C389.55,708.22 388.58,705.61 387.03,703.54 C385.48,701.48 382.93,698.99 381.69,696.84 C380.45,694.69 378.76,691.47 379.58,690.64 Z"/></clipPath>
<rect x="390.84" y="704.84" width="0.8" height="0.8" fill="#8a86d0" opacity="0.6" clip-path="url(#t4c)"/>
<rect x="394.97" y="705.52" width="0.8" height="0.8" fill="#3a3090" opacity="0.6" clip-path="url(#t4c)"/>
<rect x="391.33" y="708.02" width="0.8" height="0.8" fill="#8a86d0" opacity="0.6" clip-path="url(#t4c)"/>
<rect x="386.06" y="707.37" width="0.8" height="0.8" fill="#4a44b0" opacity="0.6" clip-path="url(#t4c)"/>
<rect x="389.33" y="701.48" width="0.8" height="0.8" fill="#8a86d0" opacity="0.6" clip-path="url(#t4c)"/>
<rect x="392.89" y="698.16" width="0.8" height="0.8" fill="#3a3090" opacity="0.6" clip-path="url(#t4c)"/>
<rect x="396.41" y="705.31" width="0.8" height="0.8" fill="#3a3090" opacity="0.6" clip-path="url(#t4c)"/>
<rect x="393.48" y="691.44" width="0.8" height="0.8" fill="#4a44b0" opacity="0.6" clip-path="url(#t4c)"/>
<rect x="381.41" y="690.04" width="0.8" height="0.8" fill="#8a86d0" opacity="0.6" clip-path="url(#t4c)"/>
<rect x="382.98" y="694.31" width="0.8" height="0.8" fill="#3a3090" opacity="0.6" clip-path="url(#t4c)"/>
<rect x="395.58" y="695.79" width="0.8" height="0.8" fill="#3a3090" opacity="0.6" clip-path="url(#t4c)"/>
<rect x="389.25" y="703.56" width="0.8" height="0.8" fill="#3a3090" opacity="0.6" clip-path="url(#t4c)"/>
<rect x="382.45" y="709.37" width="0.8" height="0.8" fill="#3a3090" opacity="0.6" clip-path="url(#t4c)"/>
<rect x="397.36" y="707.87" width="0.8" height="0.8" fill="#b0a8e0" opacity="0.6" clip-path="url(#t4c)"/>
<rect x="379.41" y="698.30" width="0.8" height="0.8" fill="#3a3090" opacity="0.6" clip-path="url(#t4c)"/>
<rect x="384.01" y="696.64" width="0.8" height="0.8" fill="#8a86d0" opacity="0.6" clip-path="url(#t4c)"/>
<rect x="390.32" y="704.15" width="0.8" height="0.8" fill="#8a86d0" opacity="0.6" clip-path="url(#t4c)"/>
<rect x="384.89" y="706.37" width="0.8" height="0.8" fill="#4a44b0" opacity="0.6" clip-path="url(#t4c)"/>
<rect x="392.23" y="693.70" width="0.8" height="0.8" fill="#4a44b0" opacity="0.6" clip-path="url(#t4c)"/>
<rect x="392.39" y="691.14" width="0.8" height="0.8" fill="#8a86d0" opacity="0.6" clip-path="url(#t4c)"/>
<rect x="397.04" y="697.15" width="0.8" height="0.8" fill="#4a44b0" opacity="0.6" clip-path="url(#t4c)"/>
<rect x="379.34" y="705.75" width="0.8" height="0.8" fill="#b0a8e0" opacity="0.6" clip-path="url(#t4c)"/>
<rect x="386.15" y="706.82" width="0.8" height="0.8" fill="#4a44b0" opacity="0.6" clip-path="url(#t4c)"/>
<rect x="379.89" y="693.62" width="0.8" height="0.8" fill="#3a3090" opacity="0.6" clip-path="url(#t4c)"/>
<rect x="381.26" y="694.92" width="0.8" height="0.8" fill="#4a44b0" opacity="0.6" clip-path="url(#t4c)"/>
<rect x="385.54" y="697.10" width="0.8" height="0.8" fill="#b0a8e0" opacity="0.6" clip-path="url(#t4c)"/>
<rect x="393.74" y="692.16" width="0.8" height="0.8" fill="#b0a8e0" opacity="0.6" clip-path="url(#t4c)"/>
<rect x="395.33" y="690.73" width="0.8" height="0.8" fill="#8a86d0" opacity="0.6" clip-path="url(#t4c)"/>
<rect x="382.96" y="700.26" width="0.8" height="0.8" fill="#b0a8e0" opacity="0.6" clip-path="url(#t4c)"/>
<rect x="396.44" y="696.80" width="0.8" height="0.8" fill="#8a86d0" opacity="0.6" clip-path="url(#t4c)"/>
<rect x="384.94" y="696.34" width="0.8" height="0.8" fill="#3a3090" opacity="0.6" clip-path="url(#t4c)"/>
<rect x="394.18" y="702.54" width="0.8" height="0.8" fill="#b0a8e0" opacity="0.6" clip-path="url(#t4c)"/>
<rect x="397.94" y="693.23" width="0.8" height="0.8" fill="#8a86d0" opacity="0.6" clip-path="url(#t4c)"/>
<rect x="380.54" y="702.01" width="0.8" height="0.8" fill="#4a44b0" opacity="0.6" clip-path="url(#t4c)"/>
<rect x="379.60" y="704.81" width="0.8" height="0.8" fill="#b0a8e0" opacity="0.6" clip-path="url(#t4c)"/>
<rect x="394.70" y="699.11" width="0.8" height="0.8" fill="#4a44b0" opacity="0.6" clip-path="url(#t4c)"/>
<rect x="381.77" y="709.58" width="0.8" height="0.8" fill="#8a86d0" opacity="0.6" clip-path="url(#t4c)"/>
<rect x="394.23" y="696.68" width="0.8" height="0.8" fill="#3a3090" opacity="0.6" clip-path="url(#t4c)"/>
<rect x="381.48" y="704.63" width="0.8" height="0.8" fill="#3a3090" opacity="0.6" clip-path="url(#t4c)"/>
<rect x="390.98" y="705.76" width="0.8" height="0.8" fill="#8a86d0" opacity="0.6" clip-path="url(#t4c)"/>
<rect x="382.21" y="697.46" width="0.8" height="0.8" fill="#8a86d0" opacity="0.6" clip-path="url(#t4c)"/>
<rect x="395.05" y="695.90" width="0.8" height="0.8" fill="#4a44b0" opacity="0.6" clip-path="url(#t4c)"/>
<rect x="396.52" y="702.41" width="0.8" height="0.8" fill="#3a3090" opacity="0.6" clip-path="url(#t4c)"/>
<rect x="397.54" y="699.07" width="0.8" height="0.8" fill="#4a44b0" opacity="0.6" clip-path="url(#t4c)"/>
<rect x="392.09" y="696.35" width="0.8" height="0.8" fill="#b0a8e0" opacity="0.6" clip-path="url(#t4c)"/>
<rect x="384.53" y="698.08" width="0.8" height="0.8" fill="#3a3090" opacity="0.6" clip-path="url(#t4c)"/>
<rect x="381.14" y="706.44" width="0.8" height="0.8" fill="#3a3090" opacity="0.6" clip-path="url(#t4c)"/>
<rect x="390.91" y="699.99" width="0.8" height="0.8" fill="#b0a8e0" opacity="0.6" clip-path="url(#t4c)"/>
<rect x="382.42" y="699.84" width="0.8" height="0.8" fill="#b0a8e0" opacity="0.6" clip-path="url(#t4c)"/>
<rect x="380.20" y="705.90" width="0.8" height="0.8" fill="#b0a8e0" opacity="0.6" clip-path="url(#t4c)"/>
<path d="M346,700 C352,694 360,692 368,693 M372,693 C380,692 386,695 390,700 M350,718 C350,710 352,704 356,700 M370,722 C371,712 370,705 368,699" stroke="#e8b0e8" stroke-width="0.5" fill="none" opacity="0.8"/>
<rect x="326.20" y="679.50" width="79.10" height="53.80" fill="none" stroke="#3a3a3a" stroke-width="0.8"/>
<rect x="397.20" y="730.00" width="3.40" height="1.00" fill="#000" stroke="none" stroke-width="0.8"/>
<line x1="450.40" y1="600.40" x2="450.40" y2="691.60" stroke="#000" stroke-width="0.9"/>
<line x1="450.40" y1="691.60" x2="516.10" y2="691.60" stroke="#000" stroke-width="0.9"/>
<line x1="447.00" y1="691.60" x2="450.40" y2="691.60" stroke="#000" stroke-width="0.9"/>
<text x="446.40" y="694.47" font-size="8.2" text-anchor="end" stroke="#000" stroke-width="0.15">0</text>
<line x1="447.00" y1="661.20" x2="450.40" y2="661.20" stroke="#000" stroke-width="0.9"/>
<text x="446.40" y="664.07" font-size="8.2" text-anchor="end" stroke="#000" stroke-width="0.15">20</text>
<line x1="447.00" y1="630.80" x2="450.40" y2="630.80" stroke="#000" stroke-width="0.9"/>
<text x="446.40" y="633.67" font-size="8.2" text-anchor="end" stroke="#000" stroke-width="0.15">40</text>
<line x1="447.00" y1="600.40" x2="450.40" y2="600.40" stroke="#000" stroke-width="0.9"/>
<text x="446.40" y="603.27" font-size="8.2" text-anchor="end" stroke="#000" stroke-width="0.15">60</text>
<line x1="459.90" y1="691.60" x2="459.90" y2="694.80" stroke="#000" stroke-width="0.8"/>
<line x1="474.50" y1="691.60" x2="474.50" y2="694.80" stroke="#000" stroke-width="0.8"/>
<line x1="489.80" y1="691.60" x2="489.80" y2="694.80" stroke="#000" stroke-width="0.8"/>
<line x1="504.60" y1="691.60" x2="504.60" y2="694.80" stroke="#000" stroke-width="0.8"/>
<rect x="454.90" y="636.88" width="10.00" height="54.72" fill="none" stroke="#000" stroke-width="1.1"/>
<line x1="459.90" y1="632.47" x2="459.90" y2="641.29" stroke="#000" stroke-width="0.8"/>
<line x1="457.50" y1="632.47" x2="462.30" y2="632.47" stroke="#000" stroke-width="0.8"/>
<line x1="457.50" y1="641.29" x2="462.30" y2="641.29" stroke="#000" stroke-width="0.8"/>
<circle cx="459.90" cy="631.26" r="1.0" fill="#000"/>
<circle cx="460.50" cy="634.30" r="1.0" fill="#000"/>
<circle cx="459.90" cy="644.33" r="1.0" fill="#000"/>
<rect x="469.50" y="614.54" width="10.00" height="77.06" fill="none" stroke="#ff1a1a" stroke-width="1.1"/>
<line x1="474.50" y1="609.98" x2="474.50" y2="619.10" stroke="#ff1a1a" stroke-width="0.8"/>
<line x1="472.10" y1="609.98" x2="476.90" y2="609.98" stroke="#ff1a1a" stroke-width="0.8"/>
<line x1="472.10" y1="619.10" x2="476.90" y2="619.10" stroke="#ff1a1a" stroke-width="0.8"/>
<circle cx="474.50" cy="606.78" r="1.0" fill="#ff1a1a"/>
<circle cx="475.10" cy="611.50" r="1.0" fill="#ff1a1a"/>
<circle cx="474.50" cy="622.74" r="1.0" fill="#ff1a1a"/>
<rect x="484.80" y="650.10" width="10.00" height="41.50" fill="none" stroke="#1ad11a" stroke-width="1.1"/>
<line x1="489.80" y1="646.46" x2="489.80" y2="653.75" stroke="#1ad11a" stroke-width="0.8"/>
<line x1="487.40" y1="646.46" x2="492.20" y2="646.46" stroke="#1ad11a" stroke-width="0.8"/>
<line x1="487.40" y1="653.75" x2="492.20" y2="653.75" stroke="#1ad11a" stroke-width="0.8"/>
<circle cx="489.80" cy="643.57" r="1.0" fill="#1ad11a"/>
<circle cx="490.40" cy="651.17" r="1.0" fill="#1ad11a"/>
<circle cx="489.80" cy="652.08" r="1.0" fill="#1ad11a"/>
<rect x="499.60" y="673.66" width="10.00" height="17.94" fill="none" stroke="#1a1aff" stroke-width="1.1"/>
<line x1="504.60" y1="670.47" x2="504.60" y2="676.86" stroke="#1a1aff" stroke-width="0.8"/>
<line x1="502.20" y1="670.47" x2="507.00" y2="670.47" stroke="#1a1aff" stroke-width="0.8"/>
<line x1="502.20" y1="676.86" x2="507.00" y2="676.86" stroke="#1a1aff" stroke-width="0.8"/>
<circle cx="504.60" cy="667.13" r="1.0" fill="#1a1aff"/>
<circle cx="505.20" cy="673.66" r="1.0" fill="#1a1aff"/>
<circle cx="504.60" cy="678.83" r="1.0" fill="#1a1aff"/>
<text transform="translate(430.40,649.20) rotate(-90)" x="0" y="2.87" font-size="8.2" text-anchor="middle" stroke="#000" stroke-width="0.15">Tumor volume (mm³)</text>
<polyline points="459.4,585.80 459.4,583.20 504.70,583.20 504.70,585.80" fill="none" stroke="#222" stroke-width="0.7"/>
<text x="481.70" y="581.73" font-size="5.8" text-anchor="middle" stroke="#000" stroke-width="0.1">p = 0.0004</text>
<polyline points="459.4,594.70 459.4,592.10 489.60,592.10 489.60,594.70" fill="none" stroke="#222" stroke-width="0.7"/>
<text x="473.90" y="590.43" font-size="5.8" text-anchor="middle" stroke="#000" stroke-width="0.1">p = 0.0952</text>
<polyline points="459.4,604.40 459.4,601.80 474.50,601.80 474.50,604.40" fill="none" stroke="#222" stroke-width="0.7"/>
<text x="469.50" y="600.13" font-size="5.8" text-anchor="middle" stroke="#000" stroke-width="0.1">p = 0.0084</text>
<text x="452.30" y="703.87" font-size="8.2" text-anchor="end" stroke="#000" stroke-width="0.15">sh-C</text>
<text x="459.40" y="703.67" font-size="8.2" text-anchor="middle" stroke="#000" stroke-width="0.15">+</text>
<text x="474.50" y="703.67" font-size="8.2" text-anchor="middle" stroke="#000" stroke-width="0.15">-</text>
<text x="489.80" y="703.67" font-size="8.2" text-anchor="middle" stroke="#000" stroke-width="0.15">-</text>
<text x="504.60" y="703.67" font-size="8.2" text-anchor="middle" stroke="#000" stroke-width="0.15">-</text>
<text x="452.30" y="711.87" font-size="8.2" text-anchor="end" stroke="#000" stroke-width="0.15">sh-TSC1</text>
<text x="459.40" y="711.67" font-size="8.2" text-anchor="middle" stroke="#000" stroke-width="0.15">-</text>
<text x="474.50" y="711.67" font-size="8.2" text-anchor="middle" stroke="#000" stroke-width="0.15">+</text>
<text x="489.80" y="711.67" font-size="8.2" text-anchor="middle" stroke="#000" stroke-width="0.15">+</text>
<text x="504.60" y="711.67" font-size="8.2" text-anchor="middle" stroke="#000" stroke-width="0.15">+</text>
<text x="452.30" y="719.97" font-size="8.2" text-anchor="end" stroke="#000" stroke-width="0.15">sh-TSC2</text>
<text x="459.40" y="719.77" font-size="8.2" text-anchor="middle" stroke="#000" stroke-width="0.15">-</text>
<text x="474.50" y="719.77" font-size="8.2" text-anchor="middle" stroke="#000" stroke-width="0.15">+</text>
<text x="489.80" y="719.77" font-size="8.2" text-anchor="middle" stroke="#000" stroke-width="0.15">+</text>
<text x="504.60" y="719.77" font-size="8.2" text-anchor="middle" stroke="#000" stroke-width="0.15">+</text>
<text x="452.30" y="728.47" font-size="8.2" text-anchor="end" stroke="#000" stroke-width="0.15">Vec</text>
<text x="459.40" y="728.27" font-size="8.2" text-anchor="middle" stroke="#000" stroke-width="0.15">+</text>
<text x="474.50" y="728.27" font-size="8.2" text-anchor="middle" stroke="#000" stroke-width="0.15">+</text>
<text x="489.80" y="728.27" font-size="8.2" text-anchor="middle" stroke="#000" stroke-width="0.15">-</text>
<text x="504.60" y="728.27" font-size="8.2" text-anchor="middle" stroke="#000" stroke-width="0.15">-</text>
<text x="408.60" y="736.57" font-size="8.2" stroke="#000" stroke-width="0.15">TSC1+</text>
<text x="412.00" y="745.07" font-size="8.2" stroke="#000" stroke-width="0.15">TSC2</text>
<line x1="436.40" y1="729.60" x2="436.40" y2="745.40" stroke="#000" stroke-width="0.7"/>
<text x="439.40" y="736.57" font-size="8.2" stroke="#000" stroke-width="0.15">WT</text>
<text x="439.40" y="745.07" font-size="8.2" stroke="#000" stroke-width="0.15">Mut</text>
<text x="459.40" y="736.37" font-size="8.2" text-anchor="middle" stroke="#000" stroke-width="0.15">-</text>
<text x="474.50" y="736.37" font-size="8.2" text-anchor="middle" stroke="#000" stroke-width="0.15">-</text>
<text x="489.80" y="736.37" font-size="8.2" text-anchor="middle" stroke="#000" stroke-width="0.15">+</text>
<text x="504.60" y="736.37" font-size="8.2" text-anchor="middle" stroke="#000" stroke-width="0.15">-</text>
<text x="459.40" y="744.87" font-size="8.2" text-anchor="middle" stroke="#000" stroke-width="0.15">-</text>
<text x="474.50" y="744.87" font-size="8.2" text-anchor="middle" stroke="#000" stroke-width="0.15">-</text>
<text x="489.80" y="744.87" font-size="8.2" text-anchor="middle" stroke="#000" stroke-width="0.15">-</text>
<text x="504.60" y="744.87" font-size="8.2" text-anchor="middle" stroke="#000" stroke-width="0.15">+</text>
<text x="529.6" y="575.2" font-size="17" font-weight="bold">l</text>
<line x1="572.20" y1="621.50" x2="572.20" y2="728.40" stroke="#000" stroke-width="0.9"/>
<line x1="572.20" y1="728.40" x2="679.40" y2="728.40" stroke="#666" stroke-width="0.9"/>
<line x1="568.80" y1="728.40" x2="572.20" y2="728.40" stroke="#000" stroke-width="0.9"/>
<text x="567.60" y="731.27" font-size="8.2" text-anchor="end" stroke="#000" stroke-width="0.15">0</text>
<line x1="568.80" y1="680.20" x2="572.20" y2="680.20" stroke="#000" stroke-width="0.9"/>
<text x="567.60" y="683.07" font-size="8.2" text-anchor="end" stroke="#000" stroke-width="0.15">50</text>
<line x1="568.80" y1="632.00" x2="572.20" y2="632.00" stroke="#000" stroke-width="0.9"/>
<text x="567.60" y="634.87" font-size="8.2" text-anchor="end" stroke="#000" stroke-width="0.15">100</text>
<line x1="572.20" y1="728.40" x2="572.20" y2="731.80" stroke="#000" stroke-width="0.9"/>
<text x="572.20" y="740.07" font-size="8.2" text-anchor="middle" stroke="#000" stroke-width="0.15">0</text>
<line x1="599.00" y1="728.40" x2="599.00" y2="731.80" stroke="#000" stroke-width="0.9"/>
<text x="599.00" y="740.07" font-size="8.2" text-anchor="middle" stroke="#000" stroke-width="0.15">10</text>
<line x1="625.80" y1="728.40" x2="625.80" y2="731.80" stroke="#000" stroke-width="0.9"/>
<text x="625.80" y="740.07" font-size="8.2" text-anchor="middle" stroke="#000" stroke-width="0.15">20</text>
<line x1="652.60" y1="728.40" x2="652.60" y2="731.80" stroke="#000" stroke-width="0.9"/>
<text x="652.60" y="740.07" font-size="8.2" text-anchor="middle" stroke="#000" stroke-width="0.15">30</text>
<line x1="679.40" y1="728.40" x2="679.40" y2="731.80" stroke="#000" stroke-width="0.9"/>
<text x="679.40" y="740.07" font-size="8.2" text-anchor="middle" stroke="#000" stroke-width="0.15">40</text>
<text x="627.00" y="749.67" font-size="8.2" text-anchor="middle" stroke="#000" stroke-width="0.15">Days</text>
<text transform="translate(551.40,686.80) rotate(-90)" x="0" y="2.87" font-size="8.2" text-anchor="middle" stroke="#000" stroke-width="0.15">% of survival</text>
<path d="M572.20,632.00 H620.44 V651.28 H633.84 V670.56 H644.56 V689.84 H649.92 V709.12 H663.32 V728.40" fill="none" stroke="#3030ff" stroke-width="0.9"/>
<path d="M572.20,632.00 H604.36 V651.28 H609.72 V670.56 H615.08 V689.84 H631.16 V709.12 H639.20 V728.40" fill="none" stroke="#30d030" stroke-width="0.9"/>
<path d="M572.20,632.00 H596.32 V651.28 H604.36 V670.56 H609.72 V689.84 H615.08 V709.12 H620.44 V728.40" fill="none" stroke="#ff3030" stroke-width="0.9"/>
<path d="M572.20,632.00 H609.72 V651.28 H615.08 V670.56 H623.12 V689.84 H628.48 V709.12 H633.84 V728.40" fill="none" stroke="#222" stroke-width="0.9"/>
<rect x="609.52" y="649.68" width="0.90" height="1.60" fill="#111" stroke="none" stroke-width="0.8"/>
<rect x="614.88" y="668.96" width="0.90" height="1.60" fill="#111" stroke="none" stroke-width="0.8"/>
<rect x="622.92" y="688.24" width="0.90" height="1.60" fill="#111" stroke="none" stroke-width="0.8"/>
<rect x="628.28" y="707.52" width="0.90" height="1.60" fill="#111" stroke="none" stroke-width="0.8"/>
<rect x="633.64" y="726.80" width="0.90" height="1.60" fill="#111" stroke="none" stroke-width="0.8"/>
<rect x="596.12" y="649.68" width="0.90" height="1.60" fill="#111" stroke="none" stroke-width="0.8"/>
<rect x="604.16" y="668.96" width="0.90" height="1.60" fill="#111" stroke="none" stroke-width="0.8"/>
<rect x="609.52" y="688.24" width="0.90" height="1.60" fill="#111" stroke="none" stroke-width="0.8"/>
<rect x="614.88" y="707.52" width="0.90" height="1.60" fill="#111" stroke="none" stroke-width="0.8"/>
<rect x="620.24" y="726.80" width="0.90" height="1.60" fill="#111" stroke="none" stroke-width="0.8"/>
<rect x="604.16" y="649.68" width="0.90" height="1.60" fill="#111" stroke="none" stroke-width="0.8"/>
<rect x="609.52" y="668.96" width="0.90" height="1.60" fill="#111" stroke="none" stroke-width="0.8"/>
<rect x="614.88" y="688.24" width="0.90" height="1.60" fill="#111" stroke="none" stroke-width="0.8"/>
<rect x="630.96" y="707.52" width="0.90" height="1.60" fill="#111" stroke="none" stroke-width="0.8"/>
<rect x="639.00" y="726.80" width="0.90" height="1.60" fill="#111" stroke="none" stroke-width="0.8"/>
<rect x="620.24" y="649.68" width="0.90" height="1.60" fill="#111" stroke="none" stroke-width="0.8"/>
<rect x="633.64" y="668.96" width="0.90" height="1.60" fill="#111" stroke="none" stroke-width="0.8"/>
<rect x="644.36" y="688.24" width="0.90" height="1.60" fill="#111" stroke="none" stroke-width="0.8"/>
<rect x="649.72" y="707.52" width="0.90" height="1.60" fill="#111" stroke="none" stroke-width="0.8"/>
<rect x="663.12" y="726.80" width="0.90" height="1.60" fill="#111" stroke="none" stroke-width="0.8"/>
<line x1="572.20" y1="632.00" x2="609.72" y2="632.00" stroke="#b4b4b4" stroke-width="1.5"/>
<line x1="609.72" y1="632.00" x2="609.72" y2="651.28" stroke="#a0a0a0" stroke-width="0.9"/>
<line x1="547.50" y1="584.20" x2="559.40" y2="584.20" stroke="#000" stroke-width="0.9"/>
<line x1="553.40" y1="582.70" x2="553.40" y2="584.20" stroke="#000" stroke-width="0.7"/>
<text x="560.80" y="587.07" font-size="8.2" stroke="#000" stroke-width="0.15">sh-C+Vec</text>
<line x1="547.50" y1="594.00" x2="559.40" y2="594.00" stroke="#ff3030" stroke-width="0.9"/>
<line x1="553.40" y1="592.50" x2="553.40" y2="594.00" stroke="#000" stroke-width="0.7"/>
<text x="560.80" y="596.87" font-size="8.2" stroke="#000" stroke-width="0.15">sh-TSC1/2+Vec</text>
<line x1="547.50" y1="606.00" x2="559.40" y2="606.00" stroke="#30d030" stroke-width="0.9"/>
<line x1="553.40" y1="604.50" x2="553.40" y2="606.00" stroke="#000" stroke-width="0.7"/>
<text x="560.80" y="608.87" font-size="8.2" stroke="#000" stroke-width="0.15">sh-TSC1/2+TSC1/2-WT</text>
<line x1="547.50" y1="616.10" x2="559.40" y2="616.10" stroke="#3030ff" stroke-width="0.9"/>
<line x1="553.40" y1="614.60" x2="553.40" y2="616.10" stroke="#000" stroke-width="0.7"/>
<text x="560.80" y="618.97" font-size="8.2" stroke="#000" stroke-width="0.15">sh-TSC1/2+TSC1/2-Mut</text>
<polyline points="620.20,584.20 622.70,584.20 622.70,595.50 620.20,595.50" fill="none" stroke="#000" stroke-width="0.7"/>
<text transform="translate(627.50,587.00) rotate(90)" x="0" y="2.06" font-size="5.9" text-anchor="middle" stroke="#000" stroke-width="0.1">p = 0.0486</text>
<polyline points="652.90,584.20 655.40,584.20 655.40,604.90 652.90,604.90" fill="none" stroke="#000" stroke-width="0.7"/>
<text transform="translate(659.50,595.10) rotate(90)" x="0" y="2.06" font-size="5.9" text-anchor="middle" stroke="#000" stroke-width="0.1">p = 0.8272</text>
<polyline points="665.10,584.20 667.60,584.20 667.60,615.60 665.10,615.60" fill="none" stroke="#000" stroke-width="0.7"/>
<text transform="translate(671.70,599.20) rotate(90)" x="0" y="2.06" font-size="5.9" text-anchor="middle" stroke="#000" stroke-width="0.1">p = 0.0357</text>
</svg>
</body></html>
